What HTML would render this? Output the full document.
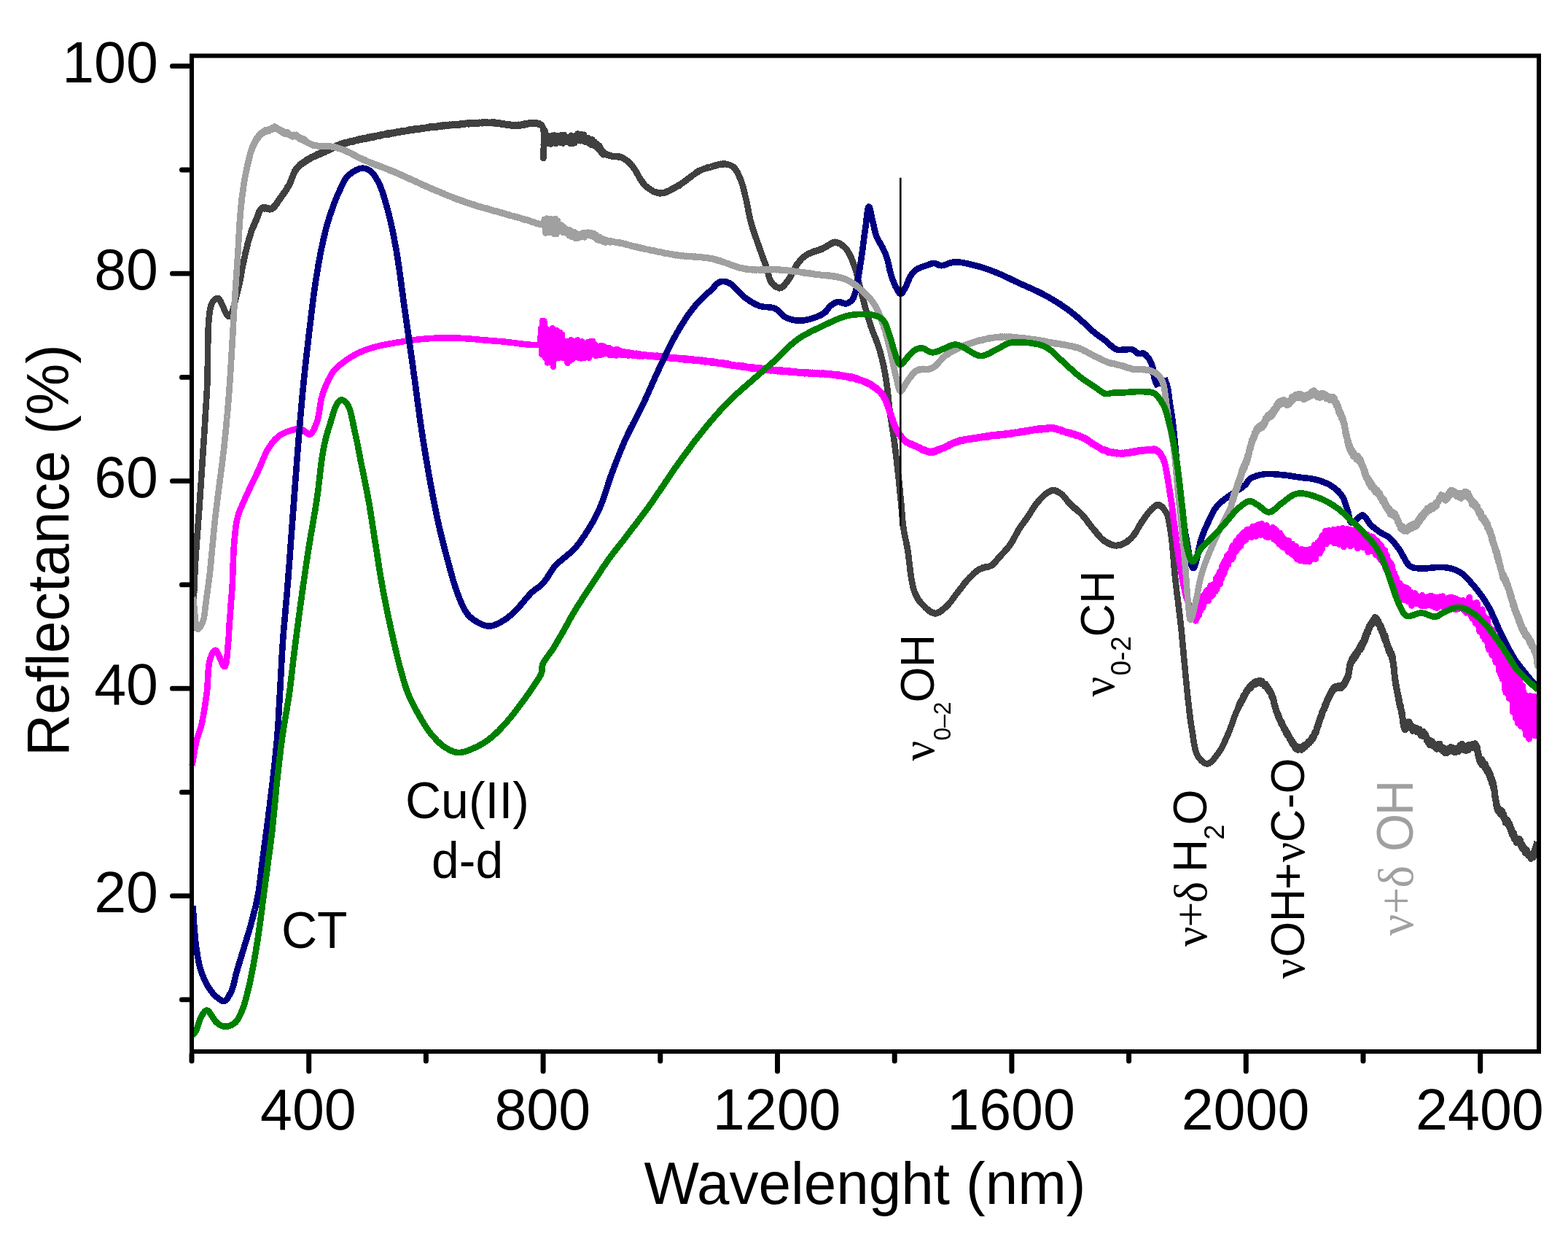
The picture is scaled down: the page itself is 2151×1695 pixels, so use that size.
<!DOCTYPE html>
<html><head><meta charset="utf-8"><title>Reflectance spectra</title><style>
html,body{margin:0;padding:0;background:#fff;}
body{width:2151px;height:1695px;overflow:hidden;}
svg{display:block;}
text{font-family:"Liberation Sans",Arial,sans-serif;fill:#000;}
.tl{font-size:79px;}
.at{font-size:79px;}
.an{font-size:68px;}
.rl{font-size:64.5px;}
</style></head><body>
<svg width="2151" height="1695" viewBox="0 0 2151 1695">
<rect x="0" y="0" width="2151" height="1695" fill="#fff"/>
<path d="M264.2 865.0L264.3 863.5L264.3 862.0L264.4 860.5L264.4 859.0L264.5 857.5L264.5 856.1L264.6 854.6L264.6 853.1L264.7 851.7L264.7 850.2L264.8 848.7L264.8 847.3L264.9 845.8L264.9 844.3L265.0 842.8L265.0 841.3L265.1 839.8L265.2 838.2L265.2 836.7L265.3 835.1L265.3 833.6L265.4 831.9L265.5 830.3L265.5 828.7L265.6 827.0L265.7 825.6L265.7 824.3L265.8 822.9L265.8 821.5L265.9 820.1L265.9 818.7L266.0 817.3L266.1 815.9L266.1 814.4L266.2 813.0L266.2 811.5L266.3 810.1L266.3 808.6L266.4 807.1L266.5 805.6L266.5 804.1L266.6 802.6L266.7 801.1L266.7 799.6L266.8 798.1L266.9 796.5L266.9 795.0L267.0 793.4L267.1 791.9L267.1 790.3L267.2 788.7L267.3 787.2L267.4 785.6L267.4 784.0L267.5 782.4L267.6 780.8L267.7 779.2L267.8 777.6L267.8 776.0L267.9 774.3L268.0 772.7L268.1 771.1L268.2 769.4L268.3 767.8L268.4 766.4L268.5 765.0L268.5 763.7L268.6 762.3L268.7 760.9L268.8 759.5L268.9 758.1L269.0 756.7L269.1 755.3L269.2 753.9L269.3 752.5L269.4 751.1L269.5 749.7L269.6 748.3L269.7 746.9L269.8 745.5L269.9 744.0L270.0 742.6L270.1 741.2L270.2 739.7L270.3 738.3L270.4 736.9L270.5 735.4L270.6 733.9L270.7 732.5L270.8 731.0L270.9 729.5L271.1 728.1L271.2 726.6L271.3 725.1L271.4 723.6L271.5 722.1L271.6 720.6L271.7 719.0L271.9 717.5L272.0 716.0L272.1 714.4L272.2 712.9L272.3 711.3L272.4 709.8L272.6 708.2L272.7 706.6L272.8 705.0L272.9 703.4L273.0 701.8L273.1 700.2L273.3 698.6L273.4 696.9L273.5 695.3L273.6 693.6L273.7 692.0L273.8 690.3L274.0 688.6L274.1 686.9L274.2 685.2L274.3 683.9L274.4 682.6L274.5 681.3L274.6 680.0L274.6 678.6L274.7 677.3L274.8 676.0L274.9 674.6L275.0 673.2L275.1 671.9L275.2 670.5L275.3 669.1L275.4 667.7L275.5 666.3L275.6 664.9L275.7 663.5L275.8 662.0L275.9 660.6L276.0 659.2L276.1 657.7L276.1 656.3L276.2 654.8L276.3 653.3L276.4 651.9L276.5 650.4L276.6 648.9L276.7 647.4L276.8 645.9L276.9 644.4L277.0 642.9L277.1 641.4L277.2 639.9L277.3 638.4L277.4 636.9L277.5 635.3L277.6 633.8L277.7 632.3L277.8 630.7L277.9 629.2L278.0 627.7L278.1 626.1L278.2 624.6L278.3 623.0L278.4 621.5L278.5 619.9L278.6 618.3L278.7 616.8L278.8 615.2L278.9 613.6L279.1 612.1L279.2 610.5L279.3 608.9L279.4 607.4L279.5 605.8L279.6 604.2L279.7 602.7L279.8 601.1L279.9 599.5L280.0 598.0L280.1 596.4L280.2 594.8L280.3 593.2L280.4 591.7L280.5 590.1L280.6 588.5L280.7 587.0L280.8 585.4L280.9 583.8L281.0 582.3L281.1 580.7L281.2 579.2L281.3 577.6L281.4 576.1L281.5 574.5L281.6 573.0L281.7 571.4L281.7 569.9L281.8 568.3L281.9 566.8L282.0 565.3L282.1 563.8L282.2 562.2L282.3 560.7L282.4 559.2L282.5 557.7L282.6 556.2L282.7 554.7L282.8 553.2L282.9 551.7L283.0 550.2L283.1 548.7L283.2 547.3L283.2 545.8L283.3 544.3L283.4 542.9L283.5 541.4L283.6 540.0L283.7 538.4L283.8 536.8L283.9 535.2L283.9 533.6L284.0 531.9L284.1 530.2L284.2 528.6L284.2 526.9L284.3 525.1L284.3 523.4L284.4 521.7L284.4 519.9L284.5 518.2L284.5 516.4L284.6 514.6L284.6 512.8L284.6 511.0L284.7 509.2L284.7 507.4L284.7 505.6L284.7 503.8L284.8 502.0L284.8 500.1L284.8 498.3L284.8 496.5L284.9 494.6L284.9 492.8L284.9 491.0L284.9 489.2L285.0 487.3L285.0 485.5L285.0 483.7L285.0 481.9L285.0 480.1L285.1 478.3L285.1 476.5L285.1 474.7L285.1 473.0L285.2 471.2L285.2 469.5L285.2 467.7L285.3 466.0L285.3 464.3L285.4 462.6L285.4 460.9L285.5 459.2L285.5 457.6L285.6 455.9L285.6 454.3L285.7 452.7L285.7 451.1L285.8 449.6L285.9 448.0L286.0 446.5L286.0 445.0L286.1 443.5L286.2 442.1L286.3 440.7L286.4 439.3L286.5 437.9L286.6 436.5L286.8 435.2L286.9 433.9L287.0 432.7L287.2 431.5L287.3 430.3L287.5 429.1L287.6 428.0L287.8 426.9L288.0 425.8L288.1 424.8L288.3 423.8L288.5 422.8L288.7 421.9L289.0 421.0L289.2 420.2L289.4 419.4L289.6 418.6L289.9 417.9L290.2 417.2L290.4 416.6L290.7 416.0L291.7 414.1L292.8 412.5L294.0 411.2L295.2 410.1L296.4 409.4L297.7 409.0L298.9 409.0L299.6 409.3L300.4 410.0L301.2 410.9L302.0 412.2L302.8 413.6L303.6 415.3L304.4 417.1L305.2 418.9L306.1 420.9L306.9 422.8L307.7 424.7L308.5 426.6L309.3 428.3L310.1 429.9L310.9 431.2L311.6 432.3L312.4 433.2L313.1 433.7L313.8 433.8L314.4 433.6L315.0 433.3L315.6 432.7L316.2 432.0L316.7 431.1L317.3 430.0L317.8 428.8L318.4 427.5L318.9 426.0L319.4 424.5L319.9 422.9L320.4 421.2L320.9 419.4L321.4 417.6L321.9 415.8L322.4 413.9L322.9 412.0L323.3 410.1L323.8 408.3L324.2 406.4L324.7 404.6L325.1 402.9L325.6 401.2L326.0 399.6L326.4 398.2L326.7 396.9L327.1 395.5L327.4 394.1L327.7 392.6L328.1 391.2L328.4 389.7L328.7 388.2L329.0 386.7L329.3 385.2L329.6 383.7L329.9 382.2L330.1 379.8L330.4 379.9L330.7 376.8L331.0 377.0L331.2 373.6L331.5 374.1L331.8 370.5L332.0 371.1L332.3 367.3L332.6 368.1L332.9 364.4L333.1 364.5L333.4 361.3L333.7 362.1L334.0 358.3L334.3 358.9L334.6 355.6L334.9 355.9L335.2 352.7L335.5 353.3L335.9 350.1L336.3 349.8L336.6 346.5L337.0 347.2L337.4 343.8L337.8 343.9L338.2 340.5L338.6 340.3L339.0 337.4L339.3 337.6L339.7 333.9L340.1 334.1L340.5 331.0L340.9 331.1L341.3 328.0L341.7 328.3L342.2 325.0L342.6 325.9L343.0 322.5L343.4 323.2L343.8 320.0L344.2 320.0L344.6 317.3L345.0 317.6L345.6 314.6L346.2 314.4L346.9 311.0L347.5 311.1L348.1 308.4L348.8 308.6L349.4 305.4L350.1 305.9L350.7 302.2L351.3 302.7L352.0 299.7L352.6 299.8L353.2 296.3L353.8 296.5L354.4 293.0L355.0 293.2L355.6 289.5L356.3 290.1L357.1 287.1L358.0 287.9L359.0 285.3L360.3 286.2L361.7 284.1L363.3 286.3L365.0 284.8L366.7 286.6L368.4 285.5L370.1 287.4L371.6 285.9L373.0 286.9L374.2 284.4L375.2 285.1L376.2 282.6L377.2 283.3L378.1 280.3L379.0 280.7L379.9 277.6L380.8 278.3L381.7 275.3L382.7 275.1L383.5 272.4L384.3 273.5L385.2 270.4L386.0 270.8L386.9 267.8L387.8 268.2L388.6 265.4L389.5 265.7L390.4 262.8L391.3 263.2L392.1 260.2L393.0 260.4L393.8 257.2L394.6 257.5L395.4 254.7L396.2 255.3L396.9 252.3L397.6 252.3L398.3 249.1L398.9 249.4L399.5 246.6L400.1 246.6L400.6 243.3L401.2 243.4L401.7 240.5L402.2 240.6L402.8 237.3L403.4 237.9L404.1 234.6L404.7 235.0L405.5 232.4L406.3 233.0L407.3 229.7L408.3 230.5L409.3 227.9L410.4 228.1L411.5 225.6L412.7 226.2L413.9 223.6L415.1 224.9L416.4 222.2L417.7 222.7L419.0 220.0L420.4 221.2L421.6 218.4L422.8 219.5L424.1 217.3L425.4 218.0L426.7 215.5L428.1 216.5L429.5 214.3L430.9 215.2L432.3 212.9L433.7 213.9L435.2 211.3L436.6 212.4L438.1 210.5L439.6 211.6L441.1 208.6L442.5 210.3L444.0 207.6L445.3 209.0L446.7 206.0L448.0 207.2L449.4 204.9L450.7 206.4L452.0 203.7L453.4 205.0L454.7 202.7L456.1 203.6L457.5 201.6L458.9 202.2L460.3 200.1L461.7 201.2L463.2 198.8L464.7 199.9L466.1 197.6L467.7 199.2L469.2 196.5L470.8 198.3L472.4 195.5L473.7 197.1L475.0 195.3L476.3 196.4L477.7 194.4L479.1 195.4L480.4 193.3L481.9 194.8L483.3 192.8L484.7 194.4L486.2 191.9L487.7 193.3L489.1 191.5L490.6 193.0L492.1 190.7L493.7 192.2L495.2 190.1L496.7 191.2L498.2 189.3L499.8 191.0L501.3 188.9L502.9 190.4L504.4 187.8L505.9 189.7L507.5 187.3L509.0 188.6L510.6 186.8L512.1 188.6L513.6 186.6L515.1 187.6L516.6 185.9L518.1 187.2L519.6 185.2L521.1 186.6L522.6 184.3L524.1 185.6L525.7 184.2L527.2 185.1L528.7 183.6L530.2 184.5L531.7 182.5L533.3 184.5L534.8 182.5L536.3 183.7L537.8 181.8L539.3 183.0L540.8 181.2L542.4 182.7L543.9 180.6L545.4 182.0L546.9 180.3L548.4 181.5L550.0 179.8L551.5 181.1L553.0 178.9L554.5 180.5L556.0 178.9L557.6 179.9L559.1 178.2L560.6 179.7L562.1 177.4L563.7 179.1L565.2 177.0L566.7 178.8L568.2 176.7L569.7 178.1L571.2 176.3L572.8 177.9L574.3 175.9L575.8 177.5L577.3 175.4L578.8 176.8L580.3 175.0L581.7 176.6L583.2 174.8L584.7 176.1L586.2 174.2L587.7 176.0L589.2 173.5L590.8 175.2L592.3 173.1L593.8 175.1L595.3 173.2L596.8 174.6L598.3 172.9L599.9 174.4L601.4 172.2L603.0 174.1L604.5 171.8L606.1 173.7L607.6 171.5L609.2 173.3L610.8 171.6L612.4 173.0L614.0 171.4L615.4 172.4L616.9 170.6L618.4 172.1L619.8 170.8L621.3 171.8L622.9 170.0L624.4 171.6L625.9 170.2L627.5 171.8L629.0 169.9L630.6 171.5L632.2 169.3L633.7 171.2L635.3 168.8L636.9 170.8L638.5 168.7L640.1 170.2L641.7 168.4L643.2 170.3L644.8 168.3L646.4 169.8L648.0 168.0L649.5 170.1L651.1 168.3L652.7 169.5L654.2 167.8L655.7 169.7L657.3 167.9L658.8 169.1L660.3 167.7L661.8 169.3L663.2 167.3L664.7 169.1L666.1 167.5L667.5 169.1L668.9 167.5L670.3 169.1L671.7 167.7L673.0 169.2L674.7 167.2L676.4 169.3L678.1 167.5L679.8 169.3L681.4 167.9L683.0 170.1L684.6 168.3L686.2 170.3L687.8 168.8L689.4 170.9L690.9 169.0L692.4 171.0L693.9 170.0L695.4 171.8L696.9 169.9L698.4 172.1L699.8 170.6L701.3 172.6L702.7 171.0L704.1 172.5L705.5 171.2L706.9 172.8L708.3 171.2L710.0 172.5L711.7 170.7L713.4 172.7L715.1 170.5L716.8 172.0L718.4 169.8L720.1 171.4L721.7 169.1L723.2 170.4L724.8 168.7L726.3 169.7L727.7 168.1L729.1 169.7L730.5 168.2L731.8 169.7L733.5 168.3L735.2 170.2L736.9 168.6L738.4 170.7L739.9 169.0L741.3 170.4L742.5 171.3L743.6 172.4L744.1 173.2L744.5 174.2L744.9 175.4L745.2 176.7L745.5 178.2L745.7 179.9L745.9 181.7L746.1 183.6L746.2 185.5L746.2 187.6L746.3 189.7L746.3 191.8L746.3 193.9L746.2 196.1L746.2 198.2L746.1 200.3L746.0 202.4L745.9 204.4L745.8 206.3L745.7 208.1L745.7 209.8L745.6 211.3L745.5 212.7L745.4 214.0L745.4 215.0L745.3 215.9L745.3 216.5L745.4 216.9L745.4 217.0L745.5 216.8L745.5 216.3L745.6 215.5L745.6 214.4L745.6 213.0L745.7 211.4L745.7 209.6L745.7 207.7L745.7 205.6L745.8 203.4L745.8 201.2L745.8 198.9L745.9 196.6L745.9 194.3L745.9 192.0L746.0 189.8L746.1 187.7L746.1 185.8L746.2 184.0L746.3 182.4L746.4 181.0L746.5 179.9L746.7 179.0L746.8 178.5L747.0 178.3L747.3 178.6L747.5 179.7L747.7 181.2L747.9 183.0L748.2 185.0L748.6 187.0L749.1 193.9L749.8 185.7L750.7 197.2L751.7 186.0L752.9 196.9L754.2 187.5L755.7 197.4L757.3 185.8L758.9 195.7L760.6 185.6L762.3 196.9L764.0 185.9L765.6 193.8L767.2 186.4L768.8 195.5L770.4 185.1L772.1 196.5L773.8 184.8L775.4 194.4L777.1 187.6L778.7 194.9L780.3 187.9L781.9 196.6L783.4 185.7L784.9 197.1L786.5 187.4L788.0 196.2L789.5 186.1L791.0 193.4L792.4 183.5L793.8 191.1L795.3 184.8L796.7 193.3L798.2 184.4L799.7 192.5L801.2 184.8L802.6 194.8L804.1 188.5L805.6 195.3L807.0 189.3L808.5 197.3L809.9 191.7L811.2 198.8L812.6 191.4L814.1 199.5L815.4 194.2L816.8 200.2L818.0 196.6L819.2 202.9L820.3 198.8L821.5 205.3L822.4 200.2L823.2 206.6L824.1 203.4L825.0 209.8L826.2 206.4L827.4 212.3L828.7 208.9L830.1 211.7L831.6 211.3L833.2 212.9L834.8 212.4L836.4 213.8L838.0 213.1L839.4 214.5L840.9 213.8L842.5 214.7L844.1 214.1L845.6 215.0L847.2 214.2L848.8 215.4L850.3 214.7L851.8 215.9L853.3 215.6L854.6 217.2L855.9 217.1L857.1 218.8L858.3 218.6L859.6 220.4L860.7 220.5L861.9 222.4L863.1 222.8L864.2 224.8L865.3 225.0L866.4 227.1L867.5 227.4L868.5 229.5L869.4 229.9L870.3 232.0L871.2 232.7L872.1 235.0L872.9 235.4L873.8 237.8L874.6 238.4L875.4 240.7L876.2 241.4L877.0 243.6L877.8 244.0L878.5 246.1L879.3 246.5L880.0 248.4L881.1 249.0L882.0 251.3L882.9 251.7L883.9 253.7L885.0 254.0L886.3 256.1L887.3 256.0L888.4 257.7L889.5 257.8L890.8 259.3L892.1 259.5L893.5 261.0L894.9 261.0L896.3 262.8L897.8 262.7L899.3 264.0L900.8 263.7L902.3 265.1L903.7 264.3L905.2 265.5L906.6 264.5L908.0 265.2L909.4 264.2L910.9 264.6L912.3 263.4L913.8 263.8L915.2 262.4L916.7 262.4L918.2 260.8L919.7 260.8L921.2 259.2L922.7 259.5L924.2 257.5L925.8 257.7L927.3 256.0L928.8 256.1L930.0 254.4L931.3 254.8L932.6 252.9L933.9 252.9L935.2 251.1L936.5 251.1L937.8 249.3L939.1 249.3L940.4 247.5L941.8 247.3L943.1 245.3L944.4 245.2L945.8 243.3L947.1 243.1L948.4 241.4L949.7 241.2L951.0 239.5L952.2 239.3L953.5 237.5L954.7 237.6L955.9 236.0L957.1 236.3L958.3 234.4L959.4 234.7L961.0 233.1L962.6 233.3L964.2 231.9L965.6 232.0L967.1 230.8L968.6 230.9L970.0 229.7L971.5 230.3L972.9 228.9L974.5 229.5L976.0 228.0L977.5 228.4L979.1 227.1L980.7 227.7L982.3 226.2L984.0 226.8L985.6 225.4L987.2 226.0L988.8 224.8L990.4 225.7L991.9 224.4L993.4 225.3L994.8 224.5L996.5 225.6L998.1 225.2L999.6 226.2L1001.1 226.1L1002.6 227.4L1004.0 227.5L1005.3 229.1L1006.6 229.2L1007.6 231.1L1008.5 231.3L1009.4 233.4L1010.3 233.8L1011.1 235.9L1011.8 236.4L1012.6 238.8L1013.3 239.6L1014.0 242.0L1014.7 242.5L1015.3 245.0L1016.0 245.8L1016.5 248.0L1017.1 248.4L1017.5 250.7L1018.0 251.5L1018.5 253.6L1018.9 254.2L1019.3 256.5L1019.7 257.3L1020.1 259.6L1020.5 260.5L1020.9 262.8L1021.3 263.6L1021.7 266.0L1022.0 267.0L1022.4 269.2L1022.8 270.2L1023.2 272.5L1023.5 273.2L1023.9 275.2L1024.2 276.0L1024.5 278.3L1024.8 278.8L1025.1 281.1L1025.4 281.9L1025.7 284.2L1025.9 285.0L1026.2 287.4L1026.5 288.0L1026.8 290.2L1027.1 291.0L1027.4 293.3L1027.7 294.0L1028.0 296.4L1028.4 297.2L1028.7 299.4L1029.0 300.1L1029.4 302.5L1029.8 303.1L1030.2 305.6L1030.6 306.1L1031.0 308.5L1031.5 309.3L1031.9 311.5L1032.4 312.1L1032.8 314.6L1033.3 315.3L1033.8 317.5L1034.3 318.2L1034.8 320.8L1035.3 321.2L1035.9 323.5L1036.4 324.4L1036.9 326.5L1037.4 327.4L1038.0 329.5L1038.5 330.4L1039.0 332.6L1039.5 333.0L1040.0 335.4L1040.5 335.9L1041.0 338.3L1041.5 338.7L1042.0 341.2L1042.5 341.6L1043.1 344.0L1043.6 344.8L1044.2 347.2L1044.7 347.6L1045.3 349.9L1045.8 350.7L1046.4 353.1L1046.9 353.7L1047.4 355.8L1048.0 356.4L1048.5 358.7L1049.0 359.0L1049.5 361.3L1050.0 361.9L1050.5 364.3L1051.0 364.6L1051.5 367.0L1052.0 367.5L1052.5 370.2L1052.9 371.0L1053.3 373.5L1053.7 374.3L1054.1 376.9L1054.5 377.8L1054.9 380.1L1055.4 380.8L1055.9 383.3L1056.4 383.7L1057.0 385.9L1057.7 386.3L1058.5 388.1L1059.6 388.5L1060.8 390.5L1062.1 391.0L1063.4 392.9L1064.8 392.8L1066.2 394.3L1067.6 394.2L1069.0 395.4L1070.3 394.3L1071.4 395.1L1072.5 393.4L1073.7 393.6L1074.8 391.7L1075.8 391.6L1076.9 389.5L1078.0 388.9L1079.0 386.9L1080.1 386.1L1081.1 383.8L1082.1 383.3L1082.9 381.4L1083.7 381.0L1084.5 379.1L1085.2 378.5L1085.9 376.3L1086.6 375.6L1087.4 373.5L1088.1 372.9L1088.8 370.5L1089.5 369.8L1090.2 367.8L1090.9 367.3L1091.7 365.1L1092.4 364.6L1093.2 362.5L1094.0 362.3L1095.0 360.0L1095.9 359.8L1096.9 357.7L1097.9 357.3L1098.8 355.5L1099.8 355.1L1100.9 353.3L1102.0 353.1L1103.1 351.6L1104.4 351.5L1105.7 349.7L1106.9 349.8L1108.2 348.3L1109.6 348.3L1111.0 346.9L1112.5 347.2L1114.0 345.6L1115.6 346.0L1117.2 344.4L1118.7 345.0L1120.3 343.5L1121.9 343.8L1123.5 342.4L1125.0 342.6L1126.5 341.2L1127.9 341.7L1129.3 340.1L1130.8 340.2L1132.3 338.6L1133.7 338.6L1135.1 336.7L1136.5 336.6L1137.9 335.0L1139.2 335.0L1140.5 333.5L1141.9 333.6L1143.2 332.2L1144.5 332.8L1145.8 331.8L1147.3 332.9L1148.8 332.5L1150.3 333.7L1151.8 333.5L1153.3 335.3L1154.7 335.5L1156.1 337.2L1157.5 337.8L1158.8 339.7L1160.0 340.0L1160.9 342.1L1161.7 342.1L1162.5 344.4L1163.3 344.5L1164.1 346.9L1164.8 347.2L1165.5 349.4L1166.2 349.8L1166.9 352.4L1167.5 352.7L1168.2 355.3L1168.8 355.9L1169.4 358.3L1170.0 358.9L1170.6 361.6L1171.2 362.3L1171.8 364.8L1172.3 365.2L1172.7 367.2L1173.2 367.7L1173.6 370.0L1174.1 370.5L1174.5 372.9L1174.9 373.5L1175.2 375.8L1175.6 376.4L1176.0 378.6L1176.4 379.3L1176.7 381.7L1177.1 382.2L1177.4 384.6L1177.8 385.4L1178.2 387.6L1178.5 388.4L1178.9 390.6L1179.2 391.6L1179.6 393.9L1180.0 394.5L1180.4 397.1L1180.8 397.5L1181.2 400.2L1181.6 400.6L1182.0 402.7L1182.3 403.5L1182.7 405.7L1183.1 406.3L1183.5 408.6L1183.9 409.2L1184.3 411.6L1184.7 412.2L1185.0 414.4L1185.4 414.9L1185.8 417.5L1186.2 418.1L1186.6 420.3L1187.0 420.9L1187.4 423.2L1187.8 424.1L1188.3 426.3L1188.7 426.9L1189.1 429.2L1189.5 430.0L1189.9 432.1L1190.4 432.7L1190.8 435.2L1191.2 435.6L1191.7 438.2L1192.1 438.5L1192.5 440.8L1193.0 441.7L1193.5 443.7L1193.9 444.5L1194.4 446.8L1194.9 447.5L1195.5 449.7L1196.0 450.4L1196.5 452.5L1197.0 453.3L1197.6 455.6L1198.1 456.1L1198.7 458.3L1199.2 459.1L1199.8 461.2L1200.3 461.8L1200.9 464.2L1201.4 464.5L1201.9 467.1L1202.5 467.6L1203.0 469.7L1203.5 470.3L1204.0 472.8L1204.5 473.2L1205.0 475.6L1205.5 476.0L1205.9 478.2L1206.4 479.0L1206.8 481.0L1207.2 481.6L1207.6 484.2L1208.0 484.5L1208.4 487.0L1208.8 487.6L1209.2 490.1L1209.6 490.5L1210.0 492.9L1210.3 493.5L1210.7 495.8L1211.0 496.5L1211.3 498.6L1211.6 499.2L1211.9 501.8L1212.3 502.2L1212.6 504.5L1212.9 505.2L1213.1 507.5L1213.4 508.0L1213.7 510.5L1214.0 511.0L1214.3 513.4L1214.6 514.3L1214.8 516.7L1215.1 517.4L1215.3 519.8L1215.6 520.1L1215.8 522.7L1216.0 523.1L1216.2 525.4L1216.4 526.1L1216.6 528.5L1216.8 529.2L1217.0 531.5L1217.2 532.2L1217.4 534.8L1217.5 535.5L1217.7 537.9L1217.9 538.6L1218.0 541.0L1218.2 541.5L1218.4 544.2L1218.5 544.8L1218.7 547.1L1218.9 547.8L1219.0 550.3L1219.2 551.1L1219.4 553.6L1219.5 554.2L1219.7 556.5L1219.9 557.0L1220.1 559.7L1220.2 560.2L1220.4 562.5L1220.6 563.2L1220.8 565.3L1221.0 566.2L1221.2 568.7L1221.5 569.4L1221.7 571.6L1221.9 572.4L1222.1 574.5L1222.3 575.3L1222.6 577.7L1222.8 578.2L1223.0 580.7L1223.3 581.1L1223.5 583.4L1223.7 584.2L1223.9 586.6L1224.2 587.2L1224.4 589.3L1224.6 590.0L1224.9 592.3L1225.1 593.0L1225.3 595.2L1225.5 596.1L1225.7 598.6L1226.0 599.2L1226.2 601.7L1226.4 602.4L1226.6 604.7L1226.8 605.1L1227.0 607.6L1227.2 608.2L1227.4 610.4L1227.6 611.1L1227.8 613.4L1228.0 614.3L1228.1 616.7L1228.3 617.2L1228.5 619.6L1228.7 620.2L1228.9 622.8L1229.1 623.5L1229.3 625.8L1229.5 626.7L1229.7 629.2L1229.8 629.8L1230.0 632.1L1230.2 633.0L1230.4 635.2L1230.6 636.0L1230.8 638.5L1230.9 639.2L1231.1 641.3L1231.3 641.9L1231.4 644.6L1231.6 644.9L1231.8 647.3L1231.9 648.1L1232.1 650.5L1232.3 651.1L1232.4 653.6L1232.6 654.2L1232.8 656.4L1232.9 657.3L1233.1 659.8L1233.3 660.2L1233.4 662.7L1233.6 663.4L1233.7 665.7L1233.9 666.4L1234.0 668.7L1234.2 669.2L1234.3 671.6L1234.4 672.3L1234.6 674.8L1234.7 675.1L1234.9 677.5L1235.0 678.1L1235.2 680.7L1235.3 681.3L1235.5 683.5L1235.6 684.3L1235.8 686.4L1235.9 687.0L1236.0 689.5L1236.2 690.1L1236.3 692.5L1236.5 693.4L1236.6 695.8L1236.7 696.2L1236.9 698.9L1237.0 699.4L1237.1 701.8L1237.3 702.4L1237.4 704.8L1237.5 705.6L1237.6 708.0L1237.8 708.8L1237.9 711.1L1238.1 711.8L1238.2 714.1L1238.4 714.8L1238.5 717.0L1238.7 717.8L1238.8 720.1L1239.0 720.5L1239.2 723.1L1239.4 723.4L1239.6 725.9L1239.8 726.6L1240.1 729.1L1240.3 729.6L1240.6 731.8L1240.9 732.5L1241.2 734.9L1241.5 735.4L1241.8 737.7L1242.1 738.3L1242.4 740.7L1242.7 741.1L1243.0 743.4L1243.3 743.9L1243.6 746.4L1243.9 746.7L1244.2 749.2L1244.5 749.9L1244.8 752.3L1245.0 753.1L1245.3 755.4L1245.5 755.9L1245.7 758.4L1245.9 759.0L1246.2 761.4L1246.4 762.0L1246.5 764.6L1246.7 765.2L1246.9 767.5L1247.1 768.3L1247.3 771.0L1247.5 771.7L1247.7 774.3L1247.8 774.9L1248.0 777.4L1248.2 778.3L1248.4 780.7L1248.6 781.5L1248.8 783.9L1249.0 784.6L1249.2 787.2L1249.4 787.7L1249.6 790.0L1249.8 790.8L1250.0 792.9L1250.3 793.5L1250.5 795.6L1250.7 796.3L1251.0 798.2L1251.4 799.2L1251.7 801.5L1252.1 802.3L1252.4 804.9L1252.8 805.3L1253.1 807.7L1253.5 808.1L1253.9 810.5L1254.4 810.8L1254.9 813.1L1255.4 813.5L1256.0 815.6L1256.6 816.0L1257.3 818.4L1258.1 818.9L1258.9 821.3L1259.8 821.7L1260.7 823.7L1261.7 824.2L1262.7 826.4L1263.7 826.9L1264.7 828.7L1265.8 829.1L1266.9 830.9L1268.0 831.2L1269.2 833.2L1270.5 833.6L1271.8 835.6L1273.2 835.9L1274.6 837.8L1276.0 838.0L1277.4 839.8L1278.9 839.7L1280.3 841.0L1281.7 840.5L1283.1 841.7L1284.5 840.8L1285.9 841.1L1287.3 839.6L1288.7 840.0L1290.1 838.2L1291.5 837.8L1292.9 836.0L1294.2 835.7L1295.6 833.5L1296.9 833.4L1298.2 831.3L1299.2 831.2L1300.2 829.3L1301.2 829.3L1302.2 827.3L1303.1 826.8L1304.1 825.0L1305.0 824.5L1305.9 822.5L1306.8 822.2L1307.8 819.9L1308.7 819.5L1309.6 817.5L1310.5 816.9L1311.4 814.9L1312.4 814.6L1313.3 812.5L1314.2 812.1L1315.2 809.9L1316.1 809.8L1317.0 807.6L1318.0 807.2L1318.9 805.2L1319.8 805.0L1320.8 802.9L1321.7 802.4L1322.6 800.3L1323.6 800.0L1324.5 797.9L1325.5 797.8L1326.4 795.6L1327.4 795.6L1328.4 793.7L1329.5 793.1L1330.6 791.3L1331.7 790.9L1332.9 789.1L1334.0 788.9L1335.1 786.9L1336.3 786.7L1337.4 784.6L1338.6 784.5L1339.8 782.7L1341.0 782.8L1342.2 781.2L1343.5 781.1L1345.0 779.8L1346.5 779.9L1348.1 778.5L1349.8 779.1L1351.4 777.6L1353.1 778.0L1354.7 776.9L1356.3 777.3L1357.8 776.1L1359.2 776.2L1360.5 774.7L1361.8 774.7L1362.9 772.8L1363.9 772.5L1364.9 770.7L1365.9 770.4L1366.8 768.3L1367.8 767.9L1368.8 765.8L1369.9 765.3L1370.8 763.5L1371.8 763.5L1372.7 761.6L1373.8 761.4L1374.8 759.4L1375.8 759.2L1376.9 757.1L1377.9 756.9L1379.0 754.9L1380.0 754.4L1381.1 752.4L1382.1 752.3L1383.1 750.1L1384.1 749.7L1385.0 747.6L1385.9 747.4L1386.7 745.0L1387.5 744.6L1388.3 742.4L1389.1 742.2L1389.9 739.9L1390.6 739.5L1391.4 737.1L1392.1 736.5L1392.9 734.2L1393.6 733.8L1394.3 731.5L1395.1 731.1L1395.9 729.0L1396.6 728.4L1397.4 726.1L1398.2 725.8L1399.1 723.6L1399.9 723.3L1400.8 721.0L1401.7 720.6L1402.6 718.4L1403.5 718.2L1404.4 716.0L1405.3 715.4L1406.2 713.4L1407.1 713.1L1407.9 711.1L1408.8 710.8L1409.7 708.4L1410.6 708.2L1411.4 705.9L1412.3 705.7L1413.2 703.3L1414.0 702.8L1414.9 700.8L1415.7 700.3L1416.5 697.9L1417.4 697.5L1418.2 695.3L1419.1 694.9L1419.9 692.8L1420.8 692.4L1421.7 690.2L1422.7 689.9L1423.7 688.0L1424.8 687.5L1425.9 685.4L1427.0 685.0L1428.1 683.0L1429.2 682.5L1430.4 680.7L1431.5 680.3L1432.7 678.4L1433.8 678.2L1434.9 676.8L1436.0 676.7L1437.6 674.9L1439.1 674.8L1440.7 673.2L1442.2 673.3L1443.8 672.1L1445.4 673.1L1446.8 672.1L1448.2 673.5L1449.6 673.2L1451.1 674.7L1452.5 674.9L1454.0 676.5L1455.4 676.6L1456.7 678.5L1457.8 678.6L1458.8 680.6L1459.9 680.9L1460.8 682.9L1461.8 683.2L1462.8 685.4L1463.8 685.9L1464.8 688.1L1465.8 688.6L1466.9 690.6L1468.0 690.8L1469.1 693.0L1470.2 692.9L1471.3 695.0L1472.5 695.1L1473.7 696.9L1474.9 696.8L1476.1 698.7L1477.3 698.9L1478.5 700.9L1479.7 700.9L1480.9 702.9L1482.1 703.1L1483.2 705.1L1484.2 705.3L1485.2 707.2L1486.1 707.5L1487.1 709.6L1488.0 709.7L1489.0 711.8L1489.9 712.1L1490.8 714.3L1491.7 714.5L1492.7 716.7L1493.6 717.1L1494.5 719.2L1495.5 719.6L1496.4 721.5L1497.3 722.0L1498.3 724.0L1499.3 724.3L1500.3 726.4L1501.2 726.7L1502.2 728.9L1503.2 729.0L1504.2 731.3L1505.2 731.6L1506.2 733.5L1507.1 734.0L1508.2 736.1L1509.2 736.1L1510.2 738.0L1511.3 738.4L1512.3 740.2L1513.4 740.0L1514.7 741.9L1516.0 741.9L1517.4 743.6L1518.8 743.7L1520.2 745.4L1521.6 745.2L1523.0 746.7L1524.4 746.6L1525.8 747.8L1527.2 747.2L1528.5 748.3L1530.2 747.9L1531.8 748.5L1533.4 747.5L1535.0 748.1L1536.6 746.9L1538.2 747.4L1539.8 745.7L1541.1 746.0L1542.5 744.4L1543.9 744.4L1545.2 742.9L1546.6 742.9L1547.9 741.0L1549.2 740.6L1550.5 738.7L1551.8 738.3L1553.0 736.1L1553.9 736.0L1554.8 734.0L1555.7 733.8L1556.5 731.6L1557.4 731.3L1558.2 729.0L1559.0 728.5L1559.8 726.4L1560.6 725.8L1561.4 723.4L1562.2 722.9L1563.0 720.8L1563.8 720.2L1564.6 718.2L1565.4 717.6L1566.2 715.5L1567.1 715.1L1568.1 712.8L1569.0 712.3L1569.9 710.3L1570.8 709.5L1571.8 707.5L1572.7 707.0L1573.6 704.9L1574.6 704.6L1575.5 702.5L1576.5 702.4L1577.5 700.4L1578.7 700.2L1579.9 698.0L1581.2 697.5L1582.4 695.5L1583.7 695.1L1585.0 693.3L1586.2 693.5L1587.5 692.3L1588.7 693.1L1589.9 692.2L1591.1 693.6L1592.4 693.5L1593.6 695.1L1594.8 695.3L1595.9 697.5L1597.0 698.1L1598.1 700.5L1599.0 701.0L1599.6 702.8L1600.2 703.6L1600.7 704.8L1601.2 706.1L1601.7 707.4L1602.1 708.8L1602.5 710.3L1602.8 711.8L1603.2 713.3L1603.5 714.9L1603.8 716.6L1604.1 718.3L1604.4 720.0L1604.7 721.8L1605.0 723.6L1605.3 725.4L1605.6 727.3L1605.8 728.5L1606.0 729.7L1606.2 730.9L1606.4 732.2L1606.6 733.5L1606.7 734.8L1606.9 736.2L1607.1 737.6L1607.2 739.0L1607.4 740.4L1607.6 741.8L1607.7 743.3L1607.9 744.8L1608.0 746.3L1608.2 747.8L1608.3 749.3L1608.4 750.9L1608.6 752.4L1608.7 754.0L1608.9 755.6L1609.0 757.2L1609.1 758.8L1609.3 760.4L1609.4 762.0L1609.5 763.6L1609.7 765.3L1609.8 766.9L1609.9 768.5L1610.1 770.1L1610.2 771.8L1610.3 773.4L1610.5 775.0L1610.6 776.6L1610.7 778.3L1610.9 779.9L1611.0 781.5L1611.2 783.1L1611.3 784.7L1611.5 786.2L1611.6 787.8L1611.8 789.3L1611.9 790.9L1612.1 792.4L1612.3 793.9L1612.4 795.4L1612.6 797.0L1612.8 798.5L1613.0 800.0L1613.1 801.5L1613.3 803.1L1613.5 804.6L1613.7 806.1L1613.9 807.7L1614.1 809.2L1614.2 810.7L1614.4 812.3L1614.6 813.8L1614.8 815.3L1615.0 816.9L1615.2 818.4L1615.4 819.9L1615.6 821.5L1615.8 823.0L1616.0 824.5L1616.2 826.1L1616.3 827.6L1616.5 829.1L1616.7 830.7L1616.9 832.2L1617.1 833.7L1617.3 835.2L1617.5 836.7L1617.7 838.2L1617.8 839.7L1618.0 841.2L1618.2 842.7L1618.4 844.2L1618.6 845.7L1618.7 847.2L1618.9 848.7L1619.1 850.2L1619.3 851.7L1619.4 853.1L1619.6 854.6L1619.7 856.0L1619.9 857.5L1620.1 859.1L1620.2 860.7L1620.4 862.2L1620.6 863.8L1620.7 865.3L1620.9 866.9L1621.0 868.4L1621.2 870.0L1621.3 871.5L1621.5 873.0L1621.6 874.6L1621.8 876.1L1621.9 877.6L1622.1 879.1L1622.2 880.7L1622.3 882.2L1622.5 883.7L1622.6 885.2L1622.7 886.7L1622.9 888.2L1623.0 889.7L1623.2 891.2L1623.3 892.7L1623.4 894.2L1623.6 895.7L1623.7 897.2L1623.8 898.7L1624.0 900.1L1624.1 901.6L1624.2 903.1L1624.4 904.6L1624.5 906.1L1624.7 907.6L1624.8 909.1L1625.0 910.6L1625.1 912.1L1625.3 913.7L1625.4 915.2L1625.6 916.8L1625.7 918.3L1625.9 919.9L1626.0 921.4L1626.1 923.0L1626.3 924.6L1626.4 926.1L1626.6 927.7L1626.7 929.3L1626.9 930.8L1627.0 932.4L1627.2 934.0L1627.3 935.5L1627.5 937.1L1627.6 938.6L1627.8 940.2L1627.9 941.7L1628.1 943.3L1628.2 944.8L1628.4 946.4L1628.6 947.9L1628.7 949.4L1628.9 950.9L1629.0 952.4L1629.2 953.9L1629.3 955.4L1629.5 956.9L1629.6 958.3L1629.8 959.8L1630.0 961.2L1630.1 962.7L1630.3 964.1L1630.5 965.7L1630.7 967.3L1630.9 968.9L1631.0 970.5L1631.2 972.0L1631.4 973.6L1631.6 975.1L1631.7 976.7L1631.9 978.2L1632.1 979.7L1632.3 981.2L1632.5 982.7L1632.7 984.2L1632.8 985.7L1633.0 987.2L1633.2 988.6L1633.4 990.1L1633.6 991.6L1633.9 993.0L1634.1 994.5L1634.3 996.0L1634.5 997.4L1634.8 998.9L1635.0 1000.3L1635.2 1001.8L1635.5 1003.2L1635.8 1004.7L1636.0 1006.3L1636.3 1007.9L1636.5 1009.5L1636.8 1011.1L1637.0 1012.8L1637.2 1014.4L1637.5 1016.0L1637.7 1017.7L1638.0 1019.3L1638.3 1020.9L1638.6 1022.4L1638.9 1024.0L1639.2 1025.5L1639.5 1027.0L1639.9 1028.4L1640.3 1029.8L1640.7 1031.2L1641.1 1032.5L1641.6 1033.7L1642.1 1034.9L1642.7 1036.0L1643.3 1037.0L1644.2 1038.4L1645.3 1039.9L1646.4 1041.2L1647.5 1042.5L1648.8 1043.8L1650.0 1044.8L1651.3 1045.8L1652.5 1046.5L1653.8 1047.1L1655.1 1047.4L1656.3 1047.5L1657.4 1047.3L1658.5 1046.9L1659.7 1046.2L1660.8 1045.4L1662.0 1044.4L1663.2 1043.2L1664.4 1041.9L1665.5 1040.5L1666.7 1039.1L1667.8 1037.6L1668.9 1036.1L1670.0 1034.6L1671.0 1033.2L1672.0 1031.8L1672.8 1030.6L1673.6 1029.4L1674.4 1028.2L1675.1 1027.0L1675.8 1025.7L1676.5 1024.4L1677.2 1023.0L1677.9 1021.7L1678.6 1020.3L1679.2 1018.9L1679.9 1017.5L1680.5 1016.0L1681.2 1014.6L1681.8 1013.2L1682.4 1011.7L1683.1 1010.2L1683.7 1008.7L1684.4 1007.3L1685.0 1005.8L1685.6 1004.5L1686.1 1003.2L1686.7 1001.8L1687.2 1000.4L1687.7 999.0L1688.2 997.6L1688.8 996.2L1689.3 994.8L1689.8 993.4L1690.3 991.9L1690.8 990.5L1691.3 989.1L1691.8 987.6L1692.3 986.2L1692.8 984.7L1693.3 983.3L1693.9 981.8L1694.4 980.4L1695.0 979.0L1695.6 977.5L1696.1 976.1L1696.7 974.7L1697.4 973.4L1698.0 972.0L1698.7 970.6L1699.3 969.2L1700.0 966.0L1700.7 967.8L1701.4 962.4L1702.1 965.0L1702.8 960.7L1703.6 962.1L1704.3 957.7L1705.0 959.4L1705.8 953.6L1706.6 956.8L1707.3 951.8L1708.1 953.7L1708.9 948.7L1709.7 950.7L1710.5 946.1L1711.3 948.0L1712.1 944.0L1712.9 946.2L1713.7 942.0L1714.5 944.8L1715.4 940.3L1716.2 943.2L1717.6 938.2L1719.0 939.8L1720.5 935.4L1722.0 938.6L1723.5 934.0L1724.9 937.5L1726.4 933.4L1727.8 936.6L1729.2 933.4L1730.4 937.7L1731.5 933.9L1732.7 938.3L1733.8 936.8L1735.0 941.1L1736.1 937.8L1737.2 943.1L1738.3 940.7L1739.3 946.0L1740.3 943.9L1741.3 948.8L1742.2 946.5L1742.8 950.8L1743.4 949.2L1744.0 954.1L1744.5 951.8L1745.1 956.4L1745.5 954.5L1746.0 959.0L1746.5 956.8L1746.9 962.5L1747.3 959.4L1747.7 965.2L1748.1 963.5L1748.5 968.1L1749.0 966.8L1749.4 971.0L1749.8 969.2L1750.2 974.6L1750.7 972.7L1751.2 977.0L1751.6 975.8L1752.2 979.8L1752.7 978.0L1753.3 982.7L1753.9 980.4L1754.5 986.0L1755.2 984.0L1755.8 988.7L1756.5 987.2L1757.1 991.9L1757.8 989.0L1758.4 994.2L1759.1 991.8L1759.8 996.8L1760.5 995.2L1761.2 999.4L1761.9 997.9L1762.7 1002.6L1763.4 1000.0L1764.2 1005.4L1764.9 1003.3L1765.7 1008.0L1766.5 1005.4L1767.4 1010.3L1768.2 1008.3L1769.1 1013.4L1769.9 1011.9L1770.8 1016.5L1771.7 1014.4L1772.6 1020.1L1773.5 1017.0L1774.4 1022.2L1775.4 1019.7L1776.3 1025.5L1777.3 1022.2L1778.3 1027.6L1779.3 1024.5L1780.3 1028.5L1781.3 1024.2L1782.5 1028.0L1783.8 1024.5L1785.1 1028.5L1786.4 1024.0L1787.8 1027.1L1789.2 1021.5L1790.5 1024.6L1791.9 1020.4L1793.3 1021.9L1794.6 1016.9L1795.9 1019.5L1797.2 1014.9L1798.4 1016.7L1799.5 1011.2L1800.2 1014.1L1800.9 1010.4L1801.6 1012.9L1802.3 1007.7L1802.9 1009.7L1803.5 1004.3L1804.1 1007.0L1804.7 1002.9L1805.3 1005.0L1805.8 999.8L1806.3 1001.3L1806.9 995.9L1807.4 998.3L1807.9 993.0L1808.4 995.4L1808.9 990.7L1809.4 992.1L1809.8 987.3L1810.3 989.5L1810.8 984.4L1811.3 986.4L1811.8 981.5L1812.4 983.9L1812.9 977.7L1813.4 980.9L1814.0 975.0L1814.5 977.1L1815.1 973.1L1815.8 974.5L1816.4 970.3L1817.1 972.5L1817.7 966.1L1818.4 969.2L1819.0 963.3L1819.7 964.8L1820.3 960.2L1821.0 961.5L1821.7 956.3L1822.3 958.6L1823.0 954.0L1823.7 956.5L1824.4 951.2L1825.1 953.6L1825.8 948.4L1826.5 950.7L1827.2 946.2L1827.9 948.8L1828.6 943.8L1829.3 946.2L1830.1 941.9L1830.8 945.2L1832.3 941.1L1833.9 943.7L1835.5 940.5L1837.1 943.7L1838.6 940.1L1840.0 943.5L1841.0 939.8L1842.0 941.8L1843.0 937.8L1843.9 939.5L1844.8 934.7L1845.6 936.8L1846.4 932.1L1847.1 933.7L1847.8 928.9L1848.5 931.4L1849.0 926.2L1849.4 928.7L1849.8 923.3L1850.1 925.4L1850.3 920.1L1850.5 923.7L1850.8 916.4L1851.0 919.7L1851.2 913.3L1851.5 917.5L1851.8 910.5L1852.2 913.7L1852.7 907.7L1853.3 910.1L1854.0 904.5L1854.7 908.2L1855.4 901.8L1856.2 905.4L1857.1 899.2L1857.9 903.3L1858.7 897.1L1859.6 901.2L1860.4 894.7L1861.2 898.5L1862.0 892.0L1862.9 895.8L1863.8 889.3L1864.6 892.0L1865.5 886.4L1866.4 891.0L1867.2 883.3L1868.1 888.6L1868.9 880.4L1869.7 884.2L1870.3 878.9L1870.9 881.7L1871.5 875.5L1872.1 879.6L1872.6 872.5L1873.1 877.2L1873.7 869.0L1874.2 873.9L1874.7 866.2L1875.3 870.7L1875.8 864.8L1876.4 868.4L1877.0 861.9L1877.6 864.2L1878.2 858.0L1879.1 861.7L1880.0 855.0L1880.9 857.8L1881.9 852.4L1882.9 855.9L1883.8 849.8L1884.8 853.1L1885.8 846.4L1886.7 851.6L1887.6 846.9L1888.5 853.6L1889.3 848.8L1890.2 856.1L1891.1 851.6L1891.9 857.9L1892.8 856.1L1893.6 862.6L1894.4 858.2L1895.2 865.4L1895.8 861.9L1896.4 867.9L1896.9 864.1L1897.5 871.3L1898.1 867.6L1898.6 874.7L1899.1 871.4L1899.7 877.9L1900.2 871.4L1900.7 879.7L1901.2 876.0L1901.7 882.0L1902.2 879.6L1902.7 886.6L1903.2 882.4L1903.7 888.8L1904.3 885.5L1904.8 892.9L1905.4 889.0L1906.0 894.7L1906.6 890.5L1907.1 898.0L1907.7 893.8L1908.2 899.0L1908.7 895.0L1909.2 902.9L1909.7 898.4L1910.1 905.2L1910.4 900.7L1910.7 908.1L1910.9 905.1L1911.2 910.5L1911.4 907.9L1911.6 914.7L1911.8 911.1L1912.0 918.6L1912.2 913.9L1912.4 921.0L1912.5 917.2L1912.7 924.6L1912.8 920.6L1913.0 927.8L1913.2 924.1L1913.3 931.0L1913.5 926.7L1913.7 933.6L1913.9 929.9L1914.1 936.9L1914.3 932.8L1914.6 939.6L1914.9 937.0L1915.2 943.7L1915.5 939.7L1915.8 946.3L1916.1 943.6L1916.4 949.2L1916.7 946.0L1917.0 953.0L1917.4 950.0L1917.7 955.1L1918.0 952.6L1918.3 959.7L1918.6 955.1L1918.9 961.9L1919.2 958.5L1919.5 965.2L1919.8 960.4L1920.1 968.1L1920.4 964.8L1920.7 970.2L1921.0 966.3L1921.3 971.9L1921.6 968.3L1921.9 975.0L1922.2 971.8L1922.5 978.2L1922.8 973.9L1923.1 980.7L1923.3 976.3L1923.6 984.0L1923.8 980.8L1924.0 986.8L1924.2 984.1L1924.5 991.1L1924.7 987.7L1924.9 994.4L1925.2 992.0L1925.5 996.8L1925.8 994.4L1926.2 999.1L1926.6 994.5L1927.1 1001.0L1927.9 995.6L1928.7 999.6L1929.6 991.8L1930.6 995.3L1931.5 989.8L1932.5 994.9L1933.4 989.8L1934.3 996.8L1935.1 994.4L1935.9 999.5L1936.8 994.9L1937.7 1002.5L1938.7 996.9L1939.8 1001.8L1941.1 997.7L1942.6 1003.5L1944.1 998.7L1945.7 1004.8L1947.3 999.8L1948.9 1008.8L1950.4 1003.7L1951.4 1009.6L1952.4 1003.2L1953.4 1009.3L1954.4 1005.2L1955.3 1010.4L1956.2 1008.2L1957.2 1015.4L1958.1 1012.1L1959.1 1019.0L1960.1 1015.0L1961.1 1021.7L1962.1 1015.5L1963.2 1022.3L1964.4 1016.1L1965.7 1022.1L1966.9 1019.4L1968.2 1025.2L1969.5 1021.4L1970.8 1027.3L1972.2 1020.6L1973.6 1026.9L1975.0 1019.8L1976.5 1028.1L1978.0 1024.0L1979.4 1030.5L1980.8 1025.5L1982.2 1032.7L1983.7 1027.5L1985.2 1032.8L1986.7 1026.6L1988.3 1030.9L1989.8 1024.3L1991.4 1029.8L1993.0 1025.4L1994.6 1031.6L1996.2 1026.7L1997.7 1031.4L1999.3 1025.6L2000.9 1031.0L2002.5 1022.0L2004.1 1026.7L2005.8 1020.0L2007.5 1028.5L2009.2 1024.3L2011.0 1029.9L2012.6 1022.3L2014.3 1028.8L2015.9 1020.9L2017.4 1026.0L2018.9 1020.7L2020.2 1025.5L2021.5 1020.0L2022.6 1025.5L2023.7 1019.6L2024.7 1026.6L2025.5 1022.4L2026.2 1029.5L2026.9 1025.8L2027.4 1034.9L2028.0 1031.6L2028.5 1039.4L2029.1 1036.2L2029.7 1044.3L2030.3 1040.0L2031.1 1046.2L2031.9 1040.8L2032.8 1049.0L2033.7 1042.7L2034.6 1049.1L2035.6 1045.8L2036.5 1052.8L2037.5 1047.6L2038.4 1055.7L2039.3 1052.0L2040.1 1059.0L2041.0 1054.3L2041.7 1061.2L2042.4 1057.2L2043.0 1064.4L2043.6 1060.0L2044.2 1068.0L2044.7 1062.2L2045.2 1069.4L2045.7 1065.8L2046.2 1073.8L2046.7 1068.2L2047.2 1075.8L2047.6 1070.7L2048.1 1077.6L2048.4 1073.5L2048.8 1081.3L2049.1 1076.6L2049.4 1083.4L2049.6 1079.4L2049.9 1086.0L2050.1 1082.7L2050.4 1089.5L2050.6 1085.2L2050.8 1094.1L2051.1 1089.6L2051.3 1097.5L2051.6 1093.2L2051.9 1100.4L2052.2 1097.1L2052.5 1104.4L2052.8 1099.1L2053.2 1107.4L2053.6 1103.6L2054.0 1110.6L2054.5 1106.7L2055.2 1113.0L2055.9 1108.2L2056.6 1113.6L2057.4 1109.8L2058.3 1116.7L2059.1 1110.6L2060.0 1116.7L2060.9 1112.5L2061.8 1120.3L2062.7 1115.9L2063.5 1123.9L2064.3 1121.1L2065.1 1128.5L2065.9 1123.7L2066.7 1128.8L2067.5 1124.0L2068.2 1130.4L2069.0 1126.3L2069.8 1133.8L2070.5 1128.7L2071.3 1136.2L2072.0 1132.2L2072.8 1141.2L2073.6 1136.6L2074.3 1144.6L2075.0 1140.9L2075.8 1147.3L2076.5 1142.0L2077.3 1151.2L2078.0 1146.8L2078.8 1152.2L2079.5 1149.1L2080.3 1155.8L2081.1 1150.5L2081.8 1155.3L2082.6 1150.1L2083.4 1156.1L2084.2 1150.3L2085.0 1157.4L2085.9 1152.4L2086.7 1161.2L2087.6 1156.9L2088.4 1164.2L2089.3 1159.5L2090.2 1165.9L2091.1 1163.1L2092.0 1169.6L2092.9 1164.3L2093.8 1170.7L2094.8 1165.4L2096.5 1173.7L2098.3 1171.3L2100.1 1178.0L2101.8 1171.6L2103.3 1176.0L2104.1 1167.9L2104.8 1171.3L2105.3 1165.4L2105.8 1169.6L2106.3 1162.4L2106.7 1166.9L2107.0 1161.3L2107.4 1159.5L2107.7 1157.7L2108.1 1155.9L2108.6 1154.3" fill="none" stroke="#404040" stroke-width="8.6" stroke-linejoin="round" stroke-linecap="butt" shape-rendering="crispEdges"/>
<path d="M263.5 1049.9L263.8 1048.4L264.0 1046.9L264.3 1045.4L264.5 1043.8L264.8 1042.3L265.0 1040.7L265.3 1039.2L265.5 1037.7L265.8 1036.1L266.0 1034.6L266.3 1033.0L266.5 1031.5L266.8 1030.0L267.1 1028.5L267.3 1027.0L267.6 1025.5L267.9 1024.0L268.2 1022.5L268.5 1021.1L268.8 1019.7L269.1 1018.3L269.4 1016.9L269.8 1015.3L270.2 1013.8L270.6 1012.3L271.1 1010.9L271.5 1009.5L272.0 1008.1L272.5 1006.7L272.9 1005.3L273.4 1003.9L273.9 1002.5L274.3 1001.1L274.8 999.6L275.2 998.1L275.7 996.6L276.1 995.0L276.5 993.3L276.8 992.0L277.1 990.7L277.4 989.3L277.7 987.9L278.0 986.5L278.2 985.1L278.5 983.6L278.8 982.2L279.1 980.7L279.3 979.2L279.6 977.6L279.9 976.1L280.1 974.6L280.4 973.0L280.6 971.4L280.9 969.9L281.1 968.3L281.4 966.7L281.6 965.1L281.8 963.5L282.1 961.9L282.3 960.3L282.5 958.7L282.7 957.1L283.0 955.5L283.2 953.9L283.4 952.4L283.6 950.8L283.8 949.3L284.0 947.8L284.1 946.2L284.3 944.6L284.4 943.0L284.5 941.3L284.6 939.7L284.7 938.0L284.8 936.3L284.9 934.6L285.0 932.9L285.1 931.2L285.2 929.5L285.3 927.8L285.4 926.1L285.5 924.5L285.6 922.8L285.7 921.2L285.8 919.6L285.9 918.0L286.1 916.5L286.2 915.0L286.4 913.5L286.5 912.1L286.7 910.7L286.9 909.4L287.2 908.1L287.4 906.9L287.7 905.7L288.0 904.6L288.3 903.6L288.9 901.7L289.6 899.9L290.4 898.1L291.1 896.4L291.9 894.9L292.8 893.6L293.6 892.6L294.5 892.0L295.4 891.8L296.1 892.0L296.8 892.7L297.5 893.7L298.3 895.0L299.1 896.6L299.9 898.3L300.7 900.2L301.6 902.1L302.4 904.1L303.2 906.1L304.0 907.9L304.7 909.6L305.5 911.1L306.2 912.4L306.8 913.3L307.5 913.9L308.0 914.0L308.4 913.8L308.9 913.3L309.2 912.6L309.6 911.7L309.9 910.6L310.2 909.3L310.5 907.9L310.7 906.3L311.0 904.6L311.2 902.8L311.4 901.0L311.6 899.1L311.8 897.1L311.9 895.1L312.1 893.2L312.2 891.2L312.4 889.3L312.5 887.4L312.7 885.7L312.8 884.0L313.0 882.4L313.1 881.0L313.3 879.3L313.4 877.7L313.6 876.1L313.7 874.5L313.8 873.0L313.8 871.5L313.9 870.0L314.0 868.5L314.1 866.9L314.1 865.4L314.2 863.9L314.3 862.3L314.4 860.7L314.5 859.1L314.6 857.6L314.7 856.1L314.8 854.6L314.9 853.1L315.0 851.5L315.2 849.9L315.3 848.4L315.4 846.8L315.5 845.2L315.6 843.6L315.8 842.0L315.9 840.4L316.0 838.8L316.1 837.2L316.2 835.6L316.4 834.0L316.5 832.4L316.6 830.8L316.7 829.2L316.8 827.6L317.0 826.0L317.1 824.5L317.2 822.9L317.3 821.3L317.5 819.7L317.6 818.1L317.7 816.5L317.9 814.9L318.0 813.3L318.1 811.7L318.2 810.1L318.3 808.6L318.4 807.0L318.5 805.5L318.6 804.0L318.7 802.5L318.8 800.9L318.9 799.4L318.9 797.8L319.0 796.4L319.0 794.9L319.1 793.4L319.1 791.9L319.1 790.5L319.2 789.0L319.2 787.5L319.3 786.0L319.3 784.5L319.4 782.9L319.4 781.3L319.5 779.6L319.6 778.2L319.6 776.8L319.7 775.4L319.7 773.9L319.8 772.4L319.8 770.9L319.9 769.4L319.9 767.8L320.0 766.3L320.1 764.7L320.1 763.2L320.2 761.6L320.3 760.0L320.3 758.4L320.4 756.8L320.5 755.2L320.6 753.6L320.7 752.0L320.8 750.4L320.9 748.9L321.0 747.3L321.2 745.7L321.3 744.2L321.4 742.7L321.6 741.1L321.7 739.5L321.9 737.9L322.0 736.3L322.2 734.8L322.3 733.2L322.5 731.6L322.6 730.0L322.8 728.4L323.0 726.8L323.2 725.2L323.4 723.6L323.6 722.1L323.8 720.5L324.0 719.0L324.3 717.5L324.5 716.0L324.8 714.5L325.1 713.0L325.4 711.6L325.8 710.2L326.1 708.8L326.5 707.2L327.0 705.6L327.5 704.1L328.0 702.6L328.5 701.2L329.1 699.8L329.6 698.4L330.2 697.0L330.8 695.6L331.5 694.2L332.1 692.8L332.7 691.4L333.4 689.9L334.1 688.4L334.8 686.8L335.5 685.2L336.0 684.0L336.6 682.7L337.2 681.4L337.8 680.1L338.4 678.8L339.0 677.5L339.6 676.1L340.3 674.7L340.9 673.3L341.6 671.9L342.3 670.5L342.9 669.1L343.6 667.6L344.3 666.2L345.0 664.7L345.7 663.3L346.4 661.8L347.1 660.4L347.8 658.9L348.5 657.5L349.2 656.1L349.9 654.6L350.6 653.2L351.2 651.8L351.9 650.4L352.5 649.1L353.2 647.7L353.8 646.4L354.4 645.1L355.1 643.6L355.8 642.1L356.4 640.6L357.0 639.1L357.7 637.6L358.3 636.1L358.9 634.6L359.5 633.2L360.1 631.7L360.7 630.2L361.3 628.8L361.9 627.4L362.6 626.0L363.2 624.6L363.8 623.2L364.4 621.9L365.1 620.5L365.7 619.2L366.4 618.0L367.1 616.8L367.8 615.6L368.5 614.4L369.4 613.0L370.3 611.6L371.3 610.2L372.2 608.9L373.2 607.6L374.1 606.4L375.1 605.2L376.1 604.0L377.1 602.9L378.2 601.8L379.3 600.8L380.4 599.8L381.5 598.8L382.7 597.9L384.0 597.0L385.4 596.1L386.8 595.3L388.3 594.5L389.8 593.8L391.3 593.1L392.8 592.5L394.4 591.9L395.9 591.3L397.4 590.8L398.9 590.4L400.3 590.0L401.6 589.6L403.4 589.1L405.2 588.7L406.9 588.4L408.5 588.2L410.2 588.1L411.8 588.1L413.4 588.4L414.8 588.9L416.2 589.8L417.5 590.8L418.9 592.0L420.2 593.2L421.6 594.3L422.8 595.1L424.0 595.5L425.2 595.5L426.2 595.1L427.1 594.4L428.0 593.4L428.8 592.3L429.6 590.9L430.4 589.4L431.2 587.8L431.9 586.1L432.6 584.3L433.3 582.5L434.0 580.7L434.6 579.0L435.0 577.8L435.4 576.5L435.8 575.2L436.1 573.9L436.4 572.4L436.7 571.0L437.0 569.5L437.3 568.0L437.6 566.5L437.8 564.9L438.1 563.3L438.3 561.7L438.5 560.1L438.8 558.5L439.0 556.9L439.3 555.4L439.5 553.8L439.8 552.2L440.0 550.7L440.3 549.2L440.6 547.7L441.0 546.3L441.3 544.9L441.7 543.6L442.2 542.0L442.7 540.3L443.2 538.7L443.8 537.1L444.3 535.6L444.9 534.0L445.5 532.5L446.1 531.0L446.7 529.6L447.3 528.1L447.9 526.7L448.5 525.3L449.1 523.9L449.8 522.6L450.4 521.3L451.1 520.0L451.9 518.5L452.6 517.1L453.3 515.8L454.0 514.5L454.7 513.2L455.5 512.0L456.3 510.7L457.2 509.5L458.2 508.3L459.4 507.0L460.6 505.7L461.4 504.9L462.3 504.0L463.3 503.2L464.2 502.3L465.2 501.4L466.3 500.5L467.4 499.6L468.5 498.7L469.7 497.8L470.9 496.9L472.1 496.0L473.3 495.1L474.6 494.2L475.9 493.3L477.3 492.4L478.6 491.5L480.0 490.6L481.4 489.7L482.8 488.9L484.2 488.0L485.7 487.2L487.1 486.4L488.6 485.6L490.1 484.8L491.5 484.1L493.0 483.4L494.5 482.7L496.0 482.0L497.3 481.5L498.5 480.9L499.8 480.4L501.2 479.9L502.5 479.4L503.9 479.0L505.2 478.5L506.6 478.1L508.0 477.6L509.5 477.2L510.9 476.8L512.3 476.4L513.8 476.0L515.3 475.6L516.8 475.2L518.3 474.8L519.8 474.5L521.3 474.1L522.8 473.8L524.3 473.4L525.8 473.1L527.4 472.8L528.9 472.5L530.5 472.2L532.0 471.9L533.6 471.6L535.1 471.3L536.7 471.0L538.2 470.8L539.8 470.5L541.3 470.2L542.9 470.0L544.4 469.7L545.9 469.4L547.5 469.2L549.0 469.0L550.5 468.7L552.0 468.5L553.5 468.2L555.0 468.0L556.5 467.8L558.0 467.5L559.5 467.3L561.0 467.1L562.5 466.9L564.0 466.7L565.5 466.5L567.0 466.3L568.5 466.1L569.9 465.9L571.4 465.8L572.9 465.6L574.4 465.4L575.9 465.3L577.4 465.1L578.9 465.0L580.4 464.9L581.9 464.7L583.4 464.6L584.9 464.5L586.4 464.4L587.9 464.3L589.4 464.2L590.9 464.1L592.4 464.0L593.9 463.9L595.4 463.8L596.9 463.7L598.5 463.7L600.0 463.6L601.5 463.6L603.1 463.5L604.6 463.5L606.2 463.4L607.7 463.4L609.3 463.4L610.8 463.3L612.4 463.3L614.0 463.3L615.4 463.3L616.9 463.3L618.3 463.3L619.8 463.3L621.3 463.4L622.8 463.4L624.3 463.4L625.8 463.5L627.3 463.6L628.8 463.6L630.3 463.7L631.8 463.8L633.3 463.9L634.8 464.0L636.4 464.1L637.9 464.2L639.4 464.3L641.0 464.4L642.5 464.5L644.1 464.6L645.6 464.7L647.1 464.8L648.7 465.0L650.2 465.1L651.8 465.2L653.3 465.4L654.8 465.5L656.4 465.6L657.9 465.8L659.5 465.9L661.0 466.0L662.5 466.2L664.0 466.3L665.5 466.4L667.1 466.6L668.6 466.7L670.1 466.8L671.6 467.0L673.1 467.1L674.5 467.2L676.0 467.3L677.5 467.5L678.9 467.6L680.4 467.7L681.8 467.8L683.3 467.9L684.7 468.0L686.3 468.1L688.0 468.3L689.7 468.4L691.4 468.6L693.2 468.8L694.9 469.0L696.7 469.2L698.5 469.4L700.3 469.6L702.1 469.8L704.0 470.1L705.8 470.3L707.6 470.6L709.4 470.8L711.2 471.0L713.0 471.3L714.8 471.5L716.5 471.7L718.3 471.9L720.0 472.1L721.6 472.3L723.3 472.4L724.8 472.6L726.4 472.7L727.9 472.8L729.3 472.9L730.7 472.9L732.1 473.0L733.4 473.0L734.6 472.9L735.7 472.9L736.8 472.8L737.8 472.7L738.7 472.5L739.6 472.3L740.3 472.1L741.0 471.8L742.5 449.9L743.4 486.2L744.1 439.8L745.0 482.7L746.3 440.4L747.7 490.5L749.2 451.2L751.0 497.3L752.1 452.8L753.4 496.6L754.7 454.4L756.0 489.7L757.5 450.3L758.9 502.8L760.4 458.3L762.0 491.8L763.5 453.0L765.0 485.3L766.4 491.0L767.9 455.9L769.3 487.6L770.8 458.8L772.3 491.1L773.9 468.4L775.4 489.8L776.9 467.8L778.5 497.7L780.0 470.2L781.5 495.2L783.0 466.3L784.6 492.9L786.1 467.7L787.7 489.3L789.3 472.4L790.9 489.9L792.4 466.5L794.0 491.0L795.5 469.7L797.0 491.4L798.5 468.4L800.0 474.9L801.7 491.0L803.3 470.7L804.9 489.2L806.5 469.1L808.0 490.5L809.6 468.5L811.3 486.0L813.0 468.0L814.4 484.6L815.9 472.3L817.3 488.0L818.8 474.6L820.2 486.3L821.7 476.0L823.3 486.9L824.9 473.9L826.6 486.2L828.3 474.9L830.1 485.0L832.0 481.2L833.2 477.5L834.4 485.5L835.7 477.2L837.1 487.1L838.4 478.7L839.9 486.4L841.3 480.3L842.8 486.7L844.3 479.4L845.9 487.5L847.5 479.5L849.1 486.0L850.7 481.1L852.3 487.1L853.9 482.4L855.6 486.8L857.2 482.6L858.9 486.4L860.5 483.3L862.2 487.7L863.8 483.7L865.4 487.1L867.0 483.8L868.6 488.1L870.1 484.8L871.6 487.7L873.1 484.7L874.6 488.3L876.0 484.9L877.4 488.4L878.7 485.8L880.0 487.2L881.8 488.4L883.4 486.1L885.0 488.2L886.6 486.9L888.0 488.5L889.5 487.1L890.9 488.9L892.3 487.1L893.7 489.0L895.2 487.7L896.7 489.3L898.2 487.7L899.8 489.7L901.5 487.6L903.3 490.1L905.2 488.2L906.3 490.3L907.5 488.3L908.7 490.2L910.0 488.4L911.3 490.9L912.6 488.7L914.0 491.2L915.3 489.3L916.7 491.1L918.2 489.7L919.6 491.6L921.1 490.0L922.6 491.4L924.1 490.2L925.7 491.8L927.2 490.4L928.8 492.0L930.4 490.9L932.0 492.4L933.6 491.2L935.2 492.8L936.8 491.5L938.5 493.5L940.1 491.4L941.7 493.3L943.4 492.0L945.0 493.8L946.7 492.3L948.3 493.9L950.0 492.2L951.6 494.9L953.2 492.8L954.9 494.9L956.5 493.4L958.1 494.9L959.7 493.6L961.3 495.4L962.8 493.6L964.4 495.6L965.9 494.5L967.4 496.5L968.9 494.5L970.4 496.3L971.8 494.8L973.2 496.6L974.6 495.2L976.0 497.6L977.7 495.3L979.3 497.8L980.9 496.2L982.5 498.0L984.1 496.7L985.6 498.8L987.1 496.9L988.6 499.2L990.1 497.5L991.6 499.3L993.1 497.6L994.5 500.3L996.0 498.1L997.4 500.7L998.9 498.6L1000.3 501.1L1001.8 499.5L1003.2 501.4L1004.7 499.8L1006.1 501.5L1007.6 500.5L1009.1 502.2L1010.6 500.9L1012.1 502.9L1013.6 500.8L1015.1 503.2L1016.7 501.3L1018.3 504.0L1019.9 501.7L1021.5 504.0L1023.2 502.7L1024.6 504.3L1025.9 503.0L1027.3 504.6L1028.8 503.0L1030.2 505.5L1031.6 503.2L1033.1 505.5L1034.6 503.7L1036.1 506.1L1037.6 504.4L1039.1 506.3L1040.6 504.2L1042.1 506.7L1043.7 504.6L1045.2 506.9L1046.8 505.4L1048.3 507.4L1049.9 505.6L1051.5 507.7L1053.1 505.5L1054.6 507.8L1056.2 506.2L1057.8 508.5L1059.4 506.3L1061.0 508.2L1062.5 507.0L1064.1 508.5L1065.7 506.8L1067.3 509.3L1068.8 507.6L1070.4 509.6L1072.0 507.3L1073.5 509.8L1075.1 508.0L1076.6 510.0L1078.1 508.5L1079.6 509.9L1081.1 508.1L1082.6 510.6L1084.1 508.7L1085.6 511.0L1087.0 509.0L1088.4 511.2L1089.9 509.0L1091.3 511.0L1092.6 509.6L1094.0 511.3L1095.7 509.9L1097.3 511.8L1099.0 510.1L1100.6 511.9L1102.2 510.4L1103.8 512.4L1105.4 510.4L1107.0 512.2L1108.6 510.4L1110.1 512.7L1111.7 510.7L1113.2 512.9L1114.8 510.8L1116.3 512.7L1117.8 510.9L1119.3 512.5L1120.8 511.1L1122.3 512.8L1123.8 511.5L1125.3 513.4L1126.8 511.6L1128.2 513.3L1129.7 511.4L1131.1 513.5L1132.6 511.8L1134.0 513.7L1135.4 511.9L1136.9 514.2L1138.3 512.5L1139.7 514.3L1141.1 512.7L1142.8 514.5L1144.4 512.8L1146.0 515.1L1147.7 513.3L1149.3 515.7L1150.9 513.5L1152.5 515.9L1154.1 514.2L1155.7 516.4L1157.3 514.7L1158.9 517.0L1160.4 515.3L1162.0 517.4L1163.5 515.8L1165.0 518.3L1166.5 516.2L1168.0 518.8L1169.5 516.7L1170.9 519.1L1172.3 517.7L1173.7 520.3L1175.1 518.3L1176.5 520.6L1178.1 519.7L1179.6 521.8L1181.1 520.9L1182.7 522.8L1184.2 522.0L1185.7 524.3L1187.1 522.8L1188.6 525.8L1190.0 524.5L1191.4 527.0L1192.7 525.5L1194.0 528.0L1195.3 526.8L1196.5 530.0L1197.7 528.8L1198.9 531.5L1200.0 530.1L1201.4 532.9L1202.7 531.7L1204.0 535.2L1205.1 534.4L1206.2 537.0L1207.3 536.3L1208.3 539.2L1209.3 538.9L1210.3 541.7L1211.3 541.2L1212.0 544.1L1212.7 543.7L1213.4 546.8L1214.0 546.7L1214.7 549.5L1215.2 549.0L1215.8 552.5L1216.4 552.4L1216.9 555.8L1217.5 554.8L1218.0 558.8L1218.6 558.4L1219.1 561.3L1219.7 561.4L1220.2 564.7L1220.8 564.2L1221.4 567.1L1221.9 567.0L1222.4 570.6L1223.0 569.7L1223.5 573.1L1224.0 573.2L1224.5 576.6L1225.0 575.9L1225.5 579.5L1226.0 579.2L1226.6 582.0L1227.1 581.7L1227.7 585.1L1228.3 585.0L1228.9 588.2L1229.5 587.2L1230.2 590.7L1231.0 590.3L1231.9 593.6L1232.7 593.2L1233.6 596.4L1234.4 595.6L1235.4 598.7L1236.3 598.1L1237.3 601.6L1238.3 600.7L1239.3 603.2L1240.4 602.7L1241.5 605.4L1242.7 604.9L1244.0 607.1L1245.3 606.5L1246.6 608.6L1248.0 607.7L1249.4 609.9L1250.8 608.6L1252.2 611.1L1253.7 609.9L1255.1 612.2L1256.6 611.3L1258.0 613.3L1259.4 612.7L1260.8 614.8L1262.2 613.8L1263.7 616.7L1265.1 615.7L1266.6 618.1L1268.1 616.5L1269.6 619.0L1271.1 617.7L1272.6 620.2L1274.0 618.6L1275.5 620.9L1276.9 618.8L1278.4 620.5L1279.9 618.3L1281.3 620.3L1282.8 617.7L1284.2 619.3L1285.7 616.5L1287.2 618.0L1288.6 615.5L1290.1 616.6L1291.5 614.5L1293.0 615.2L1294.4 613.4L1295.8 614.5L1297.3 612.0L1298.6 612.9L1300.0 610.8L1301.4 612.0L1302.7 608.9L1304.1 610.4L1305.5 607.9L1306.9 608.7L1308.4 606.5L1310.0 607.6L1311.6 605.4L1313.3 606.4L1314.6 604.4L1315.8 606.0L1317.2 603.2L1318.5 605.1L1320.0 603.0L1321.4 604.8L1322.8 602.4L1324.3 603.7L1325.8 602.0L1327.4 603.2L1328.9 601.2L1330.5 602.8L1332.1 600.9L1333.6 602.3L1335.2 600.5L1336.8 601.7L1338.4 600.0L1340.0 601.3L1341.6 599.6L1343.2 600.6L1344.8 599.0L1346.4 600.3L1347.9 598.3L1349.5 600.1L1351.0 597.8L1352.5 599.7L1354.0 597.4L1355.5 599.5L1357.0 597.2L1358.5 598.7L1360.1 596.4L1361.6 598.2L1363.1 596.2L1364.6 598.2L1366.1 596.3L1367.6 597.9L1369.1 595.4L1370.7 597.4L1372.2 595.1L1373.7 597.2L1375.2 595.2L1376.7 596.7L1378.2 594.6L1379.7 596.5L1381.2 594.0L1382.8 596.2L1384.3 593.8L1385.8 595.8L1387.3 593.3L1388.8 595.3L1390.3 593.2L1391.9 594.4L1393.4 592.8L1395.0 594.1L1396.6 592.4L1398.1 594.0L1399.7 591.5L1401.3 593.3L1402.9 591.0L1404.5 592.8L1406.1 590.5L1407.7 591.8L1409.2 589.8L1410.8 591.8L1412.3 589.5L1413.9 591.2L1415.4 588.9L1416.9 590.4L1418.3 588.4L1419.8 590.1L1421.2 588.5L1422.6 589.7L1423.9 587.7L1425.2 589.4L1426.5 587.4L1428.3 589.6L1430.0 587.2L1431.7 588.8L1433.3 586.8L1434.8 588.7L1436.4 586.4L1437.9 588.4L1439.4 586.3L1440.9 588.0L1442.3 586.7L1443.9 588.2L1445.4 586.5L1446.9 588.6L1448.3 587.1L1449.8 589.1L1451.2 588.2L1452.7 590.1L1454.1 588.7L1455.6 591.4L1457.0 589.7L1458.5 592.1L1459.9 590.9L1461.4 593.3L1462.8 591.9L1464.3 594.0L1465.8 592.5L1467.2 594.8L1468.7 593.2L1470.1 596.1L1471.6 594.6L1473.1 596.5L1474.5 594.8L1476.0 597.7L1477.5 595.9L1478.9 598.0L1480.4 597.0L1481.8 599.6L1483.2 598.2L1484.6 600.5L1485.9 599.6L1487.3 602.0L1488.6 600.5L1490.0 603.3L1491.3 602.3L1492.6 605.3L1494.0 604.0L1495.3 607.2L1496.6 606.3L1498.0 609.1L1499.3 607.8L1500.6 610.1L1502.0 609.7L1503.3 612.0L1504.7 610.9L1506.0 613.4L1507.3 612.6L1508.7 614.9L1510.0 614.0L1511.4 616.8L1512.7 615.7L1514.1 618.1L1515.4 616.4L1516.8 618.9L1518.1 617.5L1519.5 620.4L1520.9 618.5L1522.4 620.9L1524.0 619.6L1525.5 621.6L1527.0 619.7L1528.5 622.2L1530.1 620.5L1531.6 622.4L1533.2 620.8L1534.8 622.2L1536.4 621.0L1538.1 622.8L1539.8 620.8L1541.2 622.8L1542.6 620.7L1544.0 622.1L1545.5 620.2L1547.0 621.7L1548.5 619.9L1550.1 621.8L1551.6 619.0L1553.2 621.2L1554.7 618.7L1556.3 620.7L1557.8 617.9L1559.4 619.9L1560.9 617.6L1562.4 619.1L1563.9 617.1L1565.3 619.0L1566.7 616.8L1568.1 618.8L1569.8 616.9L1571.6 618.1L1573.3 616.0L1575.0 617.7L1576.7 615.9L1578.3 617.5L1580.0 615.8L1581.5 617.7L1583.0 615.4L1584.4 617.7L1585.8 616.2L1587.0 618.6L1588.3 617.6L1589.5 620.5L1590.6 620.1L1591.6 622.8L1592.5 622.7L1593.4 626.2L1594.3 625.5L1595.0 628.8L1595.7 628.3L1596.4 632.3L1597.0 631.5L1597.5 634.4L1597.9 634.4L1598.2 637.2L1598.5 637.1L1598.8 640.0L1599.1 640.2L1599.3 643.3L1599.6 643.3L1600.0 647.3L1600.2 646.1L1600.5 649.3L1600.7 648.8L1600.9 651.9L1601.2 651.3L1601.4 654.3L1601.6 654.2L1601.9 657.0L1602.1 656.3L1602.4 659.7L1602.6 659.6L1602.8 663.0L1603.1 662.3L1603.3 665.8L1603.6 665.8L1603.8 668.9L1604.1 668.9L1604.3 672.3L1604.6 671.8L1604.8 675.9L1605.1 675.1L1605.4 678.6L1605.6 679.1L1605.9 682.5L1606.1 681.9L1606.4 685.8L1606.6 685.6L1606.9 688.9L1607.1 688.7L1607.3 692.1L1607.5 691.0L1607.7 694.8L1607.8 693.7L1608.0 697.1L1608.2 697.1L1608.4 699.9L1608.6 699.6L1608.8 703.1L1609.0 702.3L1609.2 706.1L1609.4 705.5L1609.5 709.2L1609.7 708.6L1609.9 712.1L1610.1 712.0L1610.3 715.3L1610.5 715.0L1610.7 718.6L1610.9 717.9L1611.1 721.3L1611.3 721.4L1611.5 724.4L1611.7 724.2L1611.9 727.9L1612.1 727.8L1612.3 730.7L1612.5 730.7L1612.7 734.3L1612.9 734.0L1613.1 737.2L1613.3 737.0L1613.5 740.2L1613.7 740.4L1613.9 743.7L1614.1 743.1L1614.3 746.9L1614.5 746.2L1614.7 749.9L1614.9 749.8L1615.1 752.8L1615.3 752.3L1615.6 756.1L1615.8 755.7L1616.0 758.6L1616.2 758.5L1616.4 761.9L1616.6 761.4L1616.9 764.4L1617.1 764.0L1617.3 767.6L1617.6 767.3L1617.8 770.3L1618.1 770.5L1618.4 773.8L1618.7 773.5L1618.9 776.9L1619.2 776.7L1619.5 780.5L1619.7 780.1L1620.0 783.4L1620.3 782.9L1620.6 786.6L1620.8 786.2L1621.1 789.7L1621.4 789.7L1621.7 793.1L1622.0 792.8L1622.3 796.3L1622.5 795.6L1622.8 798.8L1623.1 798.8L1623.4 801.9L1623.7 801.4L1624.0 805.2L1624.3 804.6L1624.7 807.6L1625.0 807.4L1625.3 810.7L1625.6 810.1L1626.0 812.8L1626.3 812.8L1626.6 815.6L1627.0 814.8L1627.3 818.5L1627.7 817.4L1628.2 821.6L1628.7 820.8L1629.3 824.8L1629.8 825.2L1630.3 829.1L1630.9 828.6L1631.4 832.2L1632.0 832.4L1632.5 836.1L1633.1 836.1L1633.7 839.3L1634.3 839.2L1634.9 841.8L1635.5 841.5L1636.1 844.0L1636.8 842.6L1637.4 845.0L1638.1 843.2L1638.8 845.1L1639.6 843.2L1640.3 851.4L1641.0 834.3L1641.8 847.4L1642.6 835.6L1643.4 844.8L1644.2 831.0L1645.0 843.8L1645.8 828.5L1646.7 837.6L1647.5 821.5L1648.4 832.5L1649.3 820.5L1650.2 833.2L1651.1 815.9L1652.0 826.7L1652.9 817.1L1653.8 824.5L1654.7 810.3L1655.7 823.0L1656.7 808.8L1657.7 823.9L1658.7 808.4L1659.7 818.4L1660.7 803.0L1661.7 817.7L1662.7 804.0L1663.7 815.7L1664.7 801.2L1665.7 811.0L1666.6 800.2L1667.5 810.7L1668.4 793.0L1669.3 807.4L1670.0 790.2L1670.8 801.8L1671.5 791.1L1672.2 801.4L1672.8 784.8L1673.5 800.9L1674.1 784.8L1674.7 794.6L1675.4 781.7L1676.0 792.9L1676.6 776.3L1677.2 788.4L1677.8 773.9L1678.4 788.2L1679.0 770.9L1679.6 785.4L1680.3 769.0L1680.9 780.3L1681.5 767.6L1682.2 777.6L1682.9 762.5L1683.6 773.5L1684.3 762.7L1685.0 774.2L1685.8 759.8L1686.6 768.0L1687.4 758.1L1688.2 767.7L1689.0 753.9L1689.8 767.1L1690.7 748.5L1691.5 764.5L1692.4 748.9L1693.2 757.4L1694.1 747.2L1694.9 756.9L1695.8 741.6L1696.7 754.2L1697.6 741.6L1698.5 751.7L1699.4 737.4L1700.4 750.0L1701.3 735.4L1702.2 748.6L1703.2 733.7L1704.4 743.3L1705.6 730.5L1706.9 741.7L1708.1 729.3L1709.4 739.7L1710.6 726.3L1711.9 736.9L1713.2 726.5L1714.5 735.3L1715.9 725.2L1717.2 736.6L1718.6 721.9L1720.0 733.0L1721.4 721.7L1722.9 735.3L1724.4 720.6L1726.0 731.5L1727.6 719.1L1729.3 733.6L1730.9 718.4L1732.6 731.4L1734.2 721.3L1735.8 735.6L1737.5 720.4L1739.1 737.0L1740.7 725.2L1742.2 735.2L1743.5 726.0L1744.8 736.0L1746.0 723.2L1747.3 739.4L1748.5 725.1L1749.8 740.2L1751.0 727.2L1752.2 742.6L1753.4 732.2L1754.6 746.3L1755.8 730.9L1757.0 745.1L1758.2 734.6L1759.4 749.8L1760.7 738.0L1761.9 751.2L1763.1 740.3L1764.3 752.2L1765.5 741.6L1766.7 756.5L1768.0 741.6L1769.2 756.6L1770.4 747.4L1771.6 759.5L1772.8 745.9L1774.0 761.0L1775.2 750.0L1776.4 763.1L1777.6 749.2L1778.9 766.8L1780.1 754.8L1781.4 765.6L1782.6 754.0L1783.9 769.0L1785.3 753.2L1786.8 766.7L1788.3 755.9L1789.9 770.1L1791.5 754.2L1793.0 767.3L1794.6 754.1L1796.1 770.3L1797.7 753.1L1799.2 767.0L1800.6 751.5L1802.0 764.7L1803.4 747.1L1804.7 766.5L1805.8 748.3L1806.8 760.0L1807.8 744.0L1808.7 757.6L1809.6 745.5L1810.4 758.9L1811.2 740.1L1812.0 755.4L1812.8 737.1L1813.6 752.8L1814.4 733.9L1815.3 745.8L1816.2 733.8L1817.1 745.7L1818.1 728.0L1819.2 746.0L1820.4 729.7L1821.7 743.2L1823.0 727.3L1824.4 742.0L1825.8 728.3L1827.3 740.6L1828.8 726.2L1830.4 744.8L1832.0 729.1L1833.6 742.8L1835.2 725.5L1836.8 746.4L1838.5 729.9L1840.1 743.2L1841.7 724.2L1843.3 750.0L1844.9 728.1L1846.4 743.9L1847.9 725.5L1849.5 746.8L1851.1 726.1L1852.6 748.9L1854.2 727.1L1855.8 746.0L1857.3 727.8L1858.9 747.0L1860.5 731.1L1862.0 752.0L1863.6 728.6L1865.1 747.9L1866.6 733.7L1868.1 750.2L1869.5 732.4L1871.0 751.1L1872.4 736.3L1873.8 751.2L1875.3 733.2L1876.7 757.1L1878.1 739.3L1879.5 756.1L1880.9 735.6L1882.2 753.8L1883.6 736.6L1884.9 756.0L1886.2 740.0L1887.4 760.8L1888.7 741.6L1889.9 760.9L1891.0 745.0L1892.1 764.9L1893.2 747.1L1894.2 767.7L1895.2 749.2L1896.1 768.5L1896.9 754.7L1897.7 772.3L1898.5 754.1L1899.3 772.3L1900.0 754.9L1900.7 779.0L1901.4 759.9L1902.1 777.7L1902.8 762.8L1903.5 780.1L1904.2 768.2L1904.9 785.4L1905.6 771.4L1906.3 788.4L1907.0 771.3L1907.6 788.3L1908.3 773.3L1908.9 791.6L1909.5 775.6L1910.1 797.0L1910.7 782.5L1911.3 796.2L1911.9 785.7L1912.5 801.1L1913.1 786.3L1913.8 802.8L1914.4 789.9L1915.0 810.5L1915.7 793.4L1916.4 812.3L1917.1 799.0L1917.8 815.7L1918.5 799.7L1919.3 817.8L1920.3 799.8L1921.4 815.9L1922.5 802.8L1923.6 822.3L1924.7 808.8L1925.8 822.3L1927.0 805.2L1928.2 822.6L1929.5 806.2L1930.9 824.7L1932.3 808.4L1933.6 825.0L1935.0 811.6L1936.4 830.5L1937.9 814.5L1939.4 827.2L1941.0 813.7L1942.6 828.0L1944.2 817.2L1945.8 826.6L1947.5 818.1L1949.1 830.5L1950.8 816.3L1952.4 830.8L1954.1 819.0L1955.7 830.9L1957.2 819.7L1958.7 830.2L1960.2 817.8L1961.8 829.8L1963.3 817.0L1964.9 831.1L1966.5 818.6L1968.0 832.9L1969.6 821.0L1971.2 833.7L1972.7 818.8L1974.3 831.2L1975.8 818.2L1977.4 830.9L1978.9 817.6L1980.3 832.7L1981.8 820.8L1983.5 833.9L1985.1 820.7L1986.8 831.4L1988.4 819.4L1990.0 831.1L1991.6 819.3L1993.2 832.3L1994.8 820.4L1996.4 836.2L1997.9 821.0L1999.5 835.3L2001.0 823.0L2002.6 832.9L2004.0 825.2L2005.5 834.5L2006.9 823.3L2008.4 836.9L2009.9 824.8L2011.3 840.4L2012.8 827.9L2014.2 838.4L2015.6 819.3L2017.0 843.1L2018.4 827.2L2019.7 848.2L2021.0 827.9L2022.2 850.3L2023.4 828.6L2024.4 854.8L2025.3 826.6L2026.2 853.0L2027.1 828.4L2027.9 858.3L2028.7 835.8L2029.5 865.8L2030.3 837.2L2031.1 860.1L2031.8 841.4L2032.5 868.2L2033.2 835.7L2034.0 872.7L2034.7 843.6L2035.4 870.0L2036.1 850.6L2036.8 877.1L2037.5 847.3L2038.3 876.8L2039.0 849.1L2039.7 880.6L2040.4 848.4L2041.1 886.6L2041.8 858.6L2042.6 891.3L2043.3 863.6L2044.0 890.0L2044.7 862.2L2045.4 889.5L2046.1 868.9L2046.8 898.6L2047.5 872.2L2048.2 898.9L2048.9 864.2L2049.6 897.0L2050.2 875.4L2050.9 905.3L2051.6 874.5L2052.2 908.5L2052.8 873.5L2053.5 905.7L2054.1 882.0L2054.7 909.8L2055.4 887.8L2056.0 919.8L2056.7 881.7L2057.3 920.6L2057.9 893.7L2058.5 924.9L2059.1 887.4L2059.7 923.0L2060.2 883.1L2060.8 931.3L2061.4 894.1L2062.0 928.3L2062.6 896.6L2063.2 930.1L2063.8 897.5L2064.4 945.1L2065.1 894.2L2065.7 949.8L2066.2 896.3L2066.8 942.6L2067.4 901.6L2068.0 948.5L2068.6 900.1L2069.2 953.1L2069.8 912.0L2070.4 958.3L2071.0 902.4L2071.6 953.9L2072.2 906.7L2072.9 953.4L2073.5 920.6L2074.1 960.5L2074.8 914.6L2075.4 976.5L2076.1 917.2L2076.7 968.2L2077.4 917.3L2078.0 971.1L2078.7 931.7L2079.4 984.7L2080.0 926.7L2080.7 983.4L2081.5 928.5L2082.4 992.0L2083.3 934.8L2084.1 992.5L2085.0 932.9L2085.9 995.8L2086.7 940.3L2087.6 996.1L2088.5 940.0L2089.4 990.7L2090.3 949.2L2091.3 999.5L2092.2 953.9L2093.1 1007.8L2094.1 954.5L2095.0 992.2L2096.3 957.3L2097.5 1013.4L2098.8 954.3L2100.1 997.3L2101.4 964.7L2102.7 997.0L2104.1 954.9L2105.4 1009.0L2106.7 957.4L2108.0 1012.0" fill="none" stroke="#ff00ff" stroke-width="8.6" stroke-linejoin="round" stroke-linecap="butt" shape-rendering="crispEdges"/>
<path d="M264.6 1242.1L264.7 1243.6L264.8 1245.1L264.9 1246.6L265.0 1248.0L265.0 1249.5L265.1 1251.0L265.2 1252.5L265.3 1253.9L265.4 1255.4L265.5 1256.9L265.6 1258.4L265.6 1259.9L265.7 1261.4L265.9 1262.9L266.0 1264.5L266.1 1266.0L266.2 1267.6L266.3 1269.0L266.4 1270.5L266.5 1272.0L266.7 1273.5L266.8 1275.0L266.9 1276.5L267.0 1278.0L267.1 1279.5L267.3 1281.0L267.4 1282.6L267.5 1284.1L267.7 1285.7L267.8 1287.2L268.0 1288.8L268.1 1290.3L268.3 1291.8L268.5 1293.4L268.7 1294.9L268.9 1296.5L269.1 1298.0L269.3 1299.5L269.5 1301.0L269.8 1302.6L270.0 1304.1L270.2 1305.7L270.5 1307.2L270.7 1308.8L271.0 1310.3L271.2 1311.9L271.5 1313.4L271.8 1315.0L272.0 1316.5L272.3 1318.1L272.7 1319.6L273.0 1321.1L273.3 1322.6L273.7 1324.1L274.0 1325.6L274.4 1327.1L274.8 1328.5L275.3 1329.9L275.7 1331.3L276.2 1332.8L276.8 1334.4L277.3 1335.9L277.9 1337.4L278.5 1338.9L279.2 1340.4L279.8 1341.9L280.5 1343.4L281.1 1344.8L281.8 1346.2L282.5 1347.6L283.2 1349.0L284.0 1350.3L284.7 1351.6L285.4 1352.8L286.2 1354.0L286.9 1355.2L287.8 1356.6L288.8 1358.0L289.8 1359.3L290.8 1360.6L291.8 1361.8L292.8 1363.0L293.8 1364.1L294.8 1365.2L295.9 1366.2L296.9 1367.1L298.0 1368.0L299.4 1369.1L300.7 1370.1L302.2 1371.1L303.6 1372.0L305.0 1372.6L306.3 1372.9L307.6 1372.8L308.7 1372.4L309.7 1371.7L310.7 1370.7L311.7 1369.5L312.7 1368.1L313.6 1366.6L314.6 1365.0L315.4 1363.3L316.3 1361.7L317.1 1360.0L317.7 1358.8L318.2 1357.5L318.7 1356.2L319.1 1354.8L319.6 1353.4L320.0 1351.9L320.4 1350.4L320.8 1348.9L321.2 1347.3L321.6 1345.7L322.0 1344.1L322.3 1342.5L322.7 1340.9L323.1 1339.3L323.4 1337.7L323.8 1336.0L324.2 1334.4L324.7 1332.9L325.1 1331.3L325.5 1329.9L325.9 1328.5L326.3 1327.0L326.8 1325.6L327.2 1324.2L327.6 1322.7L328.1 1321.3L328.5 1319.9L328.9 1318.4L329.4 1317.0L329.8 1315.5L330.3 1314.0L330.7 1312.6L331.2 1311.1L331.6 1309.7L332.1 1308.2L332.5 1306.8L332.9 1305.3L333.4 1303.9L333.8 1302.4L334.3 1300.9L334.7 1299.5L335.1 1298.1L335.6 1296.6L336.0 1295.2L336.4 1293.8L336.9 1292.3L337.3 1290.9L337.8 1289.5L338.2 1288.1L338.6 1286.6L339.1 1285.2L339.5 1283.8L339.9 1282.4L340.4 1280.9L340.8 1279.5L341.2 1278.0L341.7 1276.6L342.1 1275.1L342.5 1273.6L342.9 1272.1L343.4 1270.6L343.8 1269.1L344.2 1267.6L344.6 1266.2L345.0 1264.8L345.3 1263.4L345.7 1262.0L346.1 1260.6L346.5 1259.1L346.8 1257.7L347.2 1256.3L347.6 1254.8L348.0 1253.4L348.4 1251.9L348.7 1250.5L349.1 1249.0L349.5 1247.5L349.8 1246.0L350.2 1244.5L350.6 1243.0L350.9 1241.5L351.3 1240.0L351.6 1238.5L351.9 1237.0L352.3 1235.5L352.6 1234.0L352.9 1232.4L353.2 1230.9L353.5 1229.3L353.8 1227.8L354.1 1226.4L354.3 1225.0L354.6 1223.5L354.8 1222.1L355.0 1220.7L355.2 1219.2L355.4 1217.8L355.7 1216.4L355.9 1214.9L356.1 1213.5L356.2 1212.0L356.4 1210.5L356.6 1209.1L356.8 1207.6L357.0 1206.1L357.2 1204.6L357.3 1203.1L357.5 1201.7L357.7 1200.2L357.9 1198.6L358.0 1197.1L358.2 1195.6L358.4 1194.1L358.6 1192.6L358.7 1191.0L358.9 1189.5L359.1 1187.9L359.3 1186.3L359.5 1184.8L359.7 1183.2L359.9 1181.6L360.1 1180.0L360.3 1178.6L360.5 1177.2L360.7 1175.8L360.8 1174.4L361.0 1173.0L361.2 1171.5L361.4 1170.1L361.6 1168.6L361.8 1167.2L362.0 1165.7L362.2 1164.2L362.4 1162.7L362.6 1161.3L362.8 1159.8L363.0 1158.3L363.2 1156.8L363.4 1155.3L363.6 1153.7L363.8 1152.2L364.0 1150.7L364.2 1149.2L364.4 1147.7L364.6 1146.1L364.8 1144.6L365.0 1143.1L365.2 1141.6L365.4 1140.0L365.6 1138.5L365.8 1137.0L366.0 1135.5L366.2 1133.9L366.4 1132.4L366.6 1130.9L366.8 1129.4L367.0 1127.9L367.2 1126.4L367.4 1124.9L367.6 1123.4L367.8 1121.9L367.9 1120.4L368.1 1118.9L368.3 1117.5L368.5 1116.0L368.7 1114.5L368.9 1112.9L369.1 1111.4L369.3 1109.8L369.5 1108.3L369.7 1106.7L369.9 1105.2L370.0 1103.6L370.2 1102.1L370.4 1100.5L370.6 1099.0L370.8 1097.5L371.0 1095.9L371.2 1094.4L371.4 1092.8L371.6 1091.3L371.8 1089.8L372.0 1088.2L372.1 1086.7L372.3 1085.2L372.5 1083.7L372.7 1082.1L372.9 1080.6L373.1 1079.1L373.2 1077.6L373.4 1076.1L373.6 1074.6L373.8 1073.1L373.9 1071.6L374.1 1070.1L374.3 1068.6L374.5 1067.2L374.6 1065.7L374.8 1064.2L375.0 1062.8L375.1 1061.3L375.3 1059.9L375.4 1058.4L375.6 1057.0L375.8 1055.4L375.9 1053.8L376.1 1052.3L376.3 1050.7L376.5 1049.2L376.6 1047.6L376.8 1046.1L377.0 1044.6L377.1 1043.1L377.3 1041.6L377.4 1040.1L377.6 1038.6L377.7 1037.1L377.9 1035.6L378.1 1034.2L378.2 1032.7L378.4 1031.2L378.5 1029.7L378.6 1028.2L378.8 1026.8L378.9 1025.3L379.1 1023.8L379.2 1022.3L379.4 1020.7L379.5 1019.2L379.6 1017.7L379.8 1016.1L379.9 1014.6L380.0 1013.0L380.2 1011.4L380.3 1009.8L380.4 1008.4L380.5 1006.9L380.6 1005.4L380.7 1004.0L380.9 1002.5L381.0 1001.0L381.1 999.6L381.2 998.1L381.3 996.6L381.4 995.1L381.5 993.6L381.6 992.1L381.7 990.6L381.8 989.1L381.8 987.5L381.9 986.0L382.0 984.5L382.1 982.9L382.2 981.4L382.3 979.9L382.4 978.3L382.5 976.8L382.6 975.2L382.7 973.7L382.7 972.1L382.8 970.5L382.9 969.0L383.0 967.4L383.1 965.8L383.2 964.3L383.3 962.7L383.4 961.1L383.4 959.5L383.5 957.9L383.6 956.4L383.7 954.8L383.8 953.2L383.9 951.6L384.0 950.0L384.1 948.5L384.2 947.1L384.3 945.6L384.3 944.1L384.4 942.6L384.5 941.2L384.6 939.7L384.7 938.2L384.7 936.7L384.8 935.2L384.9 933.7L385.0 932.2L385.1 930.7L385.1 929.2L385.2 927.7L385.3 926.2L385.4 924.7L385.5 923.2L385.5 921.6L385.6 920.1L385.7 918.6L385.8 917.1L385.9 915.5L385.9 914.0L386.0 912.5L386.1 910.9L386.2 909.4L386.3 907.9L386.4 906.3L386.4 904.8L386.5 903.3L386.6 901.7L386.7 900.2L386.8 898.6L386.9 897.1L387.0 895.5L387.1 894.0L387.2 892.4L387.3 890.9L387.4 889.3L387.5 887.8L387.6 886.2L387.7 884.7L387.8 883.1L387.9 881.6L388.0 880.0L388.1 878.5L388.2 877.1L388.3 875.6L388.4 874.1L388.5 872.6L388.7 871.2L388.8 869.7L388.9 868.2L389.0 866.8L389.1 865.3L389.2 863.8L389.4 862.3L389.5 860.9L389.6 859.4L389.7 857.9L389.9 856.4L390.0 855.0L390.1 853.5L390.3 852.0L390.4 850.5L390.5 849.0L390.6 847.5L390.8 846.0L390.9 844.6L391.0 843.1L391.2 841.6L391.3 840.1L391.4 838.6L391.6 837.1L391.7 835.6L391.8 834.1L392.0 832.5L392.1 831.0L392.3 829.5L392.4 828.0L392.5 826.5L392.7 825.0L392.8 823.4L392.9 821.9L393.1 820.4L393.2 818.8L393.3 817.3L393.5 815.7L393.6 814.2L393.7 812.6L393.9 811.1L394.0 809.5L394.1 807.9L394.2 806.4L394.4 804.8L394.5 803.2L394.6 801.8L394.7 800.3L394.8 798.9L395.0 797.5L395.1 796.0L395.2 794.6L395.3 793.1L395.4 791.7L395.5 790.2L395.6 788.8L395.7 787.3L395.9 785.8L396.0 784.4L396.1 782.9L396.2 781.4L396.3 779.9L396.4 778.4L396.5 776.9L396.6 775.4L396.8 774.0L396.9 772.5L397.0 771.0L397.1 769.5L397.2 768.0L397.3 766.4L397.4 764.9L397.6 763.4L397.7 761.9L397.8 760.4L397.9 758.9L398.0 757.4L398.1 755.9L398.2 754.3L398.3 752.8L398.5 751.3L398.6 749.8L398.7 748.2L398.8 746.7L398.9 745.2L399.0 743.7L399.1 742.2L399.2 740.6L399.3 739.1L399.5 737.6L399.6 736.1L399.7 734.5L399.8 733.0L399.9 731.5L400.0 730.0L400.1 728.4L400.2 726.9L400.4 725.4L400.5 723.9L400.6 722.4L400.7 720.9L400.8 719.3L400.9 717.8L401.0 716.3L401.1 714.8L401.3 713.3L401.4 711.8L401.5 710.3L401.6 708.8L401.7 707.3L401.8 705.8L401.9 704.3L402.1 702.8L402.2 701.3L402.3 699.8L402.4 698.3L402.5 696.8L402.6 695.2L402.7 693.7L402.8 692.2L402.9 690.7L403.1 689.2L403.2 687.7L403.3 686.1L403.4 684.6L403.5 683.1L403.6 681.6L403.7 680.1L403.8 678.5L404.0 677.0L404.1 675.5L404.2 674.0L404.3 672.5L404.4 671.0L404.5 669.4L404.6 667.9L404.7 666.4L404.8 664.9L405.0 663.4L405.1 661.8L405.2 660.3L405.3 658.8L405.4 657.3L405.5 655.8L405.6 654.3L405.7 652.8L405.9 651.3L406.0 649.8L406.1 648.3L406.2 646.8L406.3 645.3L406.4 643.8L406.5 642.3L406.6 640.8L406.8 639.3L406.9 637.8L407.0 636.3L407.1 634.8L407.2 633.3L407.3 631.9L407.4 630.4L407.6 628.9L407.7 627.5L407.8 626.0L407.9 624.5L408.0 623.1L408.1 621.6L408.2 620.2L408.4 618.7L408.5 617.3L408.6 615.8L408.7 614.4L408.8 612.8L409.0 611.3L409.1 609.7L409.2 608.2L409.3 606.7L409.4 605.1L409.6 603.6L409.7 602.1L409.8 600.6L409.9 599.0L410.1 597.5L410.2 596.0L410.3 594.5L410.4 593.0L410.5 591.5L410.7 590.1L410.8 588.6L410.9 587.1L411.0 585.6L411.1 584.1L411.3 582.6L411.4 581.2L411.5 579.7L411.6 578.2L411.8 576.7L411.9 575.3L412.0 573.8L412.1 572.3L412.2 570.8L412.4 569.4L412.5 567.9L412.6 566.4L412.8 565.0L412.9 563.5L413.0 562.0L413.1 560.5L413.3 559.1L413.4 557.6L413.5 556.1L413.7 554.6L413.8 553.1L413.9 551.6L414.1 550.1L414.2 548.6L414.3 547.1L414.5 545.6L414.6 544.1L414.8 542.6L414.9 541.1L415.1 539.6L415.2 538.1L415.4 536.5L415.5 535.0L415.6 533.5L415.8 532.1L415.9 530.6L416.1 529.1L416.2 527.6L416.4 526.2L416.5 524.7L416.7 523.2L416.8 521.7L417.0 520.2L417.1 518.7L417.3 517.2L417.4 515.7L417.6 514.2L417.8 512.6L417.9 511.1L418.1 509.6L418.2 508.1L418.4 506.6L418.6 505.0L418.7 503.5L418.9 502.0L419.1 500.5L419.2 498.9L419.4 497.4L419.6 495.9L419.7 494.3L419.9 492.8L420.1 491.3L420.2 489.8L420.4 488.2L420.6 486.7L420.7 485.2L420.9 483.7L421.1 482.1L421.2 480.6L421.4 479.1L421.6 477.6L421.8 476.1L421.9 474.6L422.1 473.1L422.3 471.6L422.4 470.1L422.6 468.6L422.8 467.1L423.0 465.6L423.1 464.1L423.3 462.6L423.5 461.1L423.6 459.7L423.8 458.2L424.0 456.7L424.2 455.3L424.3 453.8L424.5 452.4L424.7 451.0L424.9 449.5L425.0 448.1L425.2 446.7L425.4 445.1L425.6 443.5L425.8 442.0L426.0 440.4L426.2 438.8L426.3 437.2L426.5 435.7L426.7 434.1L426.9 432.6L427.1 431.0L427.3 429.5L427.5 427.9L427.7 426.4L427.8 424.8L428.0 423.3L428.2 421.8L428.4 420.3L428.6 418.7L428.8 417.2L429.0 415.7L429.2 414.2L429.3 412.7L429.5 411.2L429.7 409.7L429.9 408.2L430.1 406.7L430.3 405.2L430.5 403.7L430.7 402.2L430.9 400.7L431.1 399.3L431.3 397.8L431.5 396.3L431.7 394.8L431.9 393.4L432.1 391.9L432.4 390.5L432.6 389.0L432.8 387.5L433.0 386.1L433.2 384.6L433.4 383.2L433.7 381.8L433.9 380.3L434.1 378.9L434.4 377.4L434.6 376.0L434.9 374.5L435.1 372.9L435.4 371.3L435.7 369.8L435.9 368.2L436.2 366.7L436.5 365.1L436.7 363.5L437.0 362.0L437.3 360.4L437.6 358.8L437.9 357.3L438.2 355.7L438.5 354.1L438.7 352.6L439.0 351.0L439.3 349.5L439.6 348.0L439.9 346.4L440.2 344.9L440.5 343.4L440.8 341.9L441.1 340.4L441.4 338.9L441.8 337.4L442.1 336.0L442.4 334.5L442.7 333.1L443.0 331.7L443.3 330.2L443.6 328.8L443.9 327.5L444.2 326.1L444.5 324.7L444.8 323.4L445.2 322.1L445.5 320.8L445.8 319.5L446.1 318.2L446.4 317.0L446.8 315.3L447.3 313.6L447.7 312.0L448.1 310.4L448.6 308.9L449.0 307.3L449.4 305.8L449.9 304.3L450.3 302.9L450.8 301.4L451.2 300.0L451.6 298.6L452.1 297.2L452.5 295.8L453.0 294.4L453.5 293.1L453.9 291.7L454.4 290.4L454.8 289.0L455.3 287.7L455.8 286.3L456.4 284.7L456.9 283.2L457.5 281.6L458.0 280.1L458.6 278.6L459.2 277.1L459.7 275.6L460.3 274.2L460.9 272.7L461.5 271.3L462.1 269.8L462.7 268.4L463.3 267.0L464.0 265.5L464.6 264.1L465.3 262.7L465.9 261.3L466.6 259.9L467.2 258.5L467.9 257.0L468.5 255.6L469.1 254.2L469.8 252.8L470.5 251.4L471.2 250.0L471.9 248.6L472.6 247.3L473.4 246.0L474.2 244.8L475.1 243.7L476.0 242.5L477.0 241.5L478.1 240.4L479.3 239.3L480.6 238.3L482.0 237.3L483.4 236.3L484.8 235.3L486.3 234.5L487.7 233.7L489.2 232.9L490.6 232.3L492.0 231.8L493.4 231.3L494.7 231.0L496.0 230.8L497.6 230.7L499.2 230.8L500.7 231.1L502.2 231.5L503.6 232.0L505.1 232.7L506.4 233.5L507.8 234.4L508.8 235.2L509.8 236.1L510.8 237.1L511.8 238.2L512.7 239.4L513.6 240.7L514.5 242.0L515.4 243.4L516.3 244.9L517.1 246.3L518.0 247.9L518.8 249.4L519.6 251.0L520.2 252.2L520.8 253.4L521.3 254.6L521.9 255.9L522.4 257.2L522.9 258.6L523.4 260.0L524.0 261.4L524.5 262.8L525.0 264.2L525.4 265.7L525.9 267.2L526.4 268.7L526.9 270.3L527.3 271.8L527.8 273.4L528.2 275.0L528.7 276.6L529.1 278.2L529.6 279.8L530.0 281.4L530.5 283.0L530.9 284.7L531.4 286.3L531.8 287.6L532.1 288.9L532.5 290.2L532.8 291.6L533.2 292.9L533.5 294.3L533.8 295.6L534.2 297.0L534.5 298.4L534.8 299.8L535.2 301.2L535.5 302.6L535.8 304.0L536.2 305.4L536.5 306.9L536.8 308.3L537.1 309.8L537.4 311.2L537.8 312.7L538.1 314.2L538.4 315.7L538.7 317.1L539.0 318.7L539.3 320.2L539.6 321.7L539.9 323.2L540.2 324.8L540.5 326.3L540.8 327.9L541.1 329.4L541.4 331.0L541.7 332.6L542.0 334.2L542.3 335.8L542.6 337.4L542.9 339.0L543.2 340.6L543.4 341.9L543.7 343.3L543.9 344.7L544.1 346.0L544.4 347.4L544.6 348.8L544.8 350.2L545.1 351.7L545.3 353.1L545.5 354.5L545.7 356.0L546.0 357.4L546.2 358.9L546.4 360.3L546.6 361.8L546.8 363.3L547.1 364.8L547.3 366.3L547.5 367.8L547.7 369.3L547.9 370.8L548.1 372.3L548.3 373.8L548.6 375.4L548.8 376.9L549.0 378.4L549.2 379.9L549.4 381.5L549.6 383.0L549.8 384.6L550.0 386.1L550.2 387.7L550.4 389.2L550.6 390.8L550.8 392.3L551.0 393.9L551.2 395.4L551.5 397.0L551.7 398.5L551.9 400.1L552.1 401.6L552.3 403.2L552.5 404.7L552.7 406.3L552.9 407.8L553.1 409.3L553.3 410.9L553.5 412.4L553.7 413.9L553.9 415.5L554.2 417.0L554.4 418.5L554.6 420.0L554.8 421.5L555.0 423.0L555.2 424.5L555.4 426.0L555.6 427.5L555.9 429.0L556.1 430.5L556.3 431.9L556.5 433.4L556.7 434.9L556.9 436.4L557.1 437.9L557.3 439.4L557.6 440.9L557.8 442.4L558.0 443.8L558.2 445.3L558.4 446.8L558.6 448.3L558.8 449.8L559.1 451.3L559.3 452.8L559.5 454.2L559.7 455.7L559.9 457.2L560.1 458.7L560.3 460.2L560.5 461.7L560.8 463.2L561.0 464.6L561.2 466.1L561.4 467.6L561.6 469.1L561.8 470.6L562.0 472.1L562.2 473.6L562.5 475.1L562.7 476.5L562.9 478.0L563.1 479.5L563.3 481.0L563.5 482.5L563.7 484.0L563.9 485.5L564.2 487.0L564.4 488.5L564.6 490.0L564.8 491.5L565.0 493.0L565.2 494.5L565.4 496.0L565.6 497.5L565.9 499.0L566.1 500.5L566.3 502.0L566.5 503.5L566.7 505.0L566.9 506.5L567.1 508.0L567.3 509.5L567.5 511.0L567.7 512.5L567.9 514.0L568.1 515.5L568.4 517.0L568.6 518.5L568.8 520.0L569.0 521.6L569.2 523.1L569.4 524.6L569.6 526.1L569.8 527.7L570.0 529.2L570.2 530.7L570.4 532.2L570.6 533.8L570.8 535.3L571.0 536.8L571.2 538.4L571.4 539.9L571.6 541.4L571.8 542.9L572.0 544.5L572.2 546.0L572.4 547.5L572.6 549.1L572.8 550.6L573.0 552.1L573.2 553.6L573.5 555.2L573.7 556.7L573.9 558.2L574.1 559.7L574.3 561.2L574.5 562.7L574.7 564.3L574.9 565.8L575.1 567.3L575.3 568.8L575.5 570.3L575.7 571.8L575.9 573.3L576.1 574.7L576.4 576.2L576.6 577.7L576.8 579.2L577.0 580.6L577.2 582.1L577.4 583.6L577.6 585.0L577.9 586.5L578.1 587.9L578.3 589.4L578.5 590.8L578.7 592.4L579.0 594.0L579.2 595.5L579.5 597.1L579.7 598.7L579.9 600.2L580.2 601.8L580.4 603.3L580.7 604.9L580.9 606.4L581.2 608.0L581.4 609.5L581.7 611.1L581.9 612.6L582.2 614.1L582.4 615.7L582.6 617.2L582.9 618.7L583.1 620.2L583.4 621.8L583.6 623.3L583.9 624.8L584.1 626.3L584.4 627.8L584.6 629.3L584.9 630.8L585.1 632.3L585.4 633.8L585.7 635.3L585.9 636.8L586.2 638.3L586.4 639.7L586.7 641.2L586.9 642.7L587.2 644.2L587.4 645.6L587.7 647.1L588.0 648.6L588.2 650.0L588.5 651.5L588.7 652.9L589.0 654.4L589.3 655.8L589.5 657.3L589.8 658.7L590.0 660.2L590.3 661.6L590.6 663.1L590.9 664.7L591.2 666.2L591.4 667.8L591.7 669.3L592.0 670.8L592.3 672.3L592.6 673.9L592.9 675.4L593.1 676.9L593.4 678.4L593.7 679.9L594.0 681.4L594.3 682.9L594.6 684.4L594.9 685.9L595.2 687.4L595.5 688.9L595.8 690.4L596.0 691.9L596.3 693.4L596.6 694.8L596.9 696.3L597.2 697.8L597.5 699.2L597.8 700.7L598.1 702.1L598.4 703.6L598.7 705.0L599.0 706.5L599.3 707.9L599.6 709.3L599.9 710.8L600.2 712.2L600.5 713.6L600.9 715.0L601.2 716.4L601.5 717.8L601.8 719.2L602.1 720.6L602.5 722.2L602.8 723.7L603.2 725.2L603.5 726.8L603.9 728.3L604.2 729.8L604.6 731.3L604.9 732.8L605.3 734.3L605.7 735.8L606.0 737.2L606.4 738.7L606.7 740.2L607.1 741.6L607.5 743.1L607.8 744.6L608.2 746.0L608.6 747.5L609.0 748.9L609.3 750.4L609.7 751.8L610.1 753.3L610.5 754.7L610.8 756.1L611.2 757.6L611.6 759.0L612.0 760.5L612.4 762.0L612.8 763.4L613.2 764.9L613.6 766.3L614.0 767.8L614.4 769.3L614.8 770.8L615.2 772.3L615.6 773.8L616.0 775.3L616.5 776.9L616.9 778.4L617.3 779.9L617.7 781.5L618.1 783.0L618.5 784.6L619.0 786.1L619.4 787.6L619.8 789.2L620.2 790.7L620.7 792.2L621.1 793.8L621.5 795.3L622.0 796.8L622.4 798.3L622.9 799.8L623.3 801.2L623.8 802.7L624.2 804.1L624.7 805.6L625.2 807.0L625.7 808.4L626.1 809.7L626.6 811.1L627.1 812.4L627.6 813.7L628.1 815.0L628.7 816.5L629.3 818.1L629.9 819.6L630.5 821.1L631.1 822.6L631.7 824.1L632.3 825.6L632.9 827.0L633.6 828.5L634.2 829.9L634.8 831.3L635.5 832.6L636.1 833.9L636.8 835.2L637.5 836.5L638.3 837.7L639.0 838.9L639.8 840.1L640.6 841.2L641.4 842.3L642.3 843.3L643.4 844.5L644.5 845.6L645.7 846.7L646.9 847.8L648.2 848.8L649.5 849.7L650.8 850.7L652.2 851.5L653.5 852.3L654.8 853.1L656.1 853.8L657.4 854.5L658.7 855.1L659.9 855.7L661.1 856.2L662.6 856.8L664.1 857.4L665.5 857.8L667.0 858.2L668.4 858.4L669.8 858.6L671.3 858.6L672.9 858.5L674.2 858.3L675.6 858.0L677.1 857.6L678.5 857.1L680.0 856.5L681.5 855.9L683.0 855.2L684.6 854.4L686.1 853.6L687.5 852.8L689.0 852.0L690.4 851.1L691.8 850.3L693.1 849.5L694.3 848.6L695.5 847.7L696.7 846.8L697.9 845.9L699.0 844.9L700.2 843.9L701.3 842.9L702.5 841.8L703.6 840.8L704.8 839.7L705.9 838.5L707.1 837.4L708.3 836.2L709.3 835.2L710.3 834.2L711.3 833.1L712.3 832.0L713.3 830.8L714.3 829.7L715.4 828.5L716.4 827.2L717.4 826.0L718.4 824.8L719.5 823.5L720.5 822.3L721.5 821.1L722.6 819.9L723.6 818.7L724.6 817.6L725.6 816.4L726.6 815.4L727.6 814.3L728.5 813.3L729.5 812.4L730.8 811.2L732.0 810.2L733.3 809.2L734.5 808.3L735.8 807.4L737.0 806.6L738.2 805.7L739.4 804.8L740.6 803.9L741.8 802.9L743.0 801.8L744.2 800.6L745.1 799.6L746.0 798.5L746.9 797.3L747.9 796.1L748.8 794.8L749.7 793.5L750.6 792.2L751.5 790.8L752.4 789.4L753.3 788.0L754.2 786.6L755.0 785.2L755.9 783.8L756.8 782.5L757.7 781.2L758.6 779.9L759.4 778.7L760.3 777.6L761.1 776.5L762.0 775.5L763.2 774.2L764.4 773.1L765.5 772.0L766.7 771.0L767.8 770.0L769.0 769.1L770.1 768.2L771.3 767.2L772.5 766.3L773.7 765.2L774.8 764.3L775.9 763.3L777.0 762.4L778.1 761.5L779.3 760.5L780.4 759.6L781.6 758.6L782.8 757.6L783.9 756.6L785.1 755.5L786.2 754.4L787.4 753.2L788.5 752.0L789.4 751.0L790.3 749.9L791.2 748.9L792.1 747.8L793.0 746.6L793.9 745.5L794.8 744.3L795.7 743.1L796.6 741.8L797.5 740.6L798.4 739.3L799.2 738.1L800.1 736.8L801.0 735.5L801.9 734.2L802.7 732.9L803.6 731.6L804.4 730.2L805.3 728.9L806.1 727.6L806.9 726.4L807.6 725.1L808.4 723.9L809.1 722.6L809.9 721.4L810.6 720.1L811.4 718.9L812.1 717.6L812.9 716.3L813.6 715.0L814.3 713.7L815.0 712.4L815.7 711.1L816.4 709.8L817.1 708.4L817.8 707.0L818.5 705.7L819.2 704.3L819.9 702.9L820.6 701.4L821.3 700.0L821.9 698.5L822.6 697.0L823.2 695.7L823.7 694.4L824.2 693.1L824.8 691.8L825.3 690.5L825.8 689.1L826.3 687.7L826.8 686.3L827.3 684.9L827.8 683.5L828.3 682.1L828.8 680.7L829.3 679.2L829.7 677.8L830.2 676.3L830.7 674.8L831.2 673.4L831.7 671.9L832.1 670.4L832.6 668.9L833.1 667.4L833.6 665.9L834.1 664.4L834.5 663.0L835.0 661.5L835.5 660.0L836.0 658.5L836.5 657.0L837.0 655.6L837.5 654.1L838.0 652.7L838.6 651.2L839.1 649.8L839.6 648.4L840.2 646.9L840.7 645.5L841.3 644.1L841.8 642.6L842.3 641.2L842.9 639.7L843.4 638.3L844.0 636.9L844.5 635.4L845.1 634.0L845.6 632.6L846.2 631.1L846.7 629.7L847.3 628.3L847.9 626.8L848.4 625.4L849.0 624.0L849.6 622.5L850.1 621.1L850.7 619.7L851.3 618.3L851.9 616.8L852.5 615.4L853.1 614.0L853.7 612.5L854.3 611.1L854.9 609.7L855.5 608.3L856.1 606.9L856.7 605.4L857.4 604.0L858.0 602.6L858.6 601.2L859.2 599.9L859.9 598.5L860.5 597.2L861.1 595.8L861.8 594.5L862.5 593.1L863.1 591.8L863.8 590.5L864.4 589.1L865.1 587.8L865.8 586.5L866.5 585.1L867.2 583.8L867.9 582.5L868.5 581.1L869.2 579.8L869.9 578.4L870.6 577.1L871.3 575.8L872.0 574.4L872.7 573.1L873.4 571.8L874.1 570.4L874.8 569.1L875.5 567.7L876.2 566.4L876.9 565.0L877.6 563.6L878.2 562.3L878.9 560.9L879.6 559.5L880.3 558.2L880.9 556.8L881.6 555.4L882.2 554.1L882.9 552.7L883.5 551.4L884.1 550.0L884.7 548.7L885.4 547.3L886.0 546.0L886.6 544.6L887.2 543.2L887.9 541.9L888.5 540.5L889.1 539.1L889.7 537.7L890.3 536.3L890.9 534.9L891.6 533.6L892.2 532.2L892.8 530.8L893.4 529.4L894.0 528.0L894.6 526.6L895.2 525.2L895.9 523.9L896.5 522.5L897.1 521.1L897.7 519.7L898.3 518.3L898.9 516.9L899.6 515.6L900.2 514.2L900.8 512.8L901.4 511.5L902.1 510.1L902.7 508.8L903.3 507.4L903.9 506.1L904.6 504.7L905.2 503.4L905.9 502.0L906.5 500.6L907.2 499.2L907.8 497.8L908.5 496.4L909.2 495.0L909.8 493.7L910.5 492.3L911.1 490.9L911.8 489.5L912.5 488.1L913.1 486.7L913.8 485.3L914.4 483.9L915.1 482.6L915.8 481.2L916.4 479.8L917.1 478.4L917.8 477.1L918.4 475.7L919.1 474.4L919.8 473.0L920.5 471.7L921.1 470.3L921.8 469.0L922.5 467.7L923.2 466.4L923.9 465.1L924.6 463.8L925.3 462.5L926.0 461.2L926.7 459.9L927.4 458.7L928.1 457.4L928.8 456.2L929.6 454.8L930.4 453.4L931.2 452.1L932.0 450.7L932.8 449.4L933.6 448.0L934.5 446.7L935.3 445.3L936.1 444.0L936.9 442.7L937.8 441.4L938.6 440.1L939.4 438.8L940.3 437.5L941.1 436.2L941.9 435.0L942.8 433.7L943.6 432.5L944.5 431.3L945.4 430.0L946.2 428.8L947.1 427.7L948.0 426.5L948.8 425.3L949.7 424.2L950.6 423.0L951.5 421.9L952.4 420.8L953.4 419.6L954.5 418.3L955.6 417.1L956.6 415.9L957.7 414.7L958.9 413.6L960.0 412.4L961.1 411.3L962.3 410.1L963.4 409.0L964.5 407.9L965.6 406.9L966.8 405.8L967.9 404.8L969.0 403.7L970.0 402.7L971.1 401.8L972.1 400.8L973.2 399.9L974.1 399.0L975.1 398.1L976.0 397.2L977.3 395.9L978.6 394.6L979.7 393.3L980.9 392.0L982.0 390.8L983.1 389.7L984.2 388.7L985.4 387.8L986.6 387.1L987.8 386.6L989.4 386.2L991.0 386.0L992.6 386.0L994.3 386.2L996.0 386.5L997.8 387.1L999.6 387.8L1000.6 388.3L1001.6 388.9L1002.7 389.7L1003.8 390.5L1004.9 391.4L1006.0 392.4L1007.1 393.4L1008.2 394.5L1009.4 395.7L1010.5 396.9L1011.7 398.1L1012.9 399.3L1014.0 400.5L1015.2 401.7L1016.4 402.9L1017.5 404.1L1018.7 405.2L1019.8 406.2L1021.0 407.2L1022.1 408.2L1023.2 409.0L1024.6 410.0L1025.9 410.9L1027.2 411.8L1028.5 412.7L1029.9 413.5L1031.2 414.3L1032.5 415.1L1033.8 415.9L1035.1 416.6L1036.5 417.3L1037.8 417.9L1039.2 418.5L1040.6 419.1L1042.0 419.6L1043.5 420.1L1045.0 420.4L1046.5 420.7L1048.1 420.9L1049.7 421.0L1051.3 421.1L1052.9 421.2L1054.5 421.4L1056.1 421.5L1057.6 421.7L1059.1 421.9L1060.6 422.2L1062.0 422.7L1063.3 423.2L1064.6 423.9L1065.9 424.8L1067.1 425.7L1068.2 426.8L1069.3 427.9L1070.4 429.0L1071.4 430.2L1072.5 431.3L1073.6 432.4L1074.8 433.4L1076.1 434.2L1077.4 435.0L1078.7 435.6L1080.1 436.2L1081.5 436.8L1082.9 437.3L1084.4 437.8L1085.9 438.2L1087.4 438.6L1089.0 438.9L1090.6 439.2L1092.2 439.4L1093.8 439.6L1095.4 439.7L1097.1 439.7L1098.7 439.7L1100.1 439.6L1101.5 439.5L1103.0 439.3L1104.5 439.0L1106.0 438.8L1107.6 438.4L1109.2 438.1L1110.8 437.7L1112.4 437.2L1114.0 436.7L1115.6 436.2L1117.2 435.7L1118.7 435.2L1120.2 434.6L1121.7 434.0L1123.1 433.4L1124.5 432.8L1125.8 432.1L1127.1 431.5L1128.2 430.8L1129.3 430.2L1130.7 429.2L1132.0 428.1L1133.1 426.9L1134.2 425.6L1135.1 424.4L1136.1 423.1L1137.0 421.9L1137.9 420.8L1138.9 419.7L1140.0 418.8L1141.3 417.8L1142.6 416.9L1143.9 416.1L1145.2 415.4L1146.6 414.8L1148.0 414.3L1149.4 414.0L1150.8 414.0L1152.3 414.3L1153.8 414.7L1155.4 415.3L1156.9 415.8L1158.4 416.3L1159.9 416.5L1161.2 416.4L1162.8 415.9L1164.3 415.2L1165.7 414.2L1167.1 413.1L1168.4 411.9L1169.5 410.5L1170.3 409.4L1170.9 408.1L1171.5 406.8L1172.0 405.3L1172.5 403.9L1172.9 402.3L1173.4 400.7L1173.8 399.1L1174.2 397.5L1174.6 396.1L1174.9 394.7L1175.2 393.3L1175.5 391.8L1175.7 390.3L1176.0 388.8L1176.3 387.3L1176.5 385.7L1176.7 384.1L1177.0 382.5L1177.3 380.8L1177.5 379.2L1177.8 377.5L1178.0 376.1L1178.3 374.7L1178.5 373.2L1178.8 371.7L1179.0 370.2L1179.3 368.7L1179.5 367.2L1179.8 365.6L1180.0 364.1L1180.3 362.5L1180.5 360.9L1180.8 359.3L1181.0 357.7L1181.3 356.1L1181.5 354.5L1181.8 352.9L1182.0 351.2L1182.3 349.6L1182.5 348.0L1182.7 346.5L1182.9 345.0L1183.1 343.5L1183.3 342.0L1183.5 340.5L1183.7 338.9L1183.9 337.4L1184.1 335.8L1184.3 334.2L1184.5 332.6L1184.7 331.1L1184.9 329.5L1185.1 327.9L1185.3 326.3L1185.5 324.8L1185.7 323.2L1186.0 321.7L1186.2 320.1L1186.4 318.6L1186.6 317.1L1186.8 315.6L1187.0 314.1L1187.2 312.6L1187.4 310.9L1187.7 309.1L1187.9 307.2L1188.1 305.3L1188.4 303.3L1188.6 301.2L1188.8 299.2L1189.1 297.2L1189.3 295.2L1189.6 293.3L1189.8 291.5L1190.0 289.9L1190.3 288.3L1190.5 287.0L1190.8 285.8L1191.1 284.8L1191.3 284.1L1191.6 283.7L1191.9 283.5L1192.3 283.7L1192.7 284.5L1193.1 285.6L1193.5 287.1L1194.0 288.8L1194.4 290.8L1194.8 292.8L1195.3 294.9L1195.7 297.0L1196.2 299.0L1196.6 300.8L1196.9 302.2L1197.3 303.6L1197.6 305.1L1197.9 306.6L1198.3 308.1L1198.6 309.6L1198.9 311.2L1199.3 312.7L1199.6 314.3L1200.0 315.8L1200.3 317.3L1200.7 318.8L1201.1 320.3L1201.6 321.7L1202.0 323.1L1202.5 324.4L1203.1 326.0L1203.9 327.4L1204.6 328.9L1205.4 330.3L1206.2 331.7L1207.0 333.0L1207.8 334.3L1208.6 335.7L1209.4 337.0L1210.1 338.3L1210.8 339.7L1211.5 341.1L1212.1 342.5L1212.7 343.8L1213.3 345.2L1213.9 346.6L1214.5 347.9L1215.1 349.3L1215.6 350.8L1216.2 352.3L1216.7 353.9L1217.1 355.2L1217.5 356.6L1217.9 358.0L1218.2 359.4L1218.6 360.9L1218.9 362.4L1219.3 364.0L1219.6 365.5L1220.0 367.1L1220.3 368.6L1220.6 370.2L1221.0 371.7L1221.4 373.2L1221.8 374.7L1222.2 376.1L1222.6 377.5L1223.1 379.1L1223.7 380.7L1224.2 382.3L1224.8 383.9L1225.4 385.5L1226.0 387.0L1226.6 388.5L1227.2 390.0L1227.8 391.4L1228.4 392.7L1229.1 394.0L1229.7 395.2L1230.6 396.9L1231.6 398.7L1232.6 400.3L1233.6 401.7L1234.6 402.7L1235.6 403.0L1236.5 402.7L1237.4 401.9L1238.3 400.8L1239.2 399.3L1240.1 397.7L1241.0 396.0L1241.9 394.3L1242.7 392.8L1243.4 391.5L1244.0 390.2L1244.6 388.7L1245.2 387.3L1245.8 385.8L1246.4 384.3L1247.0 382.8L1247.6 381.4L1248.3 380.0L1248.9 378.7L1249.7 377.5L1250.7 376.1L1251.8 374.7L1252.9 373.5L1254.1 372.3L1255.3 371.2L1256.6 370.2L1258.0 369.2L1259.3 368.4L1260.7 367.7L1262.2 367.1L1263.7 366.5L1265.2 366.0L1266.8 365.5L1268.3 365.0L1269.8 364.5L1271.3 364.0L1272.8 363.4L1274.3 362.8L1275.8 362.2L1277.3 361.7L1278.8 361.3L1280.2 361.1L1281.6 361.0L1283.2 361.3L1284.6 361.8L1286.1 362.6L1287.5 363.3L1289.1 363.9L1290.8 364.2L1292.0 364.2L1293.3 364.0L1294.6 363.7L1296.0 363.3L1297.4 362.8L1298.8 362.3L1300.3 361.7L1301.8 361.2L1303.4 360.7L1304.9 360.2L1306.5 359.8L1308.1 359.5L1309.7 359.4L1311.1 359.4L1312.4 359.4L1313.8 359.5L1315.3 359.6L1316.7 359.7L1318.2 359.9L1319.7 360.1L1321.2 360.4L1322.8 360.7L1324.3 361.0L1325.8 361.3L1327.4 361.6L1328.9 362.0L1330.4 362.3L1332.0 362.7L1333.5 363.1L1335.0 363.5L1336.5 363.8L1338.0 364.2L1339.5 364.6L1341.0 365.0L1342.5 365.4L1344.0 365.8L1345.5 366.3L1347.0 366.7L1348.4 367.2L1349.9 367.6L1351.4 368.1L1352.9 368.6L1354.4 369.1L1355.9 369.7L1357.3 370.2L1358.8 370.7L1360.3 371.3L1361.8 371.9L1363.3 372.4L1364.8 373.0L1366.3 373.6L1367.7 374.2L1369.1 374.7L1370.4 375.3L1371.8 375.9L1373.2 376.5L1374.6 377.1L1376.0 377.8L1377.3 378.4L1378.7 379.0L1380.1 379.7L1381.5 380.4L1382.9 381.0L1384.3 381.7L1385.7 382.4L1387.1 383.1L1388.5 383.7L1389.9 384.4L1391.3 385.1L1392.7 385.8L1394.1 386.5L1395.6 387.1L1397.0 387.8L1398.3 388.4L1399.7 389.0L1401.0 389.6L1402.3 390.2L1403.7 390.8L1405.1 391.5L1406.4 392.1L1407.8 392.7L1409.2 393.3L1410.6 393.9L1412.0 394.5L1413.4 395.1L1414.8 395.8L1416.2 396.4L1417.5 397.0L1418.9 397.7L1420.3 398.3L1421.7 398.9L1423.1 399.6L1424.4 400.2L1425.8 400.9L1427.1 401.6L1428.5 402.2L1429.8 402.9L1431.1 403.6L1432.4 404.3L1433.8 405.1L1435.2 405.8L1436.6 406.6L1437.9 407.4L1439.3 408.1L1440.7 408.9L1442.0 409.7L1443.4 410.5L1444.7 411.3L1446.1 412.1L1447.4 412.9L1448.7 413.7L1450.0 414.5L1451.4 415.4L1452.7 416.2L1454.0 417.0L1455.3 417.9L1456.6 418.8L1457.9 419.6L1459.2 420.5L1460.4 421.4L1461.7 422.3L1463.0 423.2L1464.2 424.1L1465.5 425.0L1466.8 426.0L1468.1 427.0L1469.4 428.0L1470.7 429.0L1472.0 430.1L1473.3 431.1L1474.6 432.2L1475.9 433.3L1477.2 434.3L1478.4 435.4L1479.7 436.5L1480.9 437.5L1482.1 438.5L1483.3 439.6L1484.4 440.6L1485.5 441.5L1486.6 442.5L1487.7 443.4L1488.7 444.3L1489.6 445.1L1490.5 445.9L1491.4 446.7L1492.9 448.1L1494.2 449.3L1495.3 450.4L1496.4 451.5L1497.5 452.6L1498.6 453.7L1500.0 454.9L1501.1 455.8L1502.2 456.7L1503.4 457.6L1504.7 458.6L1506.0 459.5L1507.3 460.5L1508.6 461.5L1510.0 462.4L1511.3 463.4L1512.6 464.4L1514.0 465.4L1515.2 466.3L1516.5 467.3L1517.8 468.3L1519.1 469.4L1520.3 470.6L1521.6 471.8L1522.8 472.9L1524.1 474.1L1525.3 475.2L1526.6 476.2L1527.8 477.1L1529.0 478.0L1530.2 478.7L1531.4 479.2L1533.1 479.7L1534.7 479.9L1536.3 479.9L1538.0 479.9L1539.6 479.7L1541.3 479.7L1542.9 479.6L1544.6 479.4L1546.3 479.2L1548.0 479.0L1549.7 478.9L1551.4 478.9L1552.9 479.2L1554.3 479.8L1555.7 480.6L1557.0 481.6L1558.3 482.7L1559.5 483.7L1560.8 484.5L1562.0 485.0L1563.7 485.1L1565.4 484.8L1567.0 484.5L1568.6 484.6L1569.9 485.2L1571.1 486.1L1572.2 487.2L1573.3 488.4L1574.3 489.6L1575.3 490.8L1576.2 492.1L1577.0 493.4L1577.8 494.8L1578.5 496.2L1579.2 497.7L1579.8 499.3L1580.4 500.9L1580.9 502.6L1581.4 504.4L1581.7 505.8L1581.9 507.3L1582.1 508.8L1582.3 510.5L1582.5 512.1L1582.6 513.7L1582.9 515.4L1583.1 517.0L1583.5 518.5L1584.0 520.1L1584.5 521.7L1585.1 523.2L1585.8 524.8L1586.4 526.3L1587.1 527.8L1587.8 529.4L1588.4 530.9" fill="none" stroke="#000080" stroke-width="8.6" stroke-linejoin="round" stroke-linecap="butt" shape-rendering="crispEdges"/>
<path d="M1597.5 518.5L1598.0 520.0L1598.6 521.6L1599.1 523.1L1599.7 524.6L1600.2 526.1L1600.7 527.7L1601.2 529.3L1601.6 530.9L1601.9 532.3L1602.2 533.7L1602.4 535.2L1602.7 536.7L1602.9 538.2L1603.1 539.8L1603.3 541.3L1603.5 542.8L1603.7 544.4L1603.9 545.9L1604.1 547.4L1604.3 548.9L1604.6 550.4L1604.8 551.9L1605.0 553.4L1605.2 554.9L1605.5 556.4L1605.7 557.9L1605.9 559.4L1606.1 560.9L1606.4 562.4L1606.6 563.9L1606.8 565.5L1607.1 566.9L1607.3 568.3L1607.5 569.8L1607.8 571.2L1608.0 572.7L1608.2 574.3L1608.5 576.0L1608.7 577.9L1609.0 580.0L1609.1 580.9L1609.2 581.9L1609.4 582.9L1609.5 584.0L1609.6 585.1L1609.7 586.2L1609.8 587.4L1610.0 588.6L1610.1 589.8L1610.2 591.1L1610.4 592.4L1610.5 593.7L1610.6 595.1L1610.8 596.5L1610.9 597.9L1611.1 599.3L1611.2 600.8L1611.3 602.3L1611.5 603.8L1611.6 605.3L1611.8 606.8L1611.9 608.4L1612.1 610.0L1612.2 611.6L1612.4 613.2L1612.5 614.8L1612.7 616.4L1612.8 618.1L1613.0 619.7L1613.1 621.4L1613.3 623.1L1613.5 624.7L1613.6 626.4L1613.8 628.1L1613.9 629.8L1614.1 631.5L1614.3 633.2L1614.4 634.9L1614.6 636.5L1614.8 638.2L1614.9 639.9L1615.1 641.6L1615.3 643.2L1615.4 644.9L1615.6 646.5L1615.8 648.2L1615.9 649.8L1616.1 651.4L1616.3 653.0L1616.4 654.6L1616.6 656.1L1616.8 657.7L1617.0 659.2L1617.1 660.7L1617.3 662.2L1617.5 663.7L1617.7 665.3L1617.8 666.8L1618.0 668.4L1618.2 669.9L1618.4 671.5L1618.6 673.0L1618.7 674.6L1618.9 676.2L1619.1 677.8L1619.3 679.4L1619.5 680.9L1619.7 682.5L1619.9 684.1L1620.0 685.7L1620.2 687.3L1620.4 688.9L1620.6 690.5L1620.8 692.1L1621.0 693.7L1621.2 695.2L1621.4 696.8L1621.6 698.4L1621.8 700.0L1622.0 701.5L1622.2 703.1L1622.4 704.7L1622.6 706.2L1622.8 707.8L1623.0 709.3L1623.2 710.8L1623.4 712.4L1623.6 713.9L1623.8 715.4L1624.0 716.9L1624.2 718.4L1624.4 719.9L1624.6 721.3L1624.8 722.8L1625.0 724.2L1625.3 725.6L1625.5 727.0L1625.7 728.4L1625.9 729.8L1626.1 731.2L1626.3 732.5L1626.6 733.9L1626.8 735.2L1627.0 736.5L1627.2 737.8L1627.5 739.1L1627.7 740.3L1628.0 742.1L1628.4 743.9L1628.7 745.8L1629.0 747.8L1629.4 749.8L1629.7 751.8L1630.0 753.8L1630.4 755.8L1630.7 757.7L1631.1 759.7L1631.4 761.6L1631.8 763.5L1632.2 765.3L1632.5 767.1L1632.9 768.8L1633.2 770.4L1633.6 771.9L1634.0 773.2L1634.3 774.5L1634.7 775.6L1635.1 776.6L1635.5 777.4L1635.8 778.1L1636.2 778.6L1636.6 778.9L1637.0 779.0L1637.4 778.9L1637.8 778.6L1638.1 778.1L1638.5 777.4L1638.9 776.5L1639.3 775.4L1639.7 774.2L1640.1 772.9L1640.5 771.5L1640.9 769.9L1641.3 768.3L1641.7 766.5L1642.1 764.7L1642.5 762.8L1642.9 760.9L1643.3 759.0L1643.7 757.0L1644.1 755.1L1644.5 753.1L1644.9 751.2L1645.3 749.3L1645.8 747.4L1646.2 745.6L1646.6 743.9L1647.0 742.3L1647.4 740.7L1647.9 739.3L1648.3 738.0L1648.9 736.4L1649.4 734.8L1650.0 733.3L1650.6 731.8L1651.1 730.4L1651.7 729.0L1652.2 727.6L1652.8 726.2L1653.4 724.9L1654.0 723.5L1654.6 722.2L1655.2 720.9L1655.8 719.5L1656.4 718.2L1657.1 716.9L1657.7 715.5L1658.4 714.1L1659.1 712.6L1659.7 711.1L1660.4 709.7L1661.1 708.2L1661.8 706.8L1662.5 705.3L1663.3 703.9L1664.0 702.5L1664.8 701.1L1665.5 699.7L1666.4 698.4L1667.2 697.1L1668.1 695.9L1669.0 694.7L1670.0 693.5L1671.1 692.3L1672.2 691.2L1673.4 690.1L1674.6 689.0L1675.8 688.0L1677.0 687.0L1678.3 686.0L1679.5 685.0L1680.7 684.1L1681.9 683.2L1683.1 682.4L1684.2 681.5L1685.5 680.5L1686.8 679.7L1688.0 678.8L1689.3 678.0L1690.5 677.2L1691.7 676.5L1693.0 675.7L1694.2 674.9L1695.5 674.0L1696.8 673.1L1698.2 672.2L1699.6 671.3L1701.0 670.3L1702.5 669.4L1703.9 668.4L1705.2 667.4L1706.5 666.4L1707.6 665.5L1708.7 664.5L1709.8 663.2L1710.6 661.9L1711.4 660.6L1712.1 659.3L1713.1 658.1L1714.3 657.0L1715.3 656.3L1716.5 655.6L1717.7 655.0L1719.1 654.4L1720.5 653.8L1722.0 653.2L1723.5 652.7L1725.1 652.2L1726.7 651.8L1728.3 651.3L1730.0 651.0L1731.6 650.7L1733.2 650.4L1734.6 650.2L1736.1 650.1L1737.6 650.0L1739.1 649.9L1740.7 649.9L1742.3 649.9L1743.8 650.0L1745.5 650.1L1747.1 650.2L1748.7 650.3L1750.3 650.4L1751.9 650.6L1753.5 650.7L1755.0 650.9L1756.6 651.0L1758.1 651.2L1759.6 651.3L1761.2 651.5L1762.8 651.6L1764.4 651.8L1765.9 652.0L1767.4 652.2L1769.0 652.5L1770.5 652.7L1772.0 652.9L1773.5 653.2L1775.0 653.4L1776.6 653.7L1778.1 653.9L1779.7 654.2L1781.3 654.4L1782.8 654.6L1784.3 654.8L1785.8 655.0L1787.3 655.2L1788.9 655.3L1790.5 655.5L1792.0 655.7L1793.6 655.8L1795.2 656.0L1796.7 656.2L1798.3 656.4L1799.9 656.7L1801.4 656.9L1802.9 657.2L1804.4 657.6L1805.9 657.9L1807.3 658.3L1808.8 658.7L1810.3 659.2L1811.8 659.7L1813.3 660.2L1814.8 660.8L1816.2 661.3L1817.7 661.9L1819.1 662.5L1820.5 663.2L1821.9 663.8L1823.2 664.5L1824.5 665.2L1825.8 666.0L1827.0 666.7L1828.2 667.5L1829.5 668.4L1830.7 669.3L1832.0 670.3L1833.1 671.3L1834.3 672.3L1835.4 673.4L1836.5 674.5L1837.5 675.6L1838.5 676.7L1839.4 678.0L1840.3 679.2L1841.2 680.5L1842.0 681.8L1842.7 683.1L1843.4 684.6L1844.0 686.0L1844.6 687.5L1845.1 689.1L1845.6 690.7L1846.1 692.2L1846.6 693.8L1847.1 695.4L1847.6 696.9L1848.0 698.4L1848.5 699.9L1849.0 701.3L1849.5 703.1L1850.0 705.0L1850.4 706.9L1850.9 708.9L1851.3 710.8L1851.7 712.6L1852.2 714.2L1852.7 715.5L1853.4 716.4L1854.2 716.9L1855.3 716.9L1856.5 716.3L1857.8 715.3L1859.3 714.0L1860.7 712.6L1862.1 711.2L1863.4 710.0L1864.6 709.1L1866.4 707.8L1868.1 706.7L1869.8 706.5L1870.7 706.9L1871.5 707.6L1872.4 708.5L1873.3 709.7L1874.2 711.1L1875.2 712.5L1876.1 714.0L1877.1 715.6L1878.1 717.0L1879.1 718.3L1880.2 719.5L1881.3 720.6L1882.4 721.6L1883.5 722.6L1884.7 723.6L1885.9 724.5L1887.1 725.5L1888.3 726.4L1889.5 727.3L1890.8 728.2L1892.0 729.1L1893.2 729.9L1894.5 730.7L1895.8 731.5L1897.1 732.2L1898.5 732.9L1899.8 733.6L1901.2 734.3L1902.5 735.0L1903.8 735.8L1905.1 736.7L1906.3 737.7L1907.4 738.7L1908.4 739.7L1909.5 740.8L1910.5 741.9L1911.5 743.0L1912.4 744.2L1913.4 745.5L1914.4 746.8L1915.4 748.0L1916.3 749.4L1917.3 750.7L1918.3 752.0L1919.3 753.4L1920.1 754.6L1921.0 755.9L1921.8 757.3L1922.6 758.7L1923.4 760.1L1924.3 761.6L1925.1 763.2L1925.9 764.7L1926.7 766.2L1927.5 767.7L1928.4 769.1L1929.2 770.5L1930.1 771.8L1931.0 773.0L1932.0 774.2L1932.9 775.2L1933.9 776.1L1934.9 776.8L1936.3 777.6L1937.7 778.2L1939.2 778.6L1940.6 778.9L1942.1 779.1L1943.7 779.2L1945.3 779.2L1947.0 779.3L1948.7 779.3L1950.5 779.4L1951.8 779.5L1953.2 779.5L1954.7 779.4L1956.2 779.4L1957.7 779.3L1959.3 779.1L1960.9 779.0L1962.6 778.8L1964.2 778.7L1965.9 778.5L1967.6 778.3L1969.3 778.2L1970.9 778.1L1972.6 777.9L1974.2 777.9L1975.8 777.8L1977.4 777.8L1978.9 777.9L1980.4 777.9L1981.8 778.1L1983.4 778.3L1985.0 778.6L1986.6 778.8L1988.2 779.1L1989.7 779.5L1991.2 779.8L1992.7 780.3L1994.1 780.7L1995.6 781.2L1997.0 781.8L1998.4 782.4L1999.8 783.1L2001.2 783.8L2002.6 784.6L2003.8 785.4L2005.0 786.2L2006.1 787.0L2007.3 788.0L2008.4 788.9L2009.5 790.0L2010.7 791.0L2011.8 792.1L2012.9 793.3L2014.0 794.4L2015.1 795.6L2016.1 796.8L2017.2 798.0L2018.2 799.3L2019.3 800.5L2020.3 801.7L2021.4 803.0L2022.4 804.2L2023.4 805.4L2024.3 806.5L2025.3 807.7L2026.2 808.8L2027.1 810.0L2028.0 811.2L2028.9 812.3L2029.8 813.5L2030.7 814.7L2031.6 815.9L2032.4 817.1L2033.3 818.4L2034.1 819.6L2035.0 820.9L2035.8 822.1L2036.7 823.4L2037.5 824.7L2038.3 826.0L2039.2 827.4L2040.0 828.7L2040.8 830.1L2041.6 831.5L2042.3 832.7L2043.0 834.0L2043.7 835.3L2044.4 836.6L2045.1 838.0L2045.7 839.3L2046.4 840.7L2047.1 842.1L2047.7 843.6L2048.4 845.0L2049.0 846.4L2049.7 847.9L2050.3 849.3L2051.0 850.8L2051.6 852.2L2052.3 853.7L2052.9 855.2L2053.5 856.6L2054.2 858.1L2054.8 859.5L2055.4 860.9L2056.1 862.4L2056.7 863.8L2057.3 865.2L2058.0 866.5L2058.6 867.9L2059.3 869.2L2059.9 870.5L2060.6 871.9L2061.3 873.4L2062.1 874.8L2062.8 876.3L2063.5 877.7L2064.2 879.2L2065.0 880.6L2065.7 882.0L2066.4 883.4L2067.1 884.8L2067.8 886.2L2068.6 887.6L2069.3 888.9L2070.0 890.2L2070.7 891.6L2071.4 892.8L2072.1 894.1L2072.8 895.3L2073.5 896.6L2074.2 897.7L2074.8 898.9L2075.5 900.0L2076.4 901.4L2077.2 902.8L2078.0 904.1L2078.9 905.3L2079.6 906.5L2080.4 907.6L2081.3 908.8L2082.1 909.9L2083.0 911.1L2083.9 912.3L2084.9 913.6L2085.9 915.0L2086.7 916.0L2087.5 917.1L2088.3 918.1L2089.2 919.2L2090.1 920.4L2091.0 921.5L2092.0 922.7L2092.9 923.8L2093.9 925.0L2094.9 926.2L2095.9 927.4L2097.0 928.6L2098.0 929.9L2099.0 931.1L2100.1 932.3L2101.1 933.6L2102.2 934.8L2103.2 936.0L2104.3 937.3L2105.3 938.5L2106.3 939.7L2107.3 940.9L2108.3 942.1L2109.3 943.3" fill="none" stroke="#000080" stroke-width="8.6" stroke-linejoin="round" stroke-linecap="butt" shape-rendering="crispEdges"/>
<path d="M264.9 818.8L265.1 820.4L265.3 822.0L265.5 823.7L265.7 825.5L265.9 827.4L266.1 829.3L266.2 831.2L266.4 833.2L266.6 835.2L266.8 837.2L266.9 839.2L267.1 841.1L267.3 843.1L267.5 845.0L267.6 846.9L267.8 848.7L268.0 850.4L268.2 852.1L268.4 853.7L268.7 855.2L268.9 856.6L269.1 857.9L269.4 859.0L269.7 860.0L270.0 860.9L270.3 861.6L270.6 862.2L270.9 862.5L271.3 862.7L272.1 862.5L273.0 861.8L273.9 860.7L274.9 859.2L275.9 857.4L276.8 855.6L277.7 853.7L278.4 852.0L278.8 850.7L279.2 849.4L279.6 848.0L279.9 846.5L280.2 845.0L280.4 843.5L280.6 841.9L280.8 840.3L281.0 838.7L281.1 837.1L281.3 835.5L281.5 833.9L281.7 832.3L281.9 830.8L282.1 829.3L282.3 827.8L282.5 826.3L282.7 824.7L282.9 823.2L283.1 821.7L283.3 820.2L283.5 818.7L283.7 817.2L283.9 815.7L284.1 814.1L284.3 812.6L284.5 811.1L284.7 809.6L284.9 808.1L285.1 806.7L285.3 805.3L285.5 803.9L285.7 802.6L285.9 801.2L286.1 799.8L286.3 798.4L286.5 796.9L286.7 795.4L286.9 793.8L287.1 792.1L287.4 790.2L287.6 788.3L287.7 787.3L287.8 786.2L288.0 785.1L288.1 784.0L288.2 782.8L288.3 781.6L288.5 780.4L288.6 779.1L288.7 777.8L288.8 776.5L289.0 775.2L289.1 773.9L289.2 772.5L289.4 771.1L289.5 769.7L289.6 768.2L289.8 766.8L289.9 765.3L290.1 763.8L290.2 762.3L290.3 760.8L290.5 759.2L290.6 757.7L290.8 756.1L290.9 754.5L291.1 752.9L291.2 751.3L291.4 749.7L291.5 748.1L291.7 746.5L291.8 744.8L292.0 743.2L292.1 741.5L292.3 739.9L292.4 738.2L292.6 736.6L292.7 734.9L292.9 733.2L293.1 731.6L293.2 729.9L293.4 728.3L293.5 726.6L293.7 724.9L293.9 723.3L294.0 721.7L294.2 720.0L294.4 718.4L294.5 716.8L294.7 715.1L294.9 713.5L295.1 712.0L295.2 710.4L295.4 708.8L295.6 707.4L295.7 705.9L295.9 704.5L296.1 703.0L296.2 701.6L296.4 700.1L296.6 698.6L296.8 697.1L296.9 695.7L297.1 694.2L297.3 692.7L297.5 691.2L297.7 689.7L297.9 688.2L298.1 686.7L298.3 685.2L298.4 683.7L298.6 682.2L298.8 680.7L299.0 679.1L299.2 677.6L299.4 676.1L299.6 674.6L299.8 673.1L300.0 671.5L300.2 670.0L300.4 668.5L300.6 667.0L300.8 665.4L301.0 663.9L301.2 662.4L301.4 660.8L301.6 659.3L301.8 657.8L302.0 656.2L302.2 654.7L302.4 653.2L302.6 651.7L302.8 650.1L303.0 648.6L303.2 647.1L303.4 645.6L303.6 644.1L303.8 642.5L304.0 641.0L304.2 639.5L304.4 638.0L304.6 636.5L304.8 635.0L305.0 633.5L305.2 632.0L305.3 630.5L305.5 629.0L305.7 627.5L305.9 626.1L306.0 624.6L306.2 623.1L306.4 621.6L306.6 620.2L306.7 618.7L306.9 617.3L307.0 615.8L307.2 614.4L307.4 612.8L307.5 611.3L307.7 609.8L307.9 608.2L308.0 606.7L308.2 605.2L308.3 603.7L308.5 602.2L308.7 600.7L308.8 599.2L309.0 597.7L309.1 596.2L309.3 594.8L309.4 593.3L309.6 591.8L309.7 590.4L309.8 588.9L310.0 587.5L310.1 586.0L310.3 584.6L310.4 583.1L310.5 581.7L310.7 580.2L310.8 578.8L310.9 577.3L311.1 575.9L311.2 574.4L311.3 573.0L311.5 571.5L311.6 570.1L311.7 568.6L311.9 567.1L312.0 565.7L312.1 564.2L312.3 562.7L312.4 561.2L312.5 559.8L312.6 558.3L312.8 556.8L312.9 555.3L313.0 553.8L313.1 552.3L313.3 550.7L313.4 549.2L313.5 547.7L313.6 546.1L313.8 544.6L313.9 543.0L314.0 541.4L314.1 539.8L314.3 538.2L314.4 536.6L314.5 535.0L314.6 533.6L314.7 532.2L314.8 530.8L314.9 529.4L315.0 527.9L315.1 526.5L315.2 525.1L315.3 523.6L315.4 522.1L315.5 520.6L315.6 519.2L315.7 517.7L315.8 516.2L315.9 514.6L316.0 513.1L316.1 511.6L316.2 510.1L316.3 508.5L316.4 507.0L316.5 505.4L316.6 503.9L316.7 502.3L316.8 500.8L316.9 499.2L317.0 497.6L317.1 496.0L317.2 494.5L317.3 492.9L317.4 491.3L317.4 489.7L317.5 488.1L317.6 486.5L317.7 485.0L317.8 483.4L317.9 481.8L318.0 480.2L318.1 478.6L318.2 477.0L318.3 475.4L318.4 473.8L318.4 472.2L318.5 470.7L318.6 469.1L318.7 467.5L318.8 465.9L318.9 464.4L319.0 462.8L319.1 461.2L319.2 459.7L319.2 458.1L319.3 456.6L319.4 455.0L319.5 453.5L319.6 451.9L319.7 450.4L319.8 448.9L319.8 447.4L319.9 445.9L320.0 444.4L320.1 442.9L320.2 441.4L320.3 439.9L320.4 438.4L320.4 437.0L320.5 435.5L320.6 434.1L320.7 432.7L320.8 431.3L320.9 429.9L321.0 428.5L321.0 427.1L321.1 425.7L321.2 424.3L321.3 423.0L321.4 421.3L321.5 419.7L321.6 418.0L321.7 416.4L321.8 414.8L321.9 413.2L322.0 411.6L322.1 410.0L322.2 408.5L322.3 406.9L322.4 405.4L322.5 403.8L322.6 402.3L322.7 400.8L322.8 399.3L322.9 397.8L323.0 396.3L323.1 394.8L323.2 393.3L323.3 391.8L323.4 390.4L323.5 388.9L323.6 387.4L323.7 386.0L323.8 384.5L323.9 383.1L324.0 381.6L324.1 380.2L324.2 378.7L324.3 377.3L324.4 375.8L324.5 374.4L324.6 372.9L324.7 371.5L324.8 370.0L324.9 368.6L325.0 367.1L325.1 365.7L325.2 364.2L325.3 362.8L325.4 361.3L325.5 359.8L325.6 358.4L325.7 356.9L325.8 355.4L325.9 353.9L326.0 352.4L326.1 350.9L326.2 349.4L326.3 347.9L326.4 346.3L326.5 344.8L326.6 343.3L326.7 341.7L326.8 340.2L326.9 338.6L326.9 337.1L327.0 335.5L327.1 334.0L327.2 332.4L327.3 330.9L327.4 329.3L327.5 327.7L327.6 326.2L327.6 324.6L327.7 323.1L327.8 321.5L327.9 320.0L328.0 318.4L328.1 316.9L328.2 315.3L328.3 313.8L328.4 312.2L328.5 310.7L328.6 309.2L328.6 307.7L328.7 306.1L328.8 304.6L329.0 303.1L329.1 301.6L329.2 300.1L329.3 298.6L329.4 297.2L329.5 295.7L329.6 294.2L329.7 292.8L329.9 291.4L330.0 289.9L330.1 287.2L330.2 288.4L330.4 284.3L330.5 285.0L330.7 281.5L330.8 282.4L331.0 279.0L331.2 279.4L331.4 275.2L331.5 275.9L331.7 271.9L331.9 272.9L332.1 269.2L332.3 269.5L332.5 266.1L332.7 266.1L333.0 263.0L333.2 263.5L333.4 259.2L333.6 260.0L333.8 257.0L334.0 257.7L334.3 253.6L334.5 254.2L334.7 250.8L335.0 251.4L335.2 247.4L335.5 248.3L335.7 244.8L336.0 245.1L336.2 241.5L336.5 242.2L336.8 239.0L337.0 240.0L337.3 236.4L337.6 237.1L337.9 232.9L338.2 234.0L338.6 229.9L338.9 230.4L339.2 227.0L339.5 227.2L339.9 223.5L340.2 224.7L340.6 221.2L340.9 222.2L341.3 217.8L341.6 219.1L342.0 215.1L342.4 215.7L342.8 211.9L343.1 212.8L343.6 209.4L344.0 210.0L344.4 206.8L344.8 207.2L345.3 203.5L345.8 205.1L346.3 201.2L346.8 202.3L347.3 199.1L348.0 199.2L348.7 196.1L349.4 196.9L350.2 192.7L351.0 193.7L351.7 190.0L352.5 191.4L353.4 187.6L354.2 188.9L355.1 185.4L356.0 186.6L357.0 183.5L358.0 184.8L359.0 181.9L360.3 183.2L361.6 179.7L363.1 181.0L364.6 178.0L366.1 180.4L367.6 177.8L369.1 179.5L370.6 177.2L372.0 178.1L373.3 175.1L375.0 176.3L376.6 173.5L378.1 176.7L379.7 174.9L381.2 178.0L382.7 176.7L384.2 180.1L385.7 178.4L387.2 181.8L388.7 180.2L390.3 183.3L392.0 181.0L393.2 184.0L394.6 181.6L395.9 184.9L397.4 183.6L398.8 186.4L400.3 184.8L401.9 187.5L403.4 184.8L405.0 187.0L406.5 184.8L408.0 188.3L409.5 187.3L411.0 190.5L412.4 188.8L413.7 191.7L415.0 190.0L416.3 192.8L417.6 190.8L418.9 194.2L420.3 194.1L421.6 195.6L422.9 195.8L424.3 197.2L425.7 196.9L427.1 198.3L428.5 198.0L430.0 199.5L431.4 199.1L432.8 200.1L434.3 199.5L435.8 200.3L437.4 199.9L439.0 200.7L440.6 200.0L442.2 200.8L443.8 200.2L445.4 200.9L446.9 200.2L448.5 201.1L450.0 200.2L451.5 201.1L453.0 200.3L454.4 201.3L455.8 200.9L457.5 202.0L459.0 201.5L460.6 202.6L462.0 202.1L463.5 203.4L464.9 203.1L466.4 204.3L467.8 204.0L469.3 205.3L470.8 205.0L472.4 206.5L473.7 205.9L475.0 207.6L476.3 207.3L477.5 208.8L478.8 208.5L480.1 210.0L481.4 210.0L482.8 211.5L484.1 211.4L485.5 213.1L486.9 212.7L488.3 214.6L489.8 214.5L491.3 216.2L492.8 216.1L494.4 217.5L496.0 217.4L497.2 218.9L498.4 218.6L499.6 220.0L500.9 219.5L502.2 221.0L503.5 220.7L504.9 222.0L506.2 221.9L507.6 223.4L509.0 222.9L510.4 224.5L511.9 223.9L513.3 225.5L514.8 225.2L516.3 226.7L517.7 226.3L519.2 227.7L520.7 227.5L522.2 229.0L523.7 228.6L525.2 230.0L526.7 229.7L528.2 231.1L529.8 230.9L531.3 232.3L532.8 232.2L534.2 233.6L535.7 233.2L537.2 234.6L538.7 234.5L540.1 235.9L541.6 235.5L543.0 237.2L544.4 236.9L545.8 238.3L547.2 238.2L548.6 239.7L550.0 239.4L551.4 240.8L552.8 240.5L554.1 242.1L555.5 241.8L556.9 243.4L558.3 243.2L559.7 244.7L561.1 244.4L562.5 245.9L563.9 245.7L565.3 247.1L566.6 246.9L568.0 248.4L569.4 248.2L570.8 249.8L572.2 249.4L573.6 250.8L575.0 250.8L576.4 252.2L577.8 251.9L579.2 253.7L580.5 253.3L581.9 254.6L583.3 254.4L584.7 256.0L586.1 255.7L587.5 257.3L588.9 256.9L590.3 258.4L591.7 258.0L593.1 259.6L594.6 259.4L596.0 261.0L597.4 260.7L598.8 262.0L600.3 261.7L601.7 263.1L603.1 262.9L604.6 264.5L606.0 264.2L607.4 265.6L608.8 265.3L610.3 267.0L611.7 266.7L613.1 268.0L614.5 267.7L616.0 269.2L617.4 268.9L618.8 270.2L620.3 270.0L621.7 271.6L623.1 271.3L624.6 272.5L626.0 272.1L627.4 273.8L628.9 273.3L630.3 274.6L631.7 274.3L633.2 276.0L634.6 275.3L636.1 276.9L637.5 276.6L639.0 278.0L640.4 277.6L641.9 278.9L643.4 278.3L644.9 279.9L646.4 279.5L647.9 280.7L649.4 280.2L650.9 281.6L652.4 281.3L653.9 282.6L655.4 282.3L657.0 283.6L658.5 283.2L660.0 284.3L661.5 284.0L663.0 285.1L664.5 285.0L666.0 286.1L667.5 285.6L668.9 287.1L670.4 286.6L671.9 287.8L673.4 287.4L674.8 288.6L676.3 288.2L677.7 289.6L679.1 289.0L680.5 290.1L681.9 289.7L683.3 290.9L684.7 290.5L686.3 291.9L687.8 291.3L689.4 292.8L691.0 292.3L692.5 293.6L694.0 293.2L695.6 294.5L697.1 294.0L698.6 295.4L700.1 295.1L701.6 296.1L703.1 295.8L704.6 297.1L706.1 296.7L707.5 298.0L708.9 297.4L710.4 298.5L711.8 298.2L713.2 299.3L714.6 299.1L716.0 300.3L717.3 299.9L718.7 301.2L720.0 300.6L721.6 301.9L723.2 301.4L724.8 302.8L726.3 302.5L727.9 303.8L729.4 303.7L730.9 305.1L732.4 304.5L733.9 305.9L735.3 305.7L736.7 307.0L738.1 306.3L739.5 307.7L740.9 307.5L742.3 307.8L743.6 308.1L745.3 308.3L746.8 301.1L748.4 319.4L749.9 299.7L751.4 316.2L752.9 300.0L754.4 318.8L755.9 300.2L757.4 317.2L759.0 302.4L760.4 320.7L761.8 299.9L763.3 321.2L764.7 302.6L766.2 316.9L767.7 307.8L769.2 317.3L770.7 309.1L772.2 319.0L773.6 311.2L775.0 318.3L776.4 313.7L777.7 319.9L779.0 315.0L780.6 323.2L782.1 315.6L783.5 324.5L784.9 318.8L786.3 325.3L787.7 318.0L789.2 326.8L790.8 320.3L792.3 326.8L793.8 321.3L795.3 325.6L797.0 320.6L798.6 325.2L800.3 319.3L801.9 325.3L803.6 319.1L805.3 323.2L806.9 318.6L808.5 323.0L809.9 319.1L811.2 323.8L812.6 319.8L813.9 324.5L815.2 320.5L816.5 326.5L817.8 322.1L819.2 328.6L820.5 324.3L821.9 329.7L823.3 325.5L824.7 330.3L826.2 327.2L827.6 331.4L829.1 328.0L830.7 332.6L832.2 329.4L833.8 332.2L835.3 330.1L836.9 332.5L838.6 330.4L840.2 332.0L841.8 331.2L843.4 332.3L845.0 331.8L846.6 332.8L848.2 332.2L849.8 333.4L851.3 332.7L852.7 333.8L854.1 333.5L855.5 334.7L856.9 333.9L858.2 335.4L859.6 334.8L861.0 336.2L862.4 335.7L863.8 336.7L865.3 336.3L866.8 337.6L868.4 337.3L870.0 338.4L871.6 337.8L873.4 339.2L874.6 338.7L875.8 339.7L877.1 339.3L878.4 340.5L879.7 339.8L881.1 341.1L882.5 340.6L883.9 341.5L885.3 341.2L886.8 342.2L888.3 341.8L889.8 342.8L891.3 342.4L892.8 343.5L894.4 343.2L895.9 344.1L897.5 343.5L899.1 344.8L900.7 344.4L902.3 345.5L903.9 345.0L905.5 346.1L907.1 345.7L908.7 346.7L910.3 346.3L911.9 347.6L913.5 346.9L915.1 348.2L916.7 347.6L918.2 348.5L919.8 348.1L921.3 349.2L922.9 348.6L924.4 349.7L925.9 349.1L927.3 350.3L928.8 349.4L930.4 350.6L931.9 350.0L933.5 351.2L935.1 350.5L936.6 351.3L938.2 350.7L939.7 351.5L941.2 350.8L942.8 352.0L944.3 351.2L945.8 352.0L947.4 351.5L948.9 352.2L950.4 351.7L951.9 352.5L953.4 351.7L954.9 352.6L956.4 352.1L957.9 353.0L959.5 352.3L961.0 353.0L962.5 352.5L964.0 353.4L965.5 352.8L967.0 353.7L968.5 353.1L970.0 354.2L971.5 353.5L973.0 354.7L974.5 353.9L976.0 355.2L977.5 354.6L979.0 355.8L980.5 355.2L981.9 356.6L983.4 355.9L984.9 357.5L986.4 356.9L987.8 358.3L989.3 357.8L990.8 359.3L992.3 359.1L993.7 360.2L995.2 360.1L996.7 361.3L998.1 361.0L999.6 362.4L1001.1 362.3L1002.5 363.6L1004.0 363.2L1005.5 364.4L1006.9 364.3L1008.4 365.4L1009.9 365.2L1011.4 366.6L1012.8 365.9L1014.3 367.4L1015.8 367.0L1017.3 368.1L1018.7 367.7L1020.2 368.7L1021.7 368.4L1023.2 369.4L1024.7 368.6L1026.2 369.8L1027.7 369.2L1029.2 370.1L1030.7 369.4L1032.3 370.3L1033.8 369.5L1035.3 370.5L1036.8 369.5L1038.3 370.3L1039.8 369.7L1041.4 370.6L1042.9 369.6L1044.4 370.4L1045.9 369.5L1047.5 370.4L1049.0 369.3L1050.5 370.3L1052.0 369.2L1053.6 370.2L1055.1 369.4L1056.6 370.2L1058.1 369.3L1059.7 370.0L1061.2 369.1L1062.7 370.0L1064.2 369.3L1065.7 370.2L1067.3 369.3L1068.8 370.3L1070.3 369.7L1071.8 370.5L1073.4 369.9L1074.9 370.8L1076.4 370.1L1077.9 371.2L1079.5 370.5L1081.0 371.4L1082.6 370.8L1084.1 371.9L1085.6 371.0L1087.2 372.3L1088.7 371.4L1090.2 372.5L1091.8 372.0L1093.3 373.0L1094.8 372.3L1096.4 373.2L1097.9 372.8L1099.4 373.7L1100.9 373.1L1102.5 374.4L1104.0 373.7L1105.5 374.8L1107.0 374.1L1108.5 375.2L1110.0 374.3L1111.5 375.6L1113.0 374.8L1114.5 376.0L1116.0 375.5L1117.5 376.4L1119.1 375.8L1120.6 376.8L1122.2 376.2L1123.8 377.2L1125.4 376.7L1127.0 377.5L1128.6 376.9L1130.3 377.9L1131.9 377.1L1133.5 378.2L1135.1 377.4L1136.7 378.7L1138.3 377.7L1139.8 379.0L1141.4 378.2L1143.0 379.4L1144.5 378.6L1146.0 379.8L1147.5 379.2L1149.0 380.4L1150.5 379.8L1151.9 380.9L1153.3 380.6L1154.7 381.5L1156.1 381.2L1157.4 382.5L1158.7 382.0L1160.0 383.5L1161.5 383.3L1162.9 384.9L1164.4 384.7L1165.7 386.3L1167.1 386.3L1168.4 387.9L1169.7 387.7L1171.0 389.7L1172.2 389.4L1173.4 391.4L1174.6 391.3L1175.8 393.3L1176.9 393.3L1178.1 395.1L1179.2 395.2L1180.3 397.2L1181.4 397.3L1182.5 399.2L1183.6 399.2L1184.8 401.1L1185.9 401.5L1187.1 403.2L1188.2 403.6L1189.3 405.5L1190.4 405.6L1191.4 407.8L1192.5 407.9L1193.5 410.0L1194.5 410.4L1195.5 412.4L1196.4 412.7L1197.3 414.9L1198.2 415.3L1199.1 417.6L1200.0 418.1L1200.7 420.0L1201.5 420.5L1202.2 422.7L1202.9 422.9L1203.5 425.2L1204.2 425.7L1204.8 428.1L1205.4 428.6L1206.0 430.7L1206.6 431.4L1207.1 433.8L1207.7 434.2L1208.2 436.7L1208.8 437.3L1209.3 439.6L1209.8 440.2L1210.3 442.7L1210.9 443.3L1211.4 445.5L1211.9 446.2L1212.4 448.7L1212.8 449.2L1213.3 451.2L1213.7 452.0L1214.1 454.2L1214.6 454.7L1215.0 457.0L1215.4 457.8L1215.8 460.1L1216.2 460.6L1216.6 463.1L1217.0 463.6L1217.4 465.9L1217.7 466.7L1218.1 469.2L1218.5 469.5L1218.8 472.0L1219.2 472.6L1219.6 475.1L1219.9 475.6L1220.3 478.0L1220.7 478.6L1221.0 481.2L1221.4 481.7L1221.8 483.9L1222.1 484.7L1222.5 486.9L1222.8 487.8L1223.2 490.0L1223.5 490.7L1223.8 493.1L1224.2 493.8L1224.5 496.4L1224.8 496.9L1225.2 499.5L1225.5 500.0L1225.8 502.6L1226.1 503.0L1226.5 505.5L1226.8 505.9L1227.1 508.3L1227.4 509.1L1227.8 511.2L1228.1 511.9L1228.4 514.0L1228.7 514.5L1229.1 516.7L1229.4 517.0L1229.8 519.5L1230.3 520.7L1230.7 523.5L1231.1 524.5L1231.5 527.1L1231.9 528.2L1232.3 530.8L1232.7 531.5L1233.2 533.8L1233.7 534.0L1234.2 536.1L1234.7 535.8L1235.3 536.9L1236.1 535.7L1236.9 535.9L1237.7 534.1L1238.6 533.4L1239.5 531.0L1240.5 530.1L1241.5 527.2L1242.5 526.5L1243.6 524.2L1244.5 523.9L1245.3 521.7L1246.2 521.5L1247.1 519.2L1248.1 518.7L1249.0 516.6L1250.0 516.2L1251.0 513.9L1252.0 513.4L1253.1 511.5L1254.2 511.2L1255.4 509.3L1256.6 509.2L1257.8 507.7L1259.1 507.8L1260.5 506.6L1261.9 507.3L1263.5 506.1L1265.0 506.8L1266.6 505.8L1268.2 506.6L1269.8 505.9L1271.4 506.7L1273.0 505.8L1274.6 506.4L1276.1 505.2L1277.6 505.5L1279.0 504.2L1280.2 504.4L1281.4 502.8L1282.5 502.7L1283.6 501.0L1284.7 500.7L1285.8 498.6L1286.8 498.5L1287.8 496.5L1288.9 496.1L1289.9 494.2L1290.9 494.0L1292.0 491.7L1293.1 491.5L1294.2 489.6L1295.4 489.3L1296.6 487.3L1297.9 487.3L1299.1 485.6L1300.3 485.9L1301.5 484.0L1302.8 484.2L1304.1 482.7L1305.5 482.5L1306.8 481.0L1308.2 481.2L1309.6 479.5L1311.0 479.9L1312.4 478.1L1313.8 478.4L1315.2 476.8L1316.6 477.3L1318.0 475.6L1319.4 475.8L1320.8 474.4L1322.2 474.7L1323.5 473.2L1324.9 473.8L1326.2 472.4L1327.7 472.5L1329.2 471.2L1330.7 471.4L1332.2 470.1L1333.7 470.5L1335.1 469.2L1336.6 469.4L1338.1 468.2L1339.5 468.5L1341.0 467.4L1342.4 468.0L1343.9 466.4L1345.4 467.0L1346.8 466.0L1348.3 466.5L1349.8 465.0L1351.4 465.7L1352.9 464.6L1354.4 464.9L1355.9 463.7L1357.5 464.6L1359.0 463.4L1360.5 463.8L1362.0 462.8L1363.6 463.3L1365.2 462.3L1366.7 463.0L1368.4 461.9L1370.0 462.6L1371.7 461.7L1373.4 462.7L1374.8 461.6L1376.2 462.3L1377.7 461.7L1379.1 462.5L1380.6 461.7L1382.1 462.5L1383.6 461.7L1385.2 462.7L1386.7 461.7L1388.3 462.8L1389.9 462.1L1391.4 463.0L1393.0 462.3L1394.6 463.4L1396.2 462.7L1397.8 463.6L1399.4 462.9L1401.0 463.8L1402.6 463.2L1404.1 464.3L1405.7 463.6L1407.3 464.7L1408.8 463.9L1410.3 464.9L1411.9 464.3L1413.4 465.3L1415.0 464.8L1416.5 465.8L1418.1 465.4L1419.6 466.3L1421.1 465.7L1422.7 466.9L1424.2 466.1L1425.8 467.3L1427.3 466.7L1428.8 468.0L1430.4 467.2L1431.9 468.6L1433.4 467.7L1435.0 469.0L1436.5 468.5L1438.1 469.7L1439.6 469.2L1441.1 470.1L1442.7 469.5L1444.2 470.7L1445.7 470.2L1447.2 471.4L1448.7 470.7L1450.2 471.8L1451.8 471.1L1453.3 472.2L1454.9 471.7L1456.4 472.8L1458.0 472.1L1459.5 473.2L1461.0 472.7L1462.6 473.7L1464.1 473.4L1465.6 474.3L1467.1 473.9L1468.6 475.1L1470.1 474.5L1471.5 475.5L1472.9 475.0L1474.3 476.4L1475.7 475.8L1477.0 477.1L1478.3 476.5L1479.6 477.8L1481.2 477.5L1482.7 478.9L1484.1 478.8L1485.5 480.4L1486.9 480.1L1488.2 481.8L1489.6 481.6L1490.9 482.9L1492.1 483.0L1493.4 484.5L1494.7 484.3L1496.0 485.7L1497.3 485.9L1498.6 487.4L1500.0 487.1L1501.4 488.7L1502.8 488.6L1504.1 490.0L1505.5 489.9L1506.9 491.4L1508.3 491.1L1509.7 492.7L1511.1 492.6L1512.5 494.2L1513.9 493.9L1515.3 495.1L1516.7 494.9L1518.0 496.3L1519.4 496.2L1520.7 497.4L1522.2 497.0L1523.8 498.5L1525.3 497.9L1526.8 499.0L1528.3 498.6L1529.8 499.9L1531.3 499.4L1532.7 500.5L1534.2 500.0L1535.7 501.1L1537.2 500.8L1538.7 502.1L1540.2 501.6L1541.7 503.1L1543.2 502.6L1544.7 503.9L1546.2 503.7L1547.7 504.9L1549.2 504.4L1550.7 505.8L1552.2 505.5L1553.7 506.5L1555.2 506.0L1556.7 506.9L1558.2 506.1L1559.8 507.0L1561.3 506.2L1562.9 506.9L1564.4 506.1L1565.9 507.1L1567.4 506.2L1568.8 507.2L1570.2 506.3L1571.9 507.5L1573.5 507.1L1575.1 508.2L1576.7 507.7L1578.3 509.1L1579.8 508.6L1581.2 510.1L1582.6 509.8L1584.0 511.5L1585.3 511.2L1586.5 513.0L1587.7 513.3L1588.9 514.9L1589.9 515.3L1590.9 517.4L1591.8 517.7L1592.6 519.8L1593.4 520.1L1594.0 522.6L1594.7 523.2L1595.2 525.6L1595.8 526.3L1596.2 528.3L1596.5 528.9L1596.9 531.3L1597.1 531.7L1597.4 533.9L1597.6 534.6L1597.9 537.1L1598.1 537.9L1598.3 540.5L1598.5 541.3L1598.7 543.7L1599.0 544.6L1599.2 546.6L1599.4 547.4L1599.6 549.6L1599.8 550.1L1600.0 552.5L1600.1 553.4L1600.3 554.9L1600.5 556.4L1600.7 557.9L1600.9 559.4L1601.1 560.9L1601.3 562.5L1601.5 564.0L1601.7 565.6L1601.9 567.2L1602.1 568.7L1602.3 570.3L1602.5 571.9L1602.8 573.4L1603.0 575.0L1603.2 576.5L1603.5 577.9L1603.7 579.4L1604.0 580.8L1604.3 582.2L1604.6 583.6L1604.8 585.1L1605.1 586.5L1605.4 587.9L1605.7 589.4L1606.0 590.8L1606.3 592.3L1606.6 593.8L1606.9 595.3L1607.2 596.8L1607.5 598.4L1607.8 599.9L1608.1 601.6L1608.4 603.2L1608.7 604.9L1609.0 606.6L1609.2 608.4L1609.5 610.2L1609.7 611.4L1609.8 612.7L1610.0 613.9L1610.2 615.2L1610.3 616.5L1610.5 617.8L1610.7 619.2L1610.8 620.5L1611.0 621.9L1611.1 623.3L1611.3 624.7L1611.4 626.1L1611.6 627.5L1611.8 629.0L1611.9 630.5L1612.1 631.9L1612.2 633.4L1612.4 634.9L1612.5 636.5L1612.7 638.0L1612.8 639.5L1613.0 641.1L1613.1 642.6L1613.2 644.2L1613.4 645.7L1613.5 647.3L1613.7 648.9L1613.8 650.5L1614.0 652.1L1614.1 653.7L1614.3 655.3L1614.4 656.9L1614.5 658.4L1614.7 660.1L1614.8 661.7L1615.0 663.3L1615.1 664.9L1615.3 666.5L1615.4 668.0L1615.5 669.6L1615.7 671.2L1615.8 672.8L1616.0 674.4L1616.1 676.0L1616.3 677.5L1616.4 679.1L1616.6 680.7L1616.7 682.2L1616.9 683.7L1617.0 685.3L1617.2 686.8L1617.3 688.3L1617.5 689.8L1617.6 691.3L1617.8 692.8L1617.9 694.3L1618.1 695.8L1618.2 697.4L1618.4 698.9L1618.5 700.4L1618.7 701.9L1618.8 703.4L1619.0 704.9L1619.1 706.5L1619.3 708.0L1619.5 709.5L1619.6 711.0L1619.8 712.6L1619.9 714.1L1620.1 715.6L1620.2 717.1L1620.4 718.7L1620.6 720.2L1620.7 721.7L1620.9 723.2L1621.0 724.7L1621.2 726.3L1621.3 727.8L1621.5 729.3L1621.6 730.8L1621.8 732.3L1622.0 733.9L1622.1 735.4L1622.3 736.9L1622.4 738.4L1622.6 739.9L1622.7 741.4L1622.9 742.9L1623.0 744.4L1623.2 745.9L1623.3 747.4L1623.4 748.9L1623.6 750.3L1623.7 751.8L1623.9 753.3L1624.0 754.8L1624.2 756.2L1624.3 757.7L1624.4 759.2L1624.6 760.6L1624.7 762.1L1624.8 763.5L1625.0 765.0L1625.1 766.4L1625.2 768.0L1625.4 769.6L1625.5 771.2L1625.7 772.8L1625.8 774.5L1625.9 776.1L1626.0 777.8L1626.2 779.4L1626.3 781.1L1626.4 782.8L1626.6 784.4L1626.7 786.1L1626.8 787.8L1626.9 789.5L1627.0 791.1L1627.2 792.8L1627.3 794.4L1627.4 796.1L1627.5 797.7L1627.6 799.4L1627.7 801.0L1627.9 802.6L1628.0 804.2L1628.1 805.8L1628.2 807.4L1628.3 808.9L1628.4 810.5L1628.5 812.0L1628.7 813.5L1628.8 814.9L1628.9 816.4L1629.0 817.8L1629.1 819.2L1629.2 820.6L1629.3 821.9L1629.5 823.2L1629.6 824.5L1629.7 825.8L1629.8 827.0L1629.9 828.2L1630.1 829.3L1630.2 830.4L1630.3 831.5L1630.5 833.6L1630.7 835.7L1630.9 837.8L1631.2 839.9L1631.4 841.9L1631.6 843.7L1631.8 845.5L1632.0 847.0L1632.3 848.2L1632.5 849.2L1632.9 849.8L1633.2 850.0L1633.5 849.9L1633.9 849.4L1634.2 848.7L1634.6 847.7L1635.0 846.5L1635.5 845.1L1635.9 843.5L1636.4 841.8L1636.9 840.0L1637.3 838.1L1637.8 836.1L1638.3 834.1L1638.7 832.1L1639.2 830.1L1639.6 828.2L1640.0 826.3L1640.4 824.6L1640.8 823.0L1641.1 821.5L1641.5 820.0L1641.8 818.5L1642.1 817.0L1642.4 815.5L1642.7 813.9L1643.0 812.4L1643.2 810.8L1643.5 809.3L1643.8 807.8L1644.1 806.2L1644.3 804.7L1644.6 803.2L1644.9 801.7L1645.2 800.3L1645.5 798.8L1645.8 797.4L1646.1 796.0L1646.4 794.7L1646.8 793.1L1647.2 791.6L1647.6 790.1L1648.0 788.7L1648.4 787.3L1648.8 785.9L1649.2 784.5L1649.6 783.1L1650.1 781.7L1650.6 780.3L1651.0 778.9L1651.6 777.4L1652.1 775.8L1652.6 774.5L1653.0 773.2L1653.5 771.8L1654.0 770.5L1654.6 769.1L1655.1 767.7L1655.6 766.3L1656.2 764.8L1656.8 763.4L1657.3 762.0L1657.9 760.5L1658.5 759.1L1659.1 757.6L1659.7 756.1L1660.3 754.7L1661.0 753.2L1661.6 751.8L1662.2 750.3L1662.8 748.9L1663.4 747.5L1664.0 746.1L1664.7 744.6L1665.3 743.2L1665.9 741.8L1666.6 740.3L1667.3 738.9L1667.9 737.4L1668.6 736.0L1669.3 734.6L1669.9 733.1L1670.6 731.7L1671.3 730.3L1672.0 728.8L1672.6 727.4L1673.3 726.0L1674.0 724.6L1674.6 723.3L1675.3 721.9L1676.0 720.5L1676.6 719.2L1677.3 717.7L1678.1 716.3L1678.8 714.8L1679.5 713.4L1680.3 712.0L1681.0 710.7L1681.7 709.3L1682.4 707.9L1683.2 706.6L1683.9 705.2L1684.6 703.8L1685.3 702.4L1685.9 701.0L1686.6 699.6L1687.3 698.1L1687.9 696.6L1688.5 695.2L1689.0 693.8L1689.6 692.3L1690.1 685.3L1690.6 687.8L1691.2 682.3L1691.7 686.2L1692.2 678.3L1692.7 683.3L1693.1 676.0L1693.6 678.9L1694.1 673.3L1694.6 676.3L1695.1 671.3L1695.5 674.2L1696.0 668.0L1696.5 670.6L1696.9 664.9L1697.4 669.4L1697.9 661.1L1698.4 665.5L1699.0 659.7L1699.5 663.1L1700.0 656.8L1700.5 659.7L1701.0 653.9L1701.5 657.7L1702.0 650.2L1702.4 653.8L1702.9 647.8L1703.4 651.1L1703.9 643.5L1704.4 648.2L1704.9 642.6L1705.4 646.1L1705.8 639.0L1706.3 643.6L1706.7 637.3L1707.2 642.3L1707.6 635.7L1708.1 639.8L1708.6 633.0L1709.0 636.3L1709.5 631.6L1709.9 635.5L1710.4 628.5L1710.8 632.3L1711.2 625.2L1711.7 629.7L1712.1 623.1L1712.5 626.3L1712.9 619.6L1713.4 623.0L1713.7 616.9L1714.1 620.9L1714.5 613.6L1714.8 616.6L1715.2 611.3L1715.6 614.7L1716.0 607.3L1716.5 610.6L1716.9 603.9L1717.5 607.7L1718.1 602.5L1718.8 604.2L1719.5 598.2L1720.3 601.5L1721.1 593.5L1722.0 596.7L1722.9 590.0L1723.8 592.7L1724.7 586.3L1725.7 590.1L1726.6 585.2L1727.5 588.5L1728.5 583.4L1729.4 587.6L1730.4 582.2L1731.4 586.9L1732.4 580.9L1733.5 584.4L1734.5 577.1L1735.6 580.9L1736.6 572.4L1737.7 575.9L1738.7 569.6L1739.8 574.1L1740.8 568.4L1741.8 571.9L1742.8 566.5L1743.8 571.5L1744.7 565.5L1745.7 569.4L1746.7 562.1L1747.7 566.3L1748.7 560.0L1749.8 563.2L1750.9 555.9L1752.1 559.6L1753.3 552.1L1754.5 556.4L1755.7 549.8L1757.0 555.0L1758.3 549.0L1759.6 553.3L1761.0 548.1L1762.4 554.3L1763.8 549.4L1765.3 556.1L1766.8 551.9L1768.3 554.8L1769.6 549.1L1770.9 552.2L1772.3 544.3L1773.7 548.8L1775.1 543.1L1776.6 546.6L1778.0 540.9L1779.5 544.5L1781.0 540.1L1782.5 546.1L1784.0 540.2L1785.5 546.1L1787.0 541.7L1788.5 548.0L1790.0 542.2L1791.5 546.7L1792.9 541.4L1794.3 545.1L1796.0 540.4L1797.6 543.6L1799.3 536.8L1800.9 541.3L1802.6 535.5L1804.2 541.8L1805.9 538.6L1807.5 545.1L1809.1 541.2L1810.6 545.7L1812.1 539.6L1813.6 544.7L1815.1 539.1L1816.6 543.8L1818.0 540.7L1819.4 546.8L1820.8 542.6L1822.2 547.0L1823.6 544.2L1824.9 549.0L1826.2 544.3L1827.4 548.7L1828.6 544.2L1829.7 550.1L1830.8 546.1L1831.7 553.0L1832.6 550.7L1833.4 557.2L1834.2 553.0L1834.9 560.7L1835.6 556.6L1836.3 564.5L1836.9 560.8L1837.6 568.3L1838.2 563.6L1838.8 569.3L1839.4 565.8L1840.0 574.0L1840.6 570.0L1841.2 575.1L1841.7 572.3L1842.1 577.5L1842.5 574.7L1842.9 580.1L1843.3 577.7L1843.7 582.6L1844.1 580.1L1844.4 586.3L1844.8 582.8L1845.1 589.8L1845.4 587.3L1845.8 594.3L1846.1 589.3L1846.5 597.2L1846.8 594.1L1847.2 600.1L1847.5 597.1L1847.9 603.6L1848.3 601.3L1848.7 607.0L1849.1 603.2L1849.6 610.8L1850.1 606.3L1850.5 614.0L1851.1 609.5L1851.6 617.1L1852.2 612.0L1852.9 619.8L1853.7 615.6L1854.4 622.1L1855.2 617.7L1856.0 625.1L1856.8 620.1L1857.6 626.7L1858.5 623.2L1859.3 628.0L1860.2 624.4L1861.0 630.1L1861.9 624.8L1862.7 630.5L1863.5 626.6L1864.3 633.1L1865.1 628.4L1865.8 633.8L1866.5 630.6L1867.2 637.0L1867.9 634.4L1868.5 639.8L1869.1 637.6L1869.7 642.6L1870.3 639.8L1870.8 645.5L1871.3 643.7L1871.8 649.4L1872.3 644.8L1872.8 652.8L1873.3 648.8L1873.9 655.7L1874.4 651.9L1875.0 656.8L1875.6 654.6L1876.2 659.1L1876.9 655.9L1877.6 662.9L1878.4 658.5L1879.2 665.3L1880.0 661.0L1880.9 668.0L1881.8 663.2L1882.7 669.7L1883.6 666.4L1884.6 671.9L1885.5 668.3L1886.5 675.0L1887.5 670.9L1888.4 676.2L1889.4 672.0L1890.4 677.9L1891.3 674.7L1892.3 680.5L1893.2 676.8L1894.1 683.9L1895.0 680.9L1895.9 687.1L1896.8 683.2L1897.7 689.2L1898.6 685.2L1899.5 693.0L1900.4 689.2L1901.3 695.8L1902.2 692.7L1903.1 698.6L1904.1 695.8L1905.0 701.9L1905.9 697.3L1906.9 705.0L1907.9 701.2L1908.9 706.0L1909.9 701.5L1910.9 707.0L1911.9 703.4L1912.9 708.1L1914.0 704.3L1915.0 710.8L1916.1 708.6L1917.2 715.8L1918.3 714.0L1919.4 720.2L1920.5 718.6L1921.6 725.6L1922.7 720.9L1923.8 725.5L1924.8 722.2L1925.8 728.3L1926.9 723.5L1927.8 727.7L1928.8 723.8L1929.7 728.8L1931.1 723.4L1932.4 727.1L1933.6 721.2L1934.8 725.5L1936.1 719.8L1937.3 724.5L1938.7 718.2L1940.1 722.6L1941.0 718.7L1941.9 722.5L1942.8 717.1L1943.8 721.0L1944.8 713.9L1945.8 717.3L1946.8 711.0L1947.9 715.3L1948.9 707.9L1950.0 711.6L1951.1 705.0L1952.2 709.2L1953.3 702.7L1954.4 706.0L1955.5 700.4L1956.7 703.6L1957.8 697.0L1958.9 701.5L1960.1 696.2L1961.2 700.3L1962.4 694.1L1963.5 698.0L1964.7 693.0L1965.9 697.7L1967.1 692.3L1968.3 695.0L1969.5 689.4L1970.7 694.3L1971.9 687.3L1973.2 688.8L1974.4 682.4L1975.7 685.3L1976.9 678.5L1978.2 683.2L1979.4 679.5L1980.7 684.3L1982.0 680.8L1983.2 686.5L1984.5 680.6L1985.8 684.3L1987.1 676.0L1988.3 680.1L1989.6 672.4L1991.2 675.8L1992.7 672.4L1994.4 678.2L1996.0 674.5L1997.6 680.4L1999.3 675.8L2000.9 681.6L2002.6 676.6L2004.2 683.5L2005.8 676.4L2007.3 681.0L2008.8 674.5L2010.3 680.4L2011.7 674.4L2013.0 680.5L2014.2 676.3L2015.3 683.6L2016.3 680.9L2017.4 686.8L2018.4 684.5L2019.3 691.8L2020.2 686.9L2021.1 692.2L2022.0 688.3L2022.9 694.4L2023.7 690.2L2024.5 696.4L2025.3 692.9L2026.2 697.8L2027.0 694.6L2027.8 702.2L2028.6 698.8L2029.4 704.8L2030.1 701.1L2030.9 707.8L2031.6 703.4L2032.3 711.2L2033.0 707.4L2033.7 712.7L2034.4 708.6L2035.1 714.1L2035.8 709.8L2036.4 715.8L2037.1 712.5L2037.8 718.1L2038.4 714.4L2039.0 719.7L2039.7 717.1L2040.3 723.8L2041.0 718.8L2041.6 725.4L2042.1 722.3L2042.6 727.7L2043.2 725.6L2043.7 730.8L2044.2 726.7L2044.7 733.8L2045.1 731.0L2045.6 736.2L2046.1 734.1L2046.6 740.9L2047.0 735.9L2047.5 743.7L2048.0 738.8L2048.5 746.6L2048.9 743.0L2049.4 748.5L2049.9 746.1L2050.3 751.5L2050.8 749.4L2051.3 755.9L2051.7 752.0L2052.2 757.7L2052.7 755.5L2053.2 762.4L2053.7 757.6L2054.2 765.5L2054.7 761.5L2055.2 769.6L2055.7 765.5L2056.2 772.3L2056.7 769.2L2057.2 775.8L2057.7 774.0L2058.2 779.6L2058.7 777.0L2059.2 783.2L2059.7 781.6L2060.2 787.3L2060.8 784.9L2061.3 792.1L2061.8 787.2L2062.3 793.9L2062.8 788.7L2063.4 795.4L2063.9 791.6L2064.4 797.1L2064.9 793.6L2065.4 799.6L2065.9 794.5L2066.4 801.8L2066.9 797.6L2067.4 802.5L2067.9 800.0L2068.4 805.9L2068.9 802.8L2069.4 808.0L2069.8 805.9L2070.3 811.7L2070.9 809.6L2071.4 816.3L2071.9 812.6L2072.5 819.3L2073.0 816.0L2073.5 822.7L2074.0 819.1L2074.5 826.0L2075.0 823.2L2075.5 830.4L2076.0 825.9L2076.5 832.9L2077.0 828.6L2077.5 836.1L2078.0 831.9L2078.5 838.1L2079.1 835.9L2079.6 841.9L2080.1 838.3L2080.7 844.2L2081.2 841.0L2081.8 847.7L2082.4 844.5L2082.9 851.0L2083.5 846.7L2084.1 853.4L2084.6 850.1L2085.2 856.9L2085.8 852.8L2086.4 859.3L2087.0 856.4L2087.6 862.5L2088.2 858.7L2088.8 865.7L2089.4 862.2L2090.0 867.5L2090.6 863.4L2091.2 869.0L2091.9 866.2L2092.5 872.3L2093.1 868.3L2093.7 873.4L2094.4 869.7L2095.1 874.4L2095.8 871.6L2096.6 876.9L2097.3 874.1L2098.1 881.2L2098.9 877.6L2099.7 883.0L2100.4 879.3L2101.2 886.4L2102.0 883.4L2102.7 888.4L2103.4 885.7L2104.0 892.5L2104.7 888.3L2105.2 894.2L2105.8 891.0L2106.3 897.3L2106.7 894.3L2107.2 900.8L2107.6 896.7L2107.9 903.8L2108.2 900.3L2108.4 907.5L2108.5 902.6L2108.7 910.3L2108.9 907.4L2109.1 913.2L2109.3 909.4" fill="none" stroke="#a0a0a0" stroke-width="8.6" stroke-linejoin="round" stroke-linecap="butt" shape-rendering="crispEdges"/>
<path d="M263.8 1420.6L264.7 1419.3L265.7 1418.1L266.6 1416.8L267.5 1415.6L268.4 1414.2L269.3 1412.6L269.9 1411.4L270.4 1410.0L270.9 1408.6L271.4 1407.0L271.9 1405.5L272.4 1403.9L272.8 1402.3L273.3 1400.7L273.9 1399.1L274.4 1397.6L275.0 1396.3L275.7 1395.0L276.6 1393.5L277.5 1391.9L278.4 1390.3L279.4 1388.8L280.4 1387.5L281.5 1386.4L282.6 1385.7L283.7 1385.5L284.5 1385.7L285.4 1386.2L286.3 1387.0L287.2 1388.0L288.1 1389.2L289.1 1390.6L290.0 1392.1L291.0 1393.7L292.0 1395.2L293.0 1396.8L294.0 1398.3L295.0 1399.8L296.0 1401.0L297.0 1402.1L298.0 1403.0L299.4 1404.0L300.7 1404.9L302.1 1405.7L303.5 1406.4L304.9 1407.0L306.3 1407.4L307.8 1407.7L309.2 1407.8L310.6 1407.8L312.0 1407.6L313.5 1407.3L315.0 1406.8L316.5 1406.2L317.9 1405.6L319.3 1404.8L320.7 1403.9L321.9 1403.0L322.9 1402.1L323.9 1401.1L324.7 1400.0L325.6 1398.8L326.4 1397.5L327.2 1396.2L327.9 1394.8L328.7 1393.3L329.4 1391.8L330.1 1390.3L330.8 1388.7L331.5 1387.1L332.0 1385.9L332.5 1384.7L333.0 1383.4L333.5 1382.1L334.0 1380.8L334.4 1379.4L334.9 1378.0L335.3 1376.6L335.8 1375.1L336.2 1373.6L336.6 1372.2L337.0 1370.7L337.5 1369.1L337.9 1367.6L338.3 1366.1L338.7 1364.5L339.1 1363.0L339.5 1361.4L339.8 1359.8L340.2 1358.3L340.6 1356.7L341.0 1355.2L341.3 1353.8L341.7 1352.4L342.0 1351.0L342.3 1349.6L342.7 1348.1L343.0 1346.7L343.3 1345.2L343.6 1343.8L343.9 1342.3L344.2 1340.8L344.5 1339.3L344.8 1337.8L345.1 1336.4L345.4 1334.9L345.7 1333.4L346.0 1331.9L346.3 1330.4L346.5 1328.9L346.8 1327.4L347.1 1325.8L347.4 1324.3L347.7 1322.8L347.9 1321.3L348.2 1319.9L348.5 1318.4L348.7 1316.9L349.0 1315.4L349.3 1313.9L349.5 1312.4L349.8 1310.8L350.1 1309.3L350.3 1307.8L350.6 1306.3L350.9 1304.8L351.1 1303.3L351.4 1301.8L351.6 1300.3L351.8 1298.8L352.1 1297.3L352.3 1295.7L352.6 1294.2L352.8 1292.7L353.1 1291.2L353.3 1289.7L353.5 1288.1L353.8 1286.6L354.0 1285.0L354.2 1283.5L354.5 1281.9L354.7 1280.4L354.9 1278.8L355.2 1277.2L355.4 1275.6L355.6 1274.2L355.8 1272.7L356.0 1271.3L356.2 1269.8L356.4 1268.4L356.6 1266.9L356.8 1265.4L357.0 1264.0L357.2 1262.5L357.4 1261.0L357.6 1259.5L357.8 1258.0L358.0 1256.5L358.2 1255.0L358.4 1253.5L358.6 1252.0L358.8 1250.5L359.0 1249.0L359.2 1247.4L359.4 1245.9L359.6 1244.4L359.7 1242.9L359.9 1241.4L360.1 1239.9L360.3 1238.3L360.5 1236.8L360.7 1235.3L360.9 1233.8L361.1 1232.3L361.3 1230.8L361.5 1229.3L361.7 1227.8L361.9 1226.3L362.1 1224.8L362.3 1223.3L362.5 1221.8L362.7 1220.3L362.9 1218.8L363.1 1217.3L363.3 1215.8L363.5 1214.2L363.7 1212.7L363.9 1211.2L364.1 1209.7L364.3 1208.2L364.5 1206.7L364.7 1205.2L364.9 1203.6L365.1 1202.1L365.3 1200.6L365.6 1199.1L365.8 1197.6L366.0 1196.1L366.2 1194.6L366.4 1193.2L366.6 1191.7L366.7 1190.2L366.9 1188.7L367.1 1187.2L367.3 1185.8L367.5 1184.3L367.7 1182.9L367.9 1181.4L368.1 1180.0L368.3 1178.5L368.5 1176.9L368.7 1175.4L368.9 1173.9L369.1 1172.5L369.3 1171.0L369.5 1169.6L369.7 1168.1L369.9 1166.7L370.1 1165.3L370.3 1163.9L370.5 1162.4L370.6 1161.0L370.8 1159.6L371.0 1158.1L371.2 1156.7L371.4 1155.2L371.6 1153.8L371.8 1152.3L372.0 1150.8L372.2 1149.3L372.3 1147.7L372.5 1146.2L372.7 1144.6L372.9 1142.9L373.1 1141.3L373.3 1139.6L373.4 1138.3L373.6 1137.0L373.7 1135.6L373.9 1134.3L374.0 1132.9L374.2 1131.5L374.3 1130.1L374.5 1128.6L374.6 1127.2L374.8 1125.7L374.9 1124.3L375.1 1122.8L375.2 1121.3L375.3 1119.8L375.5 1118.2L375.6 1116.7L375.8 1115.2L375.9 1113.6L376.1 1112.1L376.2 1110.5L376.4 1109.0L376.5 1107.4L376.7 1105.8L376.8 1104.2L377.0 1102.7L377.1 1101.1L377.3 1099.5L377.4 1097.9L377.6 1096.3L377.7 1094.8L377.9 1093.2L378.0 1091.6L378.2 1090.0L378.3 1088.5L378.5 1086.9L378.6 1085.3L378.8 1083.8L378.9 1082.2L379.1 1080.7L379.2 1079.2L379.4 1077.7L379.5 1076.2L379.7 1074.7L379.8 1073.2L380.0 1071.7L380.1 1070.2L380.3 1068.8L380.5 1067.2L380.6 1065.6L380.8 1064.1L381.0 1062.5L381.2 1061.0L381.3 1059.4L381.5 1057.9L381.7 1056.3L381.8 1054.8L382.0 1053.3L382.2 1051.8L382.4 1050.2L382.5 1048.7L382.7 1047.2L382.9 1045.7L383.0 1044.2L383.2 1042.7L383.4 1041.2L383.6 1039.7L383.7 1038.2L383.9 1036.7L384.1 1035.2L384.3 1033.7L384.5 1032.2L384.6 1030.7L384.8 1029.3L385.0 1027.8L385.2 1026.3L385.4 1024.8L385.6 1023.3L385.8 1021.8L386.0 1020.3L386.2 1018.8L386.4 1017.3L386.6 1015.8L386.8 1014.3L387.0 1012.8L387.2 1011.3L387.4 1009.8L387.6 1008.3L387.8 1006.8L388.1 1005.2L388.3 1003.7L388.5 1002.2L388.8 1000.7L389.0 999.1L389.2 997.6L389.5 996.1L389.7 994.6L390.0 993.0L390.2 991.5L390.5 990.0L390.8 988.4L391.0 986.9L391.3 985.4L391.5 983.8L391.8 982.3L392.1 980.8L392.3 979.3L392.6 977.7L392.8 976.2L393.1 974.7L393.4 973.2L393.6 971.7L393.9 970.1L394.1 968.6L394.4 967.1L394.6 965.6L394.9 964.1L395.1 962.6L395.3 961.1L395.6 959.6L395.8 958.2L396.0 956.7L396.3 955.2L396.5 953.7L396.7 952.3L396.9 950.8L397.1 949.3L397.3 947.7L397.5 946.2L397.7 944.7L397.9 943.2L398.1 941.7L398.3 940.2L398.5 938.7L398.7 937.2L398.8 935.7L399.0 934.3L399.2 932.8L399.4 931.3L399.5 929.9L399.7 928.4L399.9 926.9L400.0 925.5L400.2 924.0L400.4 922.5L400.5 921.1L400.7 919.6L400.9 918.1L401.0 916.7L401.2 915.2L401.4 913.7L401.5 912.2L401.7 910.7L401.9 909.2L402.1 907.7L402.2 906.2L402.4 904.6L402.6 903.1L402.8 901.6L403.0 900.0L403.2 898.6L403.4 897.1L403.5 895.7L403.7 894.3L403.9 892.8L404.1 891.4L404.3 890.0L404.4 888.5L404.6 887.1L404.8 885.6L405.0 884.2L405.2 882.7L405.4 881.2L405.6 879.8L405.7 878.3L405.9 876.8L406.1 875.4L406.3 873.9L406.5 872.4L406.7 870.9L406.9 869.4L407.1 867.9L407.3 866.4L407.5 864.9L407.7 863.4L407.9 861.9L408.1 860.4L408.3 858.9L408.5 857.3L408.7 855.8L408.9 854.3L409.1 852.7L409.3 851.2L409.5 849.6L409.7 848.0L409.9 846.5L410.1 844.9L410.3 843.3L410.6 841.7L410.8 840.1L411.0 838.5L411.2 837.1L411.4 835.7L411.6 834.3L411.8 832.9L412.0 831.4L412.2 830.0L412.4 828.5L412.6 827.1L412.8 825.6L413.0 824.1L413.2 822.7L413.4 821.2L413.6 819.7L413.8 818.2L414.0 816.7L414.2 815.2L414.4 813.7L414.6 812.2L414.8 810.6L415.1 809.1L415.3 807.6L415.5 806.1L415.7 804.5L415.9 803.0L416.1 801.5L416.3 799.9L416.6 798.4L416.8 796.8L417.0 795.3L417.2 793.7L417.4 792.2L417.7 790.7L417.9 789.1L418.1 787.6L418.3 786.0L418.5 784.5L418.8 783.0L419.0 781.4L419.2 779.9L419.4 778.4L419.7 776.8L419.9 775.3L420.1 773.8L420.3 772.3L420.6 770.8L420.8 769.3L421.0 767.8L421.2 766.3L421.5 764.8L421.7 763.3L421.9 761.8L422.1 760.4L422.4 758.9L422.6 757.4L422.8 756.0L423.0 754.4L423.3 752.9L423.5 751.3L423.8 749.8L424.0 748.2L424.3 746.7L424.5 745.2L424.8 743.6L425.0 742.1L425.3 740.6L425.6 739.1L425.8 737.5L426.1 736.0L426.3 734.5L426.6 733.0L426.8 731.5L427.1 730.0L427.4 728.5L427.6 727.0L427.9 725.5L428.1 724.0L428.4 722.5L428.7 721.0L428.9 719.5L429.2 718.0L429.4 716.5L429.7 715.1L430.0 713.6L430.2 712.1L430.5 710.6L430.7 709.1L431.0 707.6L431.2 706.1L431.5 704.6L431.7 703.2L432.0 701.7L432.2 700.2L432.5 698.7L432.7 697.2L433.0 695.7L433.2 694.2L433.4 692.7L433.7 691.2L433.9 689.7L434.1 688.2L434.4 686.7L434.6 685.2L434.8 683.7L435.0 682.2L435.3 680.6L435.5 679.1L435.7 677.5L435.9 676.0L436.1 674.4L436.3 672.9L436.5 671.3L436.7 669.7L436.9 668.1L437.1 666.5L437.2 664.9L437.4 663.3L437.6 661.8L437.8 660.2L438.0 658.6L438.2 657.0L438.4 655.4L438.5 653.8L438.7 652.2L438.9 650.6L439.1 649.0L439.3 647.5L439.4 645.9L439.6 644.3L439.8 642.8L440.0 641.2L440.2 639.7L440.4 638.2L440.6 636.7L440.7 635.2L440.9 633.7L441.1 632.2L441.3 630.7L441.5 629.3L441.7 627.8L442.0 626.4L442.2 625.0L442.4 623.6L442.6 622.2L442.8 620.9L443.0 619.5L443.3 618.2L443.5 616.9L443.8 615.7L444.0 614.4L444.4 612.7L444.7 611.0L445.1 609.3L445.4 607.7L445.8 606.1L446.2 604.5L446.6 603.0L446.9 601.4L447.3 599.9L447.7 598.4L448.1 597.0L448.5 595.5L448.9 594.1L449.3 592.7L449.7 591.3L450.1 589.9L450.6 588.5L451.0 587.1L451.4 585.8L451.8 584.4L452.2 583.1L452.7 581.7L453.1 580.4L453.5 579.0L454.0 577.4L454.5 575.8L455.0 574.2L455.5 572.5L456.0 570.8L456.5 569.2L457.0 567.5L457.5 565.9L458.0 564.3L458.5 562.8L459.0 561.3L459.5 559.8L460.1 558.5L460.6 557.2L461.2 556.0L461.7 554.9L462.3 553.9L462.9 553.0L464.0 551.5L465.2 550.2L466.3 549.2L467.6 548.5L468.8 548.3L469.9 548.5L471.1 549.1L472.4 549.9L473.6 551.0L474.9 552.3L476.0 553.8L477.1 555.4L477.6 556.3L478.1 557.3L478.6 558.4L479.1 559.6L479.6 560.8L480.0 562.1L480.4 563.4L480.8 564.9L481.2 566.3L481.6 567.8L482.0 569.4L482.3 571.0L482.7 572.6L483.0 574.2L483.4 575.9L483.7 577.5L484.1 579.2L484.4 580.9L484.7 582.6L485.1 584.3L485.4 585.9L485.8 587.6L486.1 589.2L486.5 590.8L486.8 592.2L487.1 593.6L487.4 595.0L487.8 596.4L488.1 597.8L488.4 599.2L488.7 600.7L489.0 602.1L489.3 603.6L489.6 605.0L489.9 606.5L490.2 608.0L490.5 609.5L490.8 611.0L491.0 612.5L491.3 614.0L491.6 615.5L491.9 617.0L492.2 618.5L492.5 620.0L492.8 621.5L493.1 623.0L493.4 624.5L493.7 626.0L494.0 627.5L494.2 629.0L494.5 630.6L494.8 632.1L495.1 633.5L495.4 635.0L495.7 636.5L496.0 638.0L496.3 639.5L496.6 640.9L496.9 642.4L497.2 643.9L497.5 645.3L497.8 646.8L498.1 648.2L498.4 649.7L498.7 651.1L499.0 652.6L499.3 654.0L499.6 655.5L499.9 656.9L500.2 658.4L500.5 659.8L500.8 661.3L501.1 662.7L501.4 664.2L501.7 665.6L501.9 667.1L502.2 668.6L502.5 670.0L502.8 671.5L503.1 673.0L503.4 674.5L503.7 676.0L504.0 677.5L504.3 679.0L504.6 680.6L504.8 682.1L505.1 683.6L505.4 685.2L505.7 686.6L505.9 688.1L506.2 689.5L506.4 691.0L506.7 692.4L506.9 693.9L507.2 695.4L507.4 696.9L507.6 698.4L507.9 699.8L508.1 701.4L508.4 702.9L508.6 704.4L508.9 705.9L509.1 707.4L509.3 708.9L509.6 710.4L509.8 712.0L510.0 713.5L510.3 715.0L510.5 716.6L510.8 718.1L511.0 719.7L511.2 721.2L511.5 722.7L511.7 724.3L511.9 725.8L512.2 727.4L512.4 728.9L512.6 730.4L512.9 732.0L513.1 733.5L513.4 735.1L513.6 736.6L513.8 738.1L514.1 739.6L514.3 741.2L514.6 742.7L514.8 744.2L515.0 745.7L515.3 747.2L515.5 748.8L515.8 750.3L516.0 751.8L516.2 753.3L516.5 754.9L516.7 756.4L517.0 758.0L517.2 759.5L517.4 761.0L517.7 762.6L517.9 764.1L518.2 765.7L518.4 767.2L518.6 768.7L518.9 770.3L519.1 771.8L519.4 773.4L519.6 774.9L519.8 776.4L520.1 778.0L520.3 779.5L520.6 781.0L520.8 782.5L521.1 784.0L521.3 785.5L521.5 787.1L521.8 788.6L522.0 790.1L522.3 791.5L522.5 793.0L522.8 794.5L523.0 796.0L523.3 797.4L523.5 798.9L523.8 800.3L524.0 801.8L524.3 803.2L524.6 804.8L524.9 806.3L525.1 807.8L525.4 809.4L525.7 810.9L526.0 812.4L526.3 813.9L526.6 815.4L526.9 816.9L527.2 818.4L527.4 819.9L527.7 821.4L528.0 822.9L528.3 824.3L528.6 825.8L528.9 827.3L529.2 828.7L529.5 830.2L529.8 831.6L530.1 833.1L530.4 834.5L530.7 836.0L531.0 837.4L531.3 838.8L531.6 840.3L531.9 841.7L532.2 843.1L532.5 844.6L532.8 846.0L533.1 847.4L533.4 848.9L533.7 850.3L534.0 851.8L534.3 853.3L534.7 854.9L535.0 856.4L535.3 857.9L535.7 859.5L536.0 861.0L536.3 862.5L536.7 864.1L537.0 865.6L537.4 867.2L537.7 868.7L538.0 870.2L538.4 871.7L538.7 873.3L539.0 874.8L539.4 876.2L539.7 877.7L540.0 879.2L540.4 880.6L540.7 882.1L541.0 883.5L541.4 884.9L541.7 886.3L542.0 887.6L542.3 888.9L542.6 890.3L542.9 891.5L543.2 892.8L543.6 894.5L544.0 896.2L544.4 897.8L544.8 899.4L545.1 900.9L545.5 902.4L545.8 903.8L546.2 905.3L546.5 906.7L546.9 908.2L547.3 909.7L547.7 911.2L548.1 912.7L548.5 914.3L549.0 916.0L549.4 917.3L549.7 918.7L550.1 920.1L550.5 921.5L550.9 922.9L551.3 924.3L551.7 925.8L552.1 927.3L552.5 928.8L552.9 930.2L553.4 931.8L553.8 933.3L554.3 934.8L554.7 936.3L555.2 937.8L555.6 939.3L556.1 940.8L556.6 942.3L557.1 943.7L557.6 945.2L558.1 946.6L558.6 948.0L559.2 949.4L559.7 950.8L560.3 952.2L560.9 953.7L561.5 955.1L562.1 956.5L562.7 957.9L563.4 959.2L564.0 960.6L564.7 962.0L565.3 963.3L566.0 964.7L566.7 966.0L567.4 967.3L568.1 968.6L568.8 970.0L569.5 971.3L570.2 972.6L570.9 973.9L571.6 975.2L572.3 976.5L573.1 977.8L573.8 979.1L574.6 980.5L575.3 981.8L576.1 983.2L576.9 984.5L577.7 985.9L578.4 987.2L579.2 988.6L580.0 989.9L580.8 991.3L581.6 992.6L582.5 993.9L583.3 995.2L584.1 996.5L585.0 997.8L585.8 999.1L586.7 1000.3L587.6 1001.5L588.5 1002.8L589.4 1003.9L590.3 1005.1L591.3 1006.4L592.3 1007.6L593.4 1008.9L594.5 1010.1L595.5 1011.3L596.6 1012.5L597.7 1013.7L598.8 1014.9L599.9 1016.0L601.0 1017.1L602.2 1018.2L603.3 1019.3L604.5 1020.3L605.7 1021.3L606.8 1022.2L608.0 1023.1L609.2 1023.9L610.6 1024.8L612.0 1025.7L613.4 1026.6L614.8 1027.4L616.2 1028.2L617.7 1028.9L619.1 1029.6L620.6 1030.2L622.1 1030.8L623.6 1031.2L625.1 1031.6L626.6 1031.8L628.1 1032.0L629.6 1032.0L631.0 1032.0L632.5 1031.8L634.0 1031.6L635.6 1031.3L637.1 1030.9L638.6 1030.5L640.1 1030.0L641.7 1029.4L643.2 1028.8L644.7 1028.2L646.3 1027.6L647.8 1026.9L649.3 1026.3L650.6 1025.7L651.9 1025.1L653.3 1024.5L654.6 1023.8L655.9 1023.1L657.3 1022.4L658.6 1021.7L659.9 1020.9L661.2 1020.1L662.6 1019.3L663.9 1018.5L665.2 1017.6L666.5 1016.8L667.8 1015.9L669.1 1015.0L670.4 1014.0L671.6 1013.1L672.9 1012.1L674.0 1011.2L675.1 1010.3L676.3 1009.3L677.4 1008.4L678.5 1007.4L679.6 1006.4L680.6 1005.4L681.7 1004.3L682.8 1003.3L683.9 1002.2L685.0 1001.1L686.0 1000.0L687.1 998.9L688.1 997.8L689.2 996.6L690.2 995.5L691.3 994.3L692.3 993.2L693.4 992.0L694.4 990.9L695.5 989.7L696.5 988.5L697.5 987.4L698.5 986.2L699.5 985.0L700.5 983.8L701.5 982.6L702.5 981.4L703.5 980.1L704.5 978.8L705.5 977.6L706.5 976.3L707.5 975.0L708.4 973.7L709.4 972.4L710.4 971.1L711.3 969.8L712.3 968.6L713.2 967.3L714.1 966.1L715.0 964.8L715.9 963.6L716.8 962.4L717.7 961.2L718.5 960.1L719.3 959.0L720.1 957.9L721.1 956.5L722.1 955.1L723.1 953.8L724.0 952.5L724.9 951.2L725.8 949.9L726.6 948.7L727.5 947.4L728.3 946.2L729.1 945.0L729.9 943.7L730.8 942.5L731.6 941.3L732.4 940.0L733.3 938.7L734.2 937.4L735.1 936.0L736.0 934.7L736.9 933.4L737.8 932.0L738.7 930.7L739.5 929.4L740.3 928.1L741.1 926.8L741.7 925.5L742.3 924.2L742.8 923.0L743.2 921.5L743.5 920.0L743.6 918.5L743.6 917.1L743.6 915.6L743.7 914.1L744.0 912.6L744.5 911.0L745.0 909.8L745.6 908.7L746.2 907.5L746.9 906.2L747.7 905.0L748.6 903.7L749.5 902.4L750.4 901.1L751.4 899.8L752.4 898.5L753.3 897.2L754.3 895.8L755.3 894.5L756.3 893.1L757.2 891.8L758.1 890.4L759.0 889.1L759.8 887.8L760.6 886.6L761.4 885.3L762.1 884.0L762.9 882.7L763.7 881.4L764.5 880.0L765.2 878.7L766.0 877.4L766.8 876.1L767.6 874.7L768.3 873.4L769.1 872.1L769.9 870.7L770.6 869.4L771.4 868.0L772.2 866.7L772.9 865.3L773.7 864.0L774.4 862.7L775.2 861.4L775.9 860.1L776.6 858.8L777.3 857.5L778.0 856.2L778.7 854.9L779.4 853.6L780.1 852.3L780.9 851.0L781.6 849.7L782.3 848.3L783.0 847.0L783.8 845.7L784.5 844.3L785.3 843.0L786.1 841.6L786.9 840.3L787.7 838.9L788.5 837.5L789.2 836.3L790.0 835.1L790.7 833.9L791.5 832.6L792.3 831.4L793.1 830.1L793.9 828.9L794.7 827.6L795.5 826.4L796.3 825.1L797.2 823.8L798.0 822.5L798.8 821.3L799.7 820.0L800.5 818.7L801.4 817.4L802.2 816.1L803.1 814.8L804.0 813.5L804.8 812.2L805.7 810.9L806.5 809.6L807.4 808.3L808.3 807.0L809.1 805.8L810.0 804.5L810.8 803.2L811.6 801.9L812.5 800.7L813.3 799.4L814.1 798.1L814.9 796.9L815.8 795.6L816.6 794.3L817.4 793.0L818.3 791.7L819.1 790.5L820.0 789.2L820.8 787.9L821.6 786.6L822.5 785.3L823.3 784.0L824.2 782.8L825.0 781.5L825.8 780.2L826.7 778.9L827.5 777.7L828.4 776.4L829.3 775.2L830.1 773.9L831.0 772.7L831.8 771.5L832.7 770.2L833.5 769.0L834.4 767.8L835.3 766.5L836.2 765.3L837.2 764.0L838.1 762.8L839.0 761.6L839.9 760.4L840.8 759.2L841.7 758.0L842.6 756.8L843.5 755.6L844.5 754.5L845.4 753.3L846.3 752.1L847.2 750.9L848.2 749.7L849.1 748.5L850.1 747.3L851.0 746.1L852.0 744.9L853.0 743.6L854.0 742.4L855.0 741.1L856.0 739.8L857.0 738.5L858.0 737.1L858.8 736.0L859.7 734.9L860.5 733.8L861.3 732.7L862.2 731.6L863.1 730.4L863.9 729.3L864.8 728.1L865.7 727.0L866.6 725.8L867.5 724.6L868.4 723.4L869.3 722.2L870.2 721.0L871.2 719.8L872.1 718.6L873.0 717.4L873.9 716.2L874.9 714.9L875.8 713.7L876.7 712.5L877.7 711.2L878.6 710.0L879.5 708.7L880.5 707.5L881.4 706.2L882.4 705.0L883.3 703.7L884.2 702.5L885.2 701.2L886.1 700.0L887.0 698.7L887.9 697.4L888.9 696.2L889.8 694.9L890.7 693.7L891.6 692.4L892.5 691.2L893.4 689.9L894.3 688.7L895.2 687.4L896.0 686.2L896.9 685.0L897.8 683.7L898.6 682.4L899.5 681.2L900.4 679.9L901.2 678.7L902.1 677.4L902.9 676.1L903.8 674.8L904.7 673.6L905.5 672.3L906.4 671.0L907.2 669.7L908.1 668.4L909.0 667.2L909.8 665.9L910.7 664.6L911.5 663.3L912.4 662.0L913.2 660.7L914.1 659.5L915.0 658.2L915.8 656.9L916.7 655.6L917.5 654.3L918.4 653.1L919.3 651.8L920.1 650.5L921.0 649.2L921.8 648.0L922.7 646.7L923.6 645.5L924.4 644.2L925.3 642.9L926.2 641.7L927.0 640.5L927.9 639.2L928.8 638.0L929.7 636.8L930.6 635.5L931.5 634.3L932.4 633.0L933.3 631.8L934.2 630.5L935.1 629.3L936.0 628.0L936.9 626.8L937.8 625.6L938.7 624.3L939.6 623.1L940.5 621.8L941.4 620.6L942.3 619.4L943.2 618.2L944.1 616.9L945.0 615.7L945.9 614.5L946.8 613.3L947.7 612.1L948.6 610.8L949.5 609.6L950.4 608.4L951.3 607.2L952.2 606.0L953.1 604.8L954.1 603.6L955.0 602.5L955.9 601.3L956.8 600.1L957.7 598.9L958.6 597.7L959.6 596.6L960.5 595.4L961.4 594.3L962.3 593.1L963.3 591.9L964.2 590.8L965.2 589.6L966.2 588.4L967.2 587.2L968.2 586.0L969.1 584.8L970.1 583.6L971.1 582.4L972.1 581.2L973.1 580.0L974.1 578.8L975.1 577.6L976.1 576.5L977.1 575.3L978.1 574.1L979.1 573.0L980.1 571.8L981.1 570.7L982.1 569.5L983.1 568.4L984.2 567.2L985.2 566.1L986.2 564.9L987.2 563.8L988.2 562.7L989.2 561.6L990.3 560.5L991.3 559.4L992.3 558.3L993.4 557.2L994.4 556.1L995.4 555.0L996.5 553.9L997.5 552.8L998.6 551.8L999.6 550.7L1000.7 549.6L1001.8 548.5L1002.9 547.4L1004.1 546.3L1005.2 545.2L1006.3 544.2L1007.5 543.1L1008.6 542.0L1009.8 541.0L1011.0 539.9L1012.1 538.8L1013.3 537.8L1014.5 536.8L1015.6 535.7L1016.8 534.7L1018.0 533.7L1019.1 532.7L1020.3 531.6L1021.5 530.6L1022.6 529.6L1023.8 528.6L1024.9 527.6L1026.1 526.7L1027.2 525.7L1028.3 524.7L1029.5 523.7L1030.6 522.8L1031.7 521.8L1032.8 520.8L1033.9 519.9L1034.9 518.9L1036.0 518.0L1037.2 516.9L1038.4 515.9L1039.6 514.8L1040.8 513.8L1041.9 512.8L1043.1 511.8L1044.2 510.8L1045.3 509.8L1046.5 508.8L1047.6 507.8L1048.7 506.9L1049.8 505.9L1050.9 504.9L1052.0 504.0L1053.1 503.0L1054.2 502.0L1055.4 501.1L1056.5 500.1L1057.6 499.1L1058.7 498.1L1059.9 497.1L1061.0 496.1L1062.1 495.0L1063.3 494.0L1064.4 493.0L1065.5 492.0L1066.6 490.9L1067.7 489.9L1068.8 488.8L1069.9 487.7L1071.0 486.6L1072.1 485.5L1073.2 484.4L1074.3 483.3L1075.4 482.2L1076.5 481.1L1077.7 480.0L1078.8 478.8L1079.9 477.7L1081.0 476.6L1082.2 475.6L1083.3 474.5L1084.5 473.4L1085.6 472.4L1086.8 471.3L1088.0 470.3L1089.1 469.3L1090.3 468.4L1091.5 467.4L1092.8 466.5L1094.0 465.6L1095.3 464.7L1096.5 463.8L1097.8 463.0L1099.1 462.2L1100.4 461.3L1101.8 460.5L1103.1 459.8L1104.4 459.0L1105.8 458.2L1107.2 457.5L1108.5 456.8L1109.9 456.0L1111.3 455.3L1112.6 454.6L1114.0 453.9L1115.4 453.2L1116.8 452.6L1118.2 451.9L1119.6 451.2L1121.0 450.6L1122.4 449.9L1123.8 449.3L1125.2 448.6L1126.5 448.0L1127.9 447.3L1129.3 446.7L1130.7 446.0L1132.1 445.4L1133.5 444.7L1134.9 444.0L1136.3 443.4L1137.7 442.7L1139.1 442.0L1140.5 441.4L1141.9 440.7L1143.3 440.1L1144.7 439.4L1146.1 438.8L1147.6 438.2L1149.0 437.6L1150.4 437.0L1151.8 436.4L1153.2 435.9L1154.7 435.4L1156.1 434.9L1157.5 434.4L1158.9 434.0L1160.4 433.6L1161.8 433.2L1163.3 432.9L1164.7 432.6L1166.2 432.3L1167.8 432.1L1169.4 431.8L1171.0 431.6L1172.7 431.5L1174.4 431.3L1176.0 431.2L1177.7 431.1L1179.4 431.0L1181.1 430.9L1182.8 430.9L1184.4 430.9L1186.1 430.9L1187.7 431.0L1189.2 431.0L1190.8 431.1L1192.3 431.3L1193.7 431.4L1195.1 431.6L1196.5 431.8L1197.8 432.0L1199.0 432.3L1200.1 432.6L1201.8 433.1L1203.3 433.6L1204.8 434.3L1206.1 434.9L1207.4 435.7L1208.6 436.5L1209.7 437.5L1210.8 438.5L1211.9 439.7L1212.7 440.7L1213.4 441.8L1214.1 443.0L1214.8 444.3L1215.4 445.6L1216.0 447.0L1216.5 448.5L1217.1 450.0L1217.6 451.5L1218.1 453.1L1218.6 454.6L1219.1 456.1L1219.6 457.7L1220.0 459.2L1220.5 460.6L1221.0 462.0L1221.5 463.6L1222.0 465.1L1222.5 466.7L1222.9 468.3L1223.4 469.8L1223.8 471.4L1224.2 472.9L1224.6 474.4L1225.1 476.0L1225.5 477.5L1226.0 479.0L1226.5 480.5L1227.0 482.0L1227.5 483.5L1228.1 485.2L1228.6 486.9L1229.2 488.7L1229.7 490.5L1230.3 492.3L1230.9 493.9L1231.5 495.5L1232.2 496.9L1232.8 498.1L1233.5 499.0L1234.2 499.7L1235.0 500.0L1236.0 499.9L1237.0 499.3L1238.1 498.4L1239.2 497.1L1240.4 495.7L1241.5 494.2L1242.7 492.7L1243.9 491.2L1245.0 490.0L1246.1 488.8L1247.3 487.6L1248.4 486.3L1249.5 485.0L1250.7 483.8L1251.8 482.6L1253.0 481.5L1254.2 480.6L1255.4 479.8L1256.9 479.0L1258.4 478.4L1259.9 477.9L1261.5 477.5L1263.1 477.4L1264.8 477.4L1266.1 477.6L1267.4 478.1L1268.7 478.8L1270.0 479.6L1271.4 480.4L1272.8 481.2L1274.2 482.0L1275.8 482.6L1277.3 483.1L1279.0 483.3L1280.2 483.3L1281.5 483.1L1282.9 482.8L1284.4 482.4L1285.9 481.9L1287.4 481.4L1289.0 480.7L1290.6 480.1L1292.2 479.3L1293.9 478.6L1295.5 477.8L1297.1 477.1L1298.7 476.4L1300.3 475.7L1301.9 475.0L1303.3 474.4L1304.8 473.9L1306.1 473.4L1307.4 473.1L1308.6 472.8L1309.7 472.7L1311.5 472.7L1313.1 472.9L1314.5 473.3L1315.9 473.7L1317.4 474.3L1319.1 475.0L1320.2 475.4L1321.3 476.0L1322.5 476.7L1323.8 477.4L1325.1 478.2L1326.4 479.1L1327.8 480.0L1329.2 480.9L1330.7 481.8L1332.1 482.7L1333.6 483.6L1335.1 484.5L1336.6 485.2L1338.0 486.0L1339.5 486.6L1340.9 487.1L1342.3 487.6L1343.7 487.9L1345.0 488.0L1346.5 488.0L1347.9 487.8L1349.4 487.6L1350.8 487.2L1352.3 486.7L1353.7 486.1L1355.1 485.5L1356.6 484.8L1358.0 484.1L1359.4 483.3L1360.8 482.6L1362.2 481.8L1363.6 481.1L1364.9 480.4L1366.3 479.8L1367.7 479.1L1369.0 478.4L1370.3 477.7L1371.6 476.9L1372.9 476.2L1374.1 475.4L1375.4 474.6L1376.7 473.8L1378.0 473.1L1379.3 472.4L1380.7 471.8L1382.1 471.2L1383.6 470.7L1385.2 470.3L1386.5 470.0L1387.9 469.8L1389.3 469.6L1390.8 469.5L1392.3 469.4L1393.9 469.3L1395.5 469.3L1397.2 469.3L1398.8 469.3L1400.5 469.3L1402.2 469.4L1403.9 469.5L1405.5 469.6L1407.2 469.7L1408.8 469.9L1410.5 470.0L1412.1 470.2L1413.6 470.4L1415.1 470.6L1416.6 470.8L1418.0 471.0L1419.3 471.3L1420.6 471.5L1422.4 471.9L1424.0 472.2L1425.6 472.6L1427.1 473.0L1428.6 473.5L1430.0 474.0L1431.4 474.6L1432.8 475.2L1434.1 475.8L1435.6 476.6L1437.0 477.4L1438.2 478.1L1439.4 479.0L1440.6 479.8L1441.8 480.8L1442.9 481.7L1444.1 482.8L1445.3 483.8L1446.4 484.9L1447.6 486.0L1448.8 487.2L1449.9 488.3L1451.1 489.5L1452.3 490.6L1453.5 491.8L1454.8 492.9L1456.0 494.0L1457.1 495.0L1458.1 495.9L1459.2 496.9L1460.3 497.9L1461.4 498.9L1462.5 500.0L1463.6 501.0L1464.8 502.1L1465.9 503.1L1467.0 504.2L1468.1 505.2L1469.3 506.2L1470.4 507.3L1471.6 508.3L1472.7 509.4L1473.8 510.4L1475.0 511.4L1476.1 512.4L1477.3 513.3L1478.4 514.3L1479.6 515.2L1480.8 516.2L1482.1 517.1L1483.3 518.1L1484.6 519.0L1485.9 520.0L1487.2 520.9L1488.5 521.8L1489.8 522.7L1491.1 523.6L1492.4 524.5L1493.7 525.4L1494.9 526.2L1496.2 527.1L1497.4 527.9L1498.6 528.7L1499.8 529.5L1501.0 530.2L1502.1 531.0L1503.2 531.7L1504.7 532.7L1506.1 533.7L1507.5 534.8L1508.8 535.8L1510.1 536.7L1511.4 537.6L1512.7 538.4L1513.9 539.1L1515.2 539.6L1516.5 540.0L1518.2 540.2L1519.9 540.1L1521.5 539.8L1523.2 539.4L1524.9 539.0L1526.7 538.8L1528.2 538.7L1529.7 538.6L1531.2 538.6L1532.8 538.5L1534.4 538.5L1536.1 538.5L1537.7 538.4L1539.5 538.4L1541.3 538.3L1542.7 538.2L1544.1 538.2L1545.6 538.1L1547.2 537.9L1548.7 537.8L1550.3 537.7L1552.0 537.6L1553.6 537.5L1555.3 537.4L1556.9 537.3L1558.5 537.2L1560.1 537.1L1561.7 537.1L1563.2 537.1L1564.7 537.1L1566.1 537.1L1567.8 537.1L1569.4 537.2L1571.0 537.2L1572.7 537.3L1574.2 537.3L1575.8 537.5L1577.3 537.6L1578.7 537.9L1580.1 538.2L1581.4 538.6L1582.6 539.1L1584.1 539.9L1585.4 540.9L1586.6 542.1L1587.7 543.3L1588.8 544.6L1589.9 546.0L1590.9 547.4L1591.8 548.6L1592.7 549.9L1593.5 551.2L1594.3 552.6L1595.1 554.0L1595.9 555.4L1596.6 556.9L1597.3 558.4L1598.0 560.0L1598.5 561.4L1599.1 562.8L1599.6 564.2L1600.0 565.7L1600.5 567.2L1600.9 568.8L1601.3 570.3L1601.7 571.9L1602.1 573.4L1602.5 575.0L1602.9 576.5L1603.3 578.0L1603.7 579.5L1604.1 581.0L1604.5 582.5L1604.9 583.9L1605.2 585.3L1605.6 586.8L1606.0 588.3L1606.4 589.8L1606.7 591.5L1607.1 593.2L1607.5 595.0L1607.8 596.2L1608.0 597.5L1608.3 598.7L1608.5 600.0L1608.8 601.4L1609.1 602.8L1609.3 604.2L1609.6 605.6L1609.9 607.0L1610.1 608.5L1610.4 610.0L1610.7 611.5L1611.0 613.1L1611.2 614.7L1611.5 616.2L1611.8 617.8L1612.1 619.5L1612.3 621.1L1612.6 622.7L1612.9 624.4L1613.1 626.1L1613.4 627.7L1613.7 629.4L1613.9 631.1L1614.2 632.8L1614.4 634.5L1614.7 636.2L1614.9 637.5L1615.1 638.9L1615.3 640.3L1615.5 641.7L1615.7 643.1L1615.9 644.6L1616.1 646.0L1616.2 647.5L1616.4 649.0L1616.6 650.5L1616.8 652.0L1617.0 653.5L1617.2 655.0L1617.4 656.5L1617.5 658.1L1617.7 659.6L1617.9 661.2L1618.1 662.8L1618.3 664.3L1618.5 665.9L1618.6 667.5L1618.8 669.1L1619.0 670.6L1619.2 672.2L1619.3 673.8L1619.5 675.4L1619.7 677.0L1619.9 678.5L1620.1 680.1L1620.2 681.7L1620.4 683.2L1620.6 684.8L1620.8 686.3L1620.9 687.9L1621.1 689.4L1621.3 690.9L1621.5 692.5L1621.6 694.0L1621.8 695.5L1622.0 696.9L1622.2 698.4L1622.3 699.9L1622.5 701.3L1622.7 702.9L1622.9 704.5L1623.1 706.1L1623.2 707.7L1623.4 709.3L1623.6 710.9L1623.7 712.6L1623.9 714.2L1624.0 715.8L1624.2 717.5L1624.3 719.1L1624.5 720.7L1624.7 722.4L1624.8 724.0L1625.0 725.6L1625.1 727.2L1625.3 728.8L1625.4 730.4L1625.6 731.9L1625.8 733.5L1625.9 735.0L1626.1 736.5L1626.3 738.0L1626.5 739.4L1626.7 740.8L1626.9 742.3L1627.1 743.6L1627.3 745.0L1627.5 746.3L1627.7 747.6L1628.0 748.8L1628.2 750.0L1628.5 751.2L1628.7 752.3L1629.0 753.4L1629.5 755.3L1630.0 757.2L1630.5 759.1L1631.0 760.9L1631.6 762.7L1632.1 764.4L1632.7 766.0L1633.3 767.3L1633.9 768.5L1634.6 769.4L1635.3 770.0L1636.0 770.2L1636.7 770.1L1637.4 769.7L1638.1 768.9L1638.8 768.0L1639.6 766.8L1640.3 765.4L1641.1 763.9L1642.0 762.3L1642.8 760.7L1643.7 759.0L1644.5 757.3L1645.5 755.6L1646.4 754.0L1647.3 752.6L1648.3 751.3L1649.3 750.1L1650.3 749.0L1651.3 747.9L1652.4 746.7L1653.5 745.6L1654.7 744.5L1655.8 743.4L1657.0 742.3L1658.1 741.2L1659.3 740.1L1660.5 739.0L1661.7 737.9L1662.8 736.9L1663.9 735.8L1665.1 734.7L1666.1 733.6L1667.2 732.5L1668.3 731.4L1669.3 730.2L1670.4 729.1L1671.4 728.0L1672.4 726.8L1673.4 725.7L1674.3 724.6L1675.3 723.5L1676.3 722.3L1677.3 721.2L1678.3 720.1L1679.3 719.0L1680.3 717.8L1681.3 716.7L1682.3 715.5L1683.3 714.3L1684.4 713.1L1685.4 711.9L1686.4 710.6L1687.5 709.4L1688.5 708.1L1689.6 706.8L1690.6 705.6L1691.7 704.3L1692.7 703.1L1693.8 701.9L1694.9 700.8L1695.9 699.6L1697.0 698.6L1698.1 697.6L1699.2 696.6L1700.5 695.5L1701.9 694.3L1703.3 693.1L1704.7 692.0L1706.1 691.0L1707.5 690.0L1708.9 689.1L1710.3 688.4L1711.6 687.8L1713.0 687.4L1714.3 687.2L1715.8 687.3L1717.2 687.7L1718.6 688.3L1720.0 689.1L1721.4 690.0L1722.8 691.0L1724.2 691.9L1725.7 692.8L1727.0 693.6L1728.3 694.6L1729.7 695.7L1731.0 696.9L1732.4 698.0L1733.7 699.1L1735.1 700.2L1736.5 701.1L1737.9 701.7L1739.4 702.2L1740.8 702.3L1742.0 702.2L1743.2 701.8L1744.5 701.3L1745.7 700.6L1747.0 699.7L1748.2 698.8L1749.5 697.7L1750.8 696.6L1752.1 695.4L1753.3 694.3L1754.6 693.1L1755.9 692.0L1757.1 690.9L1758.4 689.9L1759.6 689.0L1760.9 688.1L1762.2 687.1L1763.5 686.1L1764.8 685.1L1766.1 684.2L1767.4 683.2L1768.7 682.2L1770.0 681.3L1771.2 680.5L1772.5 679.7L1773.7 679.0L1774.9 678.4L1776.1 677.9L1777.9 677.3L1779.5 676.9L1781.1 676.6L1782.8 676.5L1784.6 676.5L1786.5 676.6L1787.7 676.7L1789.0 676.9L1790.4 677.1L1791.8 677.4L1793.2 677.7L1794.7 678.0L1796.2 678.4L1797.7 678.9L1799.3 679.3L1800.9 679.8L1802.4 680.3L1804.0 680.8L1805.5 681.4L1807.1 681.9L1808.5 682.5L1810.0 683.1L1811.4 683.7L1812.8 684.3L1814.2 684.9L1815.7 685.6L1817.1 686.3L1818.5 687.0L1819.9 687.7L1821.3 688.5L1822.7 689.2L1824.0 690.0L1825.4 690.8L1826.8 691.6L1828.1 692.5L1829.5 693.3L1830.8 694.2L1832.1 695.1L1833.4 696.0L1834.6 696.9L1835.9 697.8L1837.1 698.7L1838.3 699.7L1839.5 700.7L1840.6 701.7L1841.8 702.7L1843.0 703.7L1844.1 704.8L1845.3 705.8L1846.4 706.9L1847.5 708.0L1848.6 709.0L1849.8 710.1L1850.9 711.2L1852.0 712.2L1853.1 713.3L1854.2 714.3L1855.3 715.4L1856.4 716.4L1857.5 717.5L1858.7 718.5L1859.7 719.6L1860.8 720.7L1861.9 721.7L1863.0 722.8L1864.1 723.9L1865.1 724.9L1866.2 726.0L1867.3 727.1L1868.3 728.2L1869.3 729.2L1870.4 730.3L1871.4 731.4L1872.4 732.5L1873.4 733.6L1874.5 734.7L1875.5 735.8L1876.6 737.0L1877.6 738.1L1878.6 739.2L1879.6 740.3L1880.6 741.4L1881.6 742.6L1882.6 743.7L1883.6 744.8L1884.5 746.0L1885.4 747.2L1886.3 748.4L1887.2 749.6L1888.0 750.8L1888.8 752.1L1889.6 753.4L1890.4 754.7L1891.2 756.0L1891.9 757.4L1892.6 758.7L1893.2 760.1L1893.9 761.5L1894.6 762.9L1895.2 764.3L1895.8 765.7L1896.5 767.1L1897.1 768.6L1897.8 770.1L1898.4 771.6L1899.0 772.9L1899.5 774.3L1900.1 775.6L1900.6 777.0L1901.1 778.4L1901.7 779.8L1902.2 781.2L1902.7 782.7L1903.2 784.1L1903.8 785.6L1904.3 787.0L1904.8 788.5L1905.3 790.0L1905.8 791.5L1906.3 792.9L1906.8 794.4L1907.3 795.9L1907.9 797.3L1908.4 798.8L1908.9 800.2L1909.4 801.6L1909.9 803.1L1910.4 804.6L1910.9 806.1L1911.4 807.6L1911.9 809.1L1912.4 810.6L1912.9 812.1L1913.4 813.7L1913.9 815.2L1914.4 816.7L1914.9 818.1L1915.4 819.6L1915.9 821.0L1916.5 822.4L1917.0 823.8L1917.6 825.1L1918.1 826.4L1918.7 827.7L1919.3 828.9L1920.1 830.5L1920.8 832.1L1921.6 833.7L1922.3 835.2L1923.0 836.8L1923.8 838.2L1924.6 839.6L1925.5 840.9L1926.4 842.1L1927.4 843.1L1928.5 843.9L1929.7 844.5L1930.9 844.8L1932.2 845.0L1933.5 844.9L1935.0 844.6L1936.5 844.3L1938.0 843.8L1939.6 843.3L1941.2 842.7L1942.8 842.1L1944.4 841.6L1946.0 841.2L1947.5 840.8L1949.0 840.6L1950.5 840.6L1952.1 840.8L1953.7 841.1L1955.2 841.6L1956.8 842.2L1958.4 842.8L1959.9 843.5L1961.4 844.1L1962.9 844.7L1964.4 845.2L1965.9 845.6L1967.3 845.8L1968.7 845.8L1970.3 845.5L1971.7 845.0L1973.2 844.4L1974.6 843.6L1976.0 842.7L1977.3 841.8L1978.8 840.9L1980.2 840.0L1981.8 839.3L1983.2 838.7L1984.6 838.0L1986.1 837.3L1987.6 836.6L1989.1 835.9L1990.7 835.2L1992.2 834.5L1993.8 834.0L1995.4 833.5L1996.9 833.1L1998.5 832.9L2000.0 832.8L2001.5 832.9L2003.1 833.0L2004.6 833.3L2006.1 833.7L2007.7 834.2L2009.2 834.8L2010.7 835.4L2012.3 836.1L2013.8 836.9L2015.3 837.7L2016.7 838.5L2018.2 839.3L2019.5 840.1L2020.7 840.9L2022.0 841.8L2023.3 842.7L2024.5 843.7L2025.7 844.7L2026.9 845.7L2028.1 846.8L2029.3 847.9L2030.5 849.0L2031.7 850.1L2032.9 851.3L2034.1 852.5L2035.2 853.7L2036.4 854.9L2037.4 856.0L2038.4 857.1L2039.4 858.2L2040.4 859.4L2041.4 860.6L2042.4 861.8L2043.4 863.0L2044.4 864.3L2045.3 865.5L2046.3 866.8L2047.3 868.1L2048.2 869.4L2049.2 870.6L2050.1 871.9L2051.0 873.2L2052.0 874.5L2052.9 875.8L2053.8 877.0L2054.7 878.3L2055.6 879.6L2056.5 880.9L2057.5 882.2L2058.4 883.6L2059.3 884.9L2060.2 886.2L2061.1 887.6L2062.0 888.9L2062.8 890.3L2063.7 891.6L2064.6 892.9L2065.4 894.3L2066.3 895.6L2067.1 896.9L2067.9 898.1L2068.7 899.4L2069.5 900.6L2070.3 901.8L2071.2 903.2L2072.1 904.6L2072.9 906.0L2073.6 907.3L2074.4 908.6L2075.2 909.9L2075.9 911.2L2076.7 912.5L2077.6 913.8L2078.5 915.2L2079.6 916.6L2080.7 918.0L2081.5 919.0L2082.4 920.0L2083.3 921.0L2084.2 922.0L2085.2 923.0L2086.2 924.1L2087.2 925.1L2088.3 926.2L2089.4 927.3L2090.5 928.3L2091.7 929.4L2092.8 930.5L2094.0 931.6L2095.2 932.7L2096.4 933.8L2097.6 934.9L2098.8 936.0L2100.0 937.1L2101.2 938.2L2102.4 939.4L2103.6 940.5L2104.7 941.6L2105.9 942.6L2107.1 943.7L2108.2 944.8L2109.3 945.9" fill="none" stroke="#008000" stroke-width="8.6" stroke-linejoin="round" stroke-linecap="butt" shape-rendering="crispEdges"/>
<line x1="1235.3" y1="243.8" x2="1235.3" y2="721.6" stroke="#000" stroke-width="2.6"/>
<rect x="263" y="76.5" width="1848" height="1365.5" fill="none" stroke="#000" stroke-width="6"/>
<line x1="249.4" y1="1370.9" x2="259" y2="1370.9" stroke="#000" stroke-width="6.8" stroke-linecap="round"/>
<line x1="236.4" y1="1228.6" x2="259" y2="1228.6" stroke="#000" stroke-width="6.8" stroke-linecap="round"/>
<text x="217" y="1250.8" text-anchor="end" class="tl">20</text>
<line x1="249.4" y1="1086.4" x2="259" y2="1086.4" stroke="#000" stroke-width="6.8" stroke-linecap="round"/>
<line x1="236.4" y1="944.2" x2="259" y2="944.2" stroke="#000" stroke-width="6.8" stroke-linecap="round"/>
<text x="217" y="966.4" text-anchor="end" class="tl">40</text>
<line x1="249.4" y1="801.9" x2="259" y2="801.9" stroke="#000" stroke-width="6.8" stroke-linecap="round"/>
<line x1="236.4" y1="659.7" x2="259" y2="659.7" stroke="#000" stroke-width="6.8" stroke-linecap="round"/>
<text x="217" y="681.9" text-anchor="end" class="tl">60</text>
<line x1="249.4" y1="517.4" x2="259" y2="517.4" stroke="#000" stroke-width="6.8" stroke-linecap="round"/>
<line x1="236.4" y1="375.2" x2="259" y2="375.2" stroke="#000" stroke-width="6.8" stroke-linecap="round"/>
<text x="217" y="397.4" text-anchor="end" class="tl">80</text>
<line x1="249.4" y1="233.0" x2="259" y2="233.0" stroke="#000" stroke-width="6.8" stroke-linecap="round"/>
<line x1="236.4" y1="90.7" x2="259" y2="90.7" stroke="#000" stroke-width="6.8" stroke-linecap="round"/>
<text x="217" y="112.9" text-anchor="end" class="tl">100</text>
<line x1="263.0" y1="1446" x2="263.0" y2="1455.0" stroke="#000" stroke-width="7" stroke-linecap="round"/>
<line x1="423.7" y1="1446" x2="423.7" y2="1469.1" stroke="#000" stroke-width="7" stroke-linecap="round"/>
<text x="422.9" y="1548.8" text-anchor="middle" class="tl">400</text>
<line x1="584.4" y1="1446" x2="584.4" y2="1455.0" stroke="#000" stroke-width="7" stroke-linecap="round"/>
<line x1="745.1" y1="1446" x2="745.1" y2="1469.1" stroke="#000" stroke-width="7" stroke-linecap="round"/>
<text x="744.3" y="1548.8" text-anchor="middle" class="tl">800</text>
<line x1="905.8" y1="1446" x2="905.8" y2="1455.0" stroke="#000" stroke-width="7" stroke-linecap="round"/>
<line x1="1066.5" y1="1446" x2="1066.5" y2="1469.1" stroke="#000" stroke-width="7" stroke-linecap="round"/>
<text x="1065.7" y="1548.8" text-anchor="middle" class="tl">1200</text>
<line x1="1227.2" y1="1446" x2="1227.2" y2="1455.0" stroke="#000" stroke-width="7" stroke-linecap="round"/>
<line x1="1387.9" y1="1446" x2="1387.9" y2="1469.1" stroke="#000" stroke-width="7" stroke-linecap="round"/>
<text x="1387.1" y="1548.8" text-anchor="middle" class="tl">1600</text>
<line x1="1548.6" y1="1446" x2="1548.6" y2="1455.0" stroke="#000" stroke-width="7" stroke-linecap="round"/>
<line x1="1709.3" y1="1446" x2="1709.3" y2="1469.1" stroke="#000" stroke-width="7" stroke-linecap="round"/>
<text x="1708.5" y="1548.8" text-anchor="middle" class="tl">2000</text>
<line x1="1870.0" y1="1446" x2="1870.0" y2="1455.0" stroke="#000" stroke-width="7" stroke-linecap="round"/>
<line x1="2030.7" y1="1446" x2="2030.7" y2="1469.1" stroke="#000" stroke-width="7" stroke-linecap="round"/>
<text x="2029.9" y="1548.8" text-anchor="middle" class="tl">2400</text>
<text transform="translate(883.5 1651.1) scale(1 1.03)" class="at" style="font-size:80px">Wavelenght (nm)</text>
<text transform="translate(94.1 1037) rotate(-90) scale(1 1.035)" class="at" style="font-size:79.4px">Reflectance (%)</text>
<text transform="translate(386.0 1300.3) scale(1 1.035)" style="font-size:68.0px">CT</text>
<text transform="translate(556.0 1121.9) scale(1 1.035)" style="font-size:68.0px">Cu(II)</text>
<text transform="translate(592.0 1204.4) scale(1 1.035)" style="font-size:68.0px">d-d</text>
<text transform="translate(1281.2 0) rotate(-90) scale(1 1.040)" style="fill:#000"><tspan x="-1043.6" y="0.0" style="font-family:'Liberation Serif',serif;font-size:61.5px">ν</tspan><tspan x="-1015.4 -997.8 -980.3" y="21.9" style="font-family:'Liberation Sans',Arial,sans-serif;font-size:32.0px">0–2</tspan><tspan x="-963.4 -915.3" y="0.0" style="font-family:'Liberation Sans',Arial,sans-serif;font-size:63.0px">OH</tspan></text>
<text transform="translate(1527.5 0) rotate(-90) scale(1 1.040)" style="fill:#000"><tspan x="-955.5" y="0.0" style="font-family:'Liberation Serif',serif;font-size:61.5px">ν</tspan><tspan x="-926.5 -906.1 -892.9" y="22.7" style="font-family:'Liberation Sans',Arial,sans-serif;font-size:37.0px">0-2</tspan><tspan x="-873.5 -828.0" y="0.0" style="font-family:'Liberation Sans',Arial,sans-serif;font-size:63.0px">CH</tspan></text>
<text transform="translate(1655.0 0) rotate(-90) scale(1 1.040)" style="fill:#000"><tspan x="-1298.2 -1271.5 -1237.9 -1222.5" y="0.0" style="font-family:'Liberation Serif',serif;font-size:61.5px">ν+δ </tspan><tspan x="-1196.2" y="0.0" style="font-family:'Liberation Sans',Arial,sans-serif;font-size:63.0px">H</tspan><tspan x="-1151.7" y="22.7" style="font-family:'Liberation Sans',Arial,sans-serif;font-size:38.0px">2</tspan><tspan x="-1131.5" y="0.0" style="font-family:'Liberation Sans',Arial,sans-serif;font-size:63.0px">O</tspan></text>
<text transform="translate(1789.0 0) rotate(-90) scale(1 1.040)" style="fill:#000"><tspan x="-1342.3" y="0.0" style="font-family:'Liberation Serif',serif;font-size:61.5px">ν</tspan><tspan x="-1312.7 -1264.2 -1220.0" y="0.0" style="font-family:'Liberation Sans',Arial,sans-serif;font-size:63.0px">OH+</tspan><tspan x="-1182.5" y="0.0" style="font-family:'Liberation Serif',serif;font-size:61.5px">ν</tspan><tspan x="-1155.2 -1109.0 -1088.6" y="0.0" style="font-family:'Liberation Sans',Arial,sans-serif;font-size:63.0px">C-O</tspan></text>
<text transform="translate(1937.5 0) rotate(-90) scale(1 1.040)" style="fill:#a0a0a0"><tspan x="-1283.3 -1253.8" y="0.0" style="font-family:'Liberation Serif',serif;font-size:65.5px">ν+</tspan><tspan x="-1217.5 -1201.4" y="0.0" style="font-family:'Liberation Serif',serif;font-size:64.5px">δ </tspan><tspan x="-1168.0 -1118.2" y="0.0" style="font-family:'Liberation Sans',Arial,sans-serif;font-size:67.0px">OH</tspan></text>
</svg>
</body></html>
